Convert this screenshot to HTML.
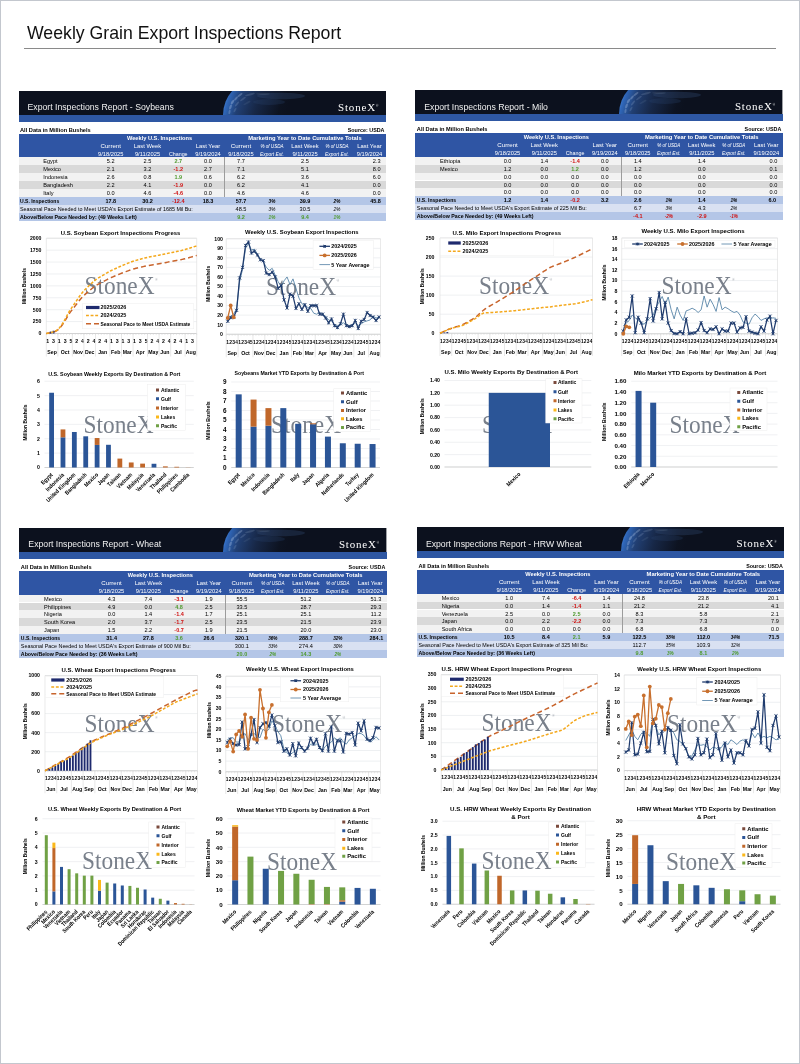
<!DOCTYPE html>
<html lang="en"><head><meta charset="utf-8"><title>Weekly Grain Export Inspections Report</title>
<style>
html,body{margin:0;padding:0;background:#fff}
body{width:800px;height:1064px;position:relative;overflow:hidden;font-family:"Liberation Sans",sans-serif;color:#000}
#page{position:absolute;left:0;top:0;width:800px;height:1064px;will-change:transform}
#frame{position:absolute;left:0;top:0;width:798px;height:1062px;border:1px solid #c3c7ce}
#title{position:absolute;left:27px;top:21.8px;font-size:17.7px;line-height:22px;color:#111;white-space:nowrap}
#rule{position:absolute;left:24px;top:47.6px;width:752px;height:1px;background:#8a8a8a}
#t div{position:absolute;white-space:nowrap;overflow:visible}
.c{font-size:5.6px;line-height:6px;height:6px}
.ac{text-align:center}.ar{text-align:right}.al{text-align:left}
.b{font-weight:700;font-size:5.5px}
.w{color:#fff}
.i{font-style:italic;font-size:4.7px}
.g{color:#4e9a2e}
.rd{color:#d01010}
.hdr{overflow:hidden}
.ht{color:#f0f0f0;font-size:8.7px;line-height:12px}
.logo{color:#fff;font-family:"Liberation Serif",serif;font-size:11px;line-height:12px;letter-spacing:0.8px}
.logo span{font-size:3px;vertical-align:top;position:relative;top:-1px}
svg text{font-family:"Liberation Sans",sans-serif}
svg text.wm{font-family:"Liberation Serif",serif;fill:#79808b}
#charts{position:absolute;left:0;top:0}
</style></head>
<body>
<div id="page">
<div id="frame"></div>
<div id="title">Weekly Grain Export Inspections Report</div>
<div id="rule"></div>
<div id="t">
<div class="hdr" style="left:18.5px;top:90.9px;width:367.4px;height:24px"><svg width="367.4" height="24" viewBox="0 0 367.4 24"><defs><linearGradient id="g1" gradientUnits="userSpaceOnUse" x1="205" y1="6" x2="282" y2="30"><stop offset="0" stop-color="#4a8ae0"/><stop offset="0.06" stop-color="#2f66b8"/><stop offset="0.2" stop-color="#213f73"/><stop offset="0.42" stop-color="#172746"/><stop offset="0.7" stop-color="#0d1321"/><stop offset="0.8" stop-color="#0c111e"/></linearGradient></defs><rect width="367.4" height="24" fill="#0c111e"/><circle cx="240" cy="24" r="36" fill="url(#g1)"/><g fill="#cfe0f7"><ellipse cx="262" cy="5" rx="24" ry="3.2" fill="#3a5686" opacity="0.28"/><ellipse cx="250" cy="11" rx="16" ry="3" fill="#2d4672" opacity="0.25"/><ellipse cx="213.5" cy="11" rx="2.6" ry="1.1" opacity="0.3" transform="rotate(-55 213.5 11)"/><ellipse cx="217" cy="7.5" rx="2.4" ry="1" opacity="0.28" transform="rotate(-45 217 7.5)"/><ellipse cx="221" cy="4" rx="3" ry="1" opacity="0.26" transform="rotate(-35 221 4)"/><ellipse cx="211.5" cy="16" rx="2.6" ry="1.1" opacity="0.28" transform="rotate(-68 211.5 16)"/><ellipse cx="210.5" cy="21" rx="2.2" ry="1" opacity="0.24" transform="rotate(-78 210.5 21)"/><ellipse cx="218" cy="13" rx="3" ry="0.9" opacity="0.16" transform="rotate(-50 218 13)"/><ellipse cx="224" cy="8" rx="3.4" ry="0.9" opacity="0.15" transform="rotate(-35 224 8)"/><ellipse cx="216" cy="19" rx="2.6" ry="0.9" opacity="0.14" transform="rotate(-60 216 19)"/><ellipse cx="231" cy="3.5" rx="5" ry="1" opacity="0.14" transform="rotate(-15 231 3.5)"/><ellipse cx="244" cy="3" rx="7" ry="0.9" opacity="0.1"/><ellipse cx="228" cy="12" rx="4" ry="1" opacity="0.08" transform="rotate(-30 228 12)"/></g></svg></div>
<div class="ht" style="left:27.5px;top:101.2px">Export Inspections Report - Soybeans</div>
<div class="logo" style="left:338.1px;top:100.5px">StoneX<span>®</span></div>
<div style="left:18.5px;top:114.8px;width:367.4px;height:7px;background:#2e57a3"></div>
<div class="c al b" style="left:20px;top:126.8px;width:120px;font-size:5.66px;">All Data in Million Bushels</div>
<div class="c ar b" style="left:304.5px;top:126.8px;width:80px;font-size:5.38px;">Source: USDA</div>
<div style="left:18.5px;top:133.7px;width:367.4px;height:23.7px;background:#2f55a4"></div>
<div class="c ac b w" style="left:109.5px;top:134.7px;width:100px;font-size:5.68px;">Weekly U.S. Inspections</div>
<div class="c ac b w" style="left:224.9px;top:134.7px;width:160px;font-size:5.81px;">Marketing Year to Date Cumulative Totals</div>
<div class="c ac w" style="left:90.75px;top:142.6px;width:40px;font-size:6.15px;">Current</div>
<div class="c ac w" style="left:90.75px;top:150.5px;width:40px;font-size:5.73px;">9/18/2025</div>
<div class="c ac w" style="left:127.5px;top:142.6px;width:40px;font-size:5.84px;">Last Week</div>
<div class="c ac w" style="left:127.5px;top:150.5px;width:40px;font-size:5.78px;">9/11/2025</div>
<div class="c ac w" style="left:158.25px;top:150.5px;width:40px;font-size:5.35px;">Change</div>
<div class="c ac w" style="left:188px;top:142.6px;width:40px;font-size:5.88px;">Last Year</div>
<div class="c ac w" style="left:188px;top:150.5px;width:40px;font-size:5.76px;">9/19/2024</div>
<div class="c ac w" style="left:221px;top:142.6px;width:40px;font-size:6.15px;">Current</div>
<div class="c ac w" style="left:221px;top:150.5px;width:40px;font-size:5.73px;">9/18/2025</div>
<div class="c ac w i" style="left:252px;top:143.6px;width:40px;font-size:4.6px;">% of USDA</div>
<div class="c ac w i" style="left:252px;top:151.5px;width:40px;font-size:4.86px;">Export Est.</div>
<div class="c ac w" style="left:285px;top:142.6px;width:40px;font-size:5.84px;">Last Week</div>
<div class="c ac w" style="left:285px;top:150.5px;width:40px;font-size:5.78px;">9/11/2025</div>
<div class="c ac w i" style="left:317px;top:143.6px;width:40px;font-size:4.6px;">% of USDA</div>
<div class="c ac w i" style="left:317px;top:151.5px;width:40px;font-size:4.86px;">Export Est.</div>
<div class="c ac w" style="left:349.5px;top:142.6px;width:40px;font-size:5.88px;">Last Year</div>
<div class="c ac w" style="left:349.5px;top:150.5px;width:40px;font-size:5.76px;">9/19/2024</div>
<div style="left:18.5px;top:157.4px;width:367.4px;height:7.9px;background:#f2f2f2"></div>
<div class="c al " style="left:43.25px;top:158.4px;width:80px;">Egypt</div>
<div class="c ac " style="left:90.75px;top:158.4px;width:40px;">5.2</div>
<div class="c ac " style="left:127.5px;top:158.4px;width:40px;">2.5</div>
<div class="c ac b g" style="left:158.25px;top:158.4px;width:40px;">2.7</div>
<div class="c ac " style="left:188px;top:158.4px;width:40px;">0.0</div>
<div class="c ac " style="left:221px;top:158.4px;width:40px;">7.7</div>
<div class="c ac " style="left:285px;top:158.4px;width:40px;">2.5</div>
<div class="c ar " style="left:340.5px;top:158.4px;width:40px;">2.3</div>
<div style="left:18.5px;top:165.3px;width:367.4px;height:7.9px;background:#d9d9d9"></div>
<div class="c al " style="left:43.25px;top:166.3px;width:80px;">Mexico</div>
<div class="c ac " style="left:90.75px;top:166.3px;width:40px;">2.1</div>
<div class="c ac " style="left:127.5px;top:166.3px;width:40px;">3.2</div>
<div class="c ac b rd" style="left:158.25px;top:166.3px;width:40px;">-1.2</div>
<div class="c ac " style="left:188px;top:166.3px;width:40px;">2.7</div>
<div class="c ac " style="left:221px;top:166.3px;width:40px;">7.1</div>
<div class="c ac " style="left:285px;top:166.3px;width:40px;">5.1</div>
<div class="c ar " style="left:340.5px;top:166.3px;width:40px;">8.0</div>
<div style="left:18.5px;top:173.2px;width:367.4px;height:7.9px;background:#f2f2f2"></div>
<div class="c al " style="left:43.25px;top:174.2px;width:80px;">Indonesia</div>
<div class="c ac " style="left:90.75px;top:174.2px;width:40px;">2.6</div>
<div class="c ac " style="left:127.5px;top:174.2px;width:40px;">0.8</div>
<div class="c ac b g" style="left:158.25px;top:174.2px;width:40px;">1.9</div>
<div class="c ac " style="left:188px;top:174.2px;width:40px;">0.6</div>
<div class="c ac " style="left:221px;top:174.2px;width:40px;">6.2</div>
<div class="c ac " style="left:285px;top:174.2px;width:40px;">3.6</div>
<div class="c ar " style="left:340.5px;top:174.2px;width:40px;">6.0</div>
<div style="left:18.5px;top:181.1px;width:367.4px;height:7.9px;background:#d9d9d9"></div>
<div class="c al " style="left:43.25px;top:182.1px;width:80px;">Bangladesh</div>
<div class="c ac " style="left:90.75px;top:182.1px;width:40px;">2.2</div>
<div class="c ac " style="left:127.5px;top:182.1px;width:40px;">4.1</div>
<div class="c ac b rd" style="left:158.25px;top:182.1px;width:40px;">-1.9</div>
<div class="c ac " style="left:188px;top:182.1px;width:40px;">0.0</div>
<div class="c ac " style="left:221px;top:182.1px;width:40px;">6.2</div>
<div class="c ac " style="left:285px;top:182.1px;width:40px;">4.1</div>
<div class="c ar " style="left:340.5px;top:182.1px;width:40px;">0.0</div>
<div style="left:18.5px;top:189px;width:367.4px;height:7.9px;background:#f2f2f2"></div>
<div class="c al " style="left:43.25px;top:190px;width:80px;">Italy</div>
<div class="c ac " style="left:90.75px;top:190px;width:40px;">0.0</div>
<div class="c ac " style="left:127.5px;top:190px;width:40px;">4.6</div>
<div class="c ac b rd" style="left:158.25px;top:190px;width:40px;">-4.6</div>
<div class="c ac " style="left:188px;top:190px;width:40px;">0.0</div>
<div class="c ac " style="left:221px;top:190px;width:40px;">4.6</div>
<div class="c ac " style="left:285px;top:190px;width:40px;">4.6</div>
<div class="c ar " style="left:340.5px;top:190px;width:40px;">0.0</div>
<div style="left:223.75px;top:157.4px;width:0.5px;height:39.5px;background:#9c9c9c"></div>
<div style="left:18.5px;top:196.9px;width:367.4px;height:7.9px;background:#b4c6e7"></div>
<div class="c al b" style="left:20px;top:197.9px;width:80px;font-size:5.05px;">U.S. Inspections</div>
<div class="c ac b" style="left:90.75px;top:197.9px;width:40px;">17.8</div>
<div class="c ac b" style="left:127.5px;top:197.9px;width:40px;">30.2</div>
<div class="c ac b rd" style="left:158.25px;top:197.9px;width:40px;">-12.4</div>
<div class="c ac b" style="left:188px;top:197.9px;width:40px;">18.3</div>
<div class="c ac b" style="left:221px;top:197.9px;width:40px;">57.7</div>
<div class="c ac b i" style="left:252px;top:198.9px;width:40px;">3%</div>
<div class="c ac b" style="left:285px;top:197.9px;width:40px;">39.9</div>
<div class="c ac b i" style="left:317px;top:198.9px;width:40px;">2%</div>
<div class="c ac b" style="left:355.5px;top:197.9px;width:40px;">45.8</div>
<div style="left:18.5px;top:204.8px;width:367.4px;height:7.9px;background:#d9e1f2"></div>
<div class="c al " style="left:20px;top:205.8px;width:200px;font-size:5.38px;">Seasonal Pace Needed to Meet USDA's Export Estimate of 1685 Mil Bu:</div>
<div class="c ac " style="left:221px;top:205.8px;width:40px;">48.5</div>
<div class="c ac i" style="left:252px;top:206.8px;width:40px;">3%</div>
<div class="c ac " style="left:285px;top:205.8px;width:40px;">30.5</div>
<div class="c ac i" style="left:317px;top:206.8px;width:40px;">2%</div>
<div style="left:18.5px;top:212.7px;width:367.4px;height:7.9px;background:#b4c6e7"></div>
<div class="c al b" style="left:20px;top:213.7px;width:200px;font-size:5.27px;">Above/Below Pace Needed by: (49 Weeks Left)</div>
<div class="c ac b g" style="left:221px;top:213.7px;width:40px;">9.2</div>
<div class="c ac b g i" style="left:252px;top:214.7px;width:40px;">1%</div>
<div class="c ac b g" style="left:285px;top:213.7px;width:40px;">9.4</div>
<div class="c ac b g i" style="left:317px;top:214.7px;width:40px;">1%</div>
<div class="hdr" style="left:415.3px;top:90.3px;width:367.4px;height:24px"><svg width="367.4" height="24" viewBox="0 0 367.4 24"><defs><linearGradient id="g2" gradientUnits="userSpaceOnUse" x1="205" y1="6" x2="282" y2="30"><stop offset="0" stop-color="#4a8ae0"/><stop offset="0.06" stop-color="#2f66b8"/><stop offset="0.2" stop-color="#213f73"/><stop offset="0.42" stop-color="#172746"/><stop offset="0.7" stop-color="#0d1321"/><stop offset="0.8" stop-color="#0c111e"/></linearGradient></defs><rect width="367.4" height="24" fill="#0c111e"/><circle cx="240" cy="24" r="36" fill="url(#g2)"/><g fill="#cfe0f7"><ellipse cx="262" cy="5" rx="24" ry="3.2" fill="#3a5686" opacity="0.28"/><ellipse cx="250" cy="11" rx="16" ry="3" fill="#2d4672" opacity="0.25"/><ellipse cx="213.5" cy="11" rx="2.6" ry="1.1" opacity="0.3" transform="rotate(-55 213.5 11)"/><ellipse cx="217" cy="7.5" rx="2.4" ry="1" opacity="0.28" transform="rotate(-45 217 7.5)"/><ellipse cx="221" cy="4" rx="3" ry="1" opacity="0.26" transform="rotate(-35 221 4)"/><ellipse cx="211.5" cy="16" rx="2.6" ry="1.1" opacity="0.28" transform="rotate(-68 211.5 16)"/><ellipse cx="210.5" cy="21" rx="2.2" ry="1" opacity="0.24" transform="rotate(-78 210.5 21)"/><ellipse cx="218" cy="13" rx="3" ry="0.9" opacity="0.16" transform="rotate(-50 218 13)"/><ellipse cx="224" cy="8" rx="3.4" ry="0.9" opacity="0.15" transform="rotate(-35 224 8)"/><ellipse cx="216" cy="19" rx="2.6" ry="0.9" opacity="0.14" transform="rotate(-60 216 19)"/><ellipse cx="231" cy="3.5" rx="5" ry="1" opacity="0.14" transform="rotate(-15 231 3.5)"/><ellipse cx="244" cy="3" rx="7" ry="0.9" opacity="0.1"/><ellipse cx="228" cy="12" rx="4" ry="1" opacity="0.08" transform="rotate(-30 228 12)"/></g></svg></div>
<div class="ht" style="left:424.3px;top:100.6px">Export Inspections Report - Milo</div>
<div class="logo" style="left:734.9px;top:99.9px">StoneX<span>®</span></div>
<div style="left:415.3px;top:114.2px;width:367.4px;height:7px;background:#2e57a3"></div>
<div class="c al b" style="left:416.8px;top:126.2px;width:120px;font-size:5.66px;">All Data in Million Bushels</div>
<div class="c ar b" style="left:701.3px;top:126.2px;width:80px;font-size:5.38px;">Source: USDA</div>
<div style="left:415.3px;top:133.1px;width:367.4px;height:23.7px;background:#2f55a4"></div>
<div class="c ac b w" style="left:506.3px;top:134.1px;width:100px;font-size:5.68px;">Weekly U.S. Inspections</div>
<div class="c ac b w" style="left:621.7px;top:134.1px;width:160px;font-size:5.81px;">Marketing Year to Date Cumulative Totals</div>
<div class="c ac w" style="left:487.55px;top:142px;width:40px;font-size:6.15px;">Current</div>
<div class="c ac w" style="left:487.55px;top:149.9px;width:40px;font-size:5.73px;">9/18/2025</div>
<div class="c ac w" style="left:524.3px;top:142px;width:40px;font-size:5.84px;">Last Week</div>
<div class="c ac w" style="left:524.3px;top:149.9px;width:40px;font-size:5.78px;">9/11/2025</div>
<div class="c ac w" style="left:555.05px;top:149.9px;width:40px;font-size:5.35px;">Change</div>
<div class="c ac w" style="left:584.8px;top:142px;width:40px;font-size:5.88px;">Last Year</div>
<div class="c ac w" style="left:584.8px;top:149.9px;width:40px;font-size:5.76px;">9/19/2024</div>
<div class="c ac w" style="left:617.8px;top:142px;width:40px;font-size:6.15px;">Current</div>
<div class="c ac w" style="left:617.8px;top:149.9px;width:40px;font-size:5.73px;">9/18/2025</div>
<div class="c ac w i" style="left:648.8px;top:143px;width:40px;font-size:4.6px;">% of USDA</div>
<div class="c ac w i" style="left:648.8px;top:150.9px;width:40px;font-size:4.86px;">Export Est.</div>
<div class="c ac w" style="left:681.8px;top:142px;width:40px;font-size:5.84px;">Last Week</div>
<div class="c ac w" style="left:681.8px;top:149.9px;width:40px;font-size:5.78px;">9/11/2025</div>
<div class="c ac w i" style="left:713.8px;top:143px;width:40px;font-size:4.6px;">% of USDA</div>
<div class="c ac w i" style="left:713.8px;top:150.9px;width:40px;font-size:4.86px;">Export Est.</div>
<div class="c ac w" style="left:746.3px;top:142px;width:40px;font-size:5.88px;">Last Year</div>
<div class="c ac w" style="left:746.3px;top:149.9px;width:40px;font-size:5.76px;">9/19/2024</div>
<div style="left:415.3px;top:156.8px;width:367.4px;height:7.9px;background:#f2f2f2"></div>
<div class="c al " style="left:440.05px;top:157.8px;width:80px;">Ethiopia</div>
<div class="c ac " style="left:487.55px;top:157.8px;width:40px;">0.0</div>
<div class="c ac " style="left:524.3px;top:157.8px;width:40px;">1.4</div>
<div class="c ac b rd" style="left:555.05px;top:157.8px;width:40px;">-1.4</div>
<div class="c ac " style="left:584.8px;top:157.8px;width:40px;">0.0</div>
<div class="c ac " style="left:617.8px;top:157.8px;width:40px;">1.4</div>
<div class="c ac " style="left:681.8px;top:157.8px;width:40px;">1.4</div>
<div class="c ar " style="left:737.3px;top:157.8px;width:40px;">0.0</div>
<div style="left:415.3px;top:164.7px;width:367.4px;height:7.9px;background:#d9d9d9"></div>
<div class="c al " style="left:440.05px;top:165.7px;width:80px;">Mexico</div>
<div class="c ac " style="left:487.55px;top:165.7px;width:40px;">1.2</div>
<div class="c ac " style="left:524.3px;top:165.7px;width:40px;">0.0</div>
<div class="c ac b g" style="left:555.05px;top:165.7px;width:40px;">1.2</div>
<div class="c ac " style="left:584.8px;top:165.7px;width:40px;">0.0</div>
<div class="c ac " style="left:617.8px;top:165.7px;width:40px;">1.2</div>
<div class="c ac " style="left:681.8px;top:165.7px;width:40px;">0.0</div>
<div class="c ar " style="left:737.3px;top:165.7px;width:40px;">0.1</div>
<div style="left:415.3px;top:172.6px;width:367.4px;height:7.9px;background:#f2f2f2"></div>
<div class="c al " style="left:440.05px;top:173.6px;width:80px;"></div>
<div class="c ac " style="left:487.55px;top:173.6px;width:40px;">0.0</div>
<div class="c ac " style="left:524.3px;top:173.6px;width:40px;">0.0</div>
<div class="c ac " style="left:555.05px;top:173.6px;width:40px;">0.0</div>
<div class="c ac " style="left:584.8px;top:173.6px;width:40px;">0.0</div>
<div class="c ac " style="left:617.8px;top:173.6px;width:40px;">0.0</div>
<div class="c ac " style="left:681.8px;top:173.6px;width:40px;">0.0</div>
<div class="c ar " style="left:737.3px;top:173.6px;width:40px;">0.0</div>
<div style="left:415.3px;top:180.5px;width:367.4px;height:7.9px;background:#d9d9d9"></div>
<div class="c al " style="left:440.05px;top:181.5px;width:80px;"></div>
<div class="c ac " style="left:487.55px;top:181.5px;width:40px;">0.0</div>
<div class="c ac " style="left:524.3px;top:181.5px;width:40px;">0.0</div>
<div class="c ac " style="left:555.05px;top:181.5px;width:40px;">0.0</div>
<div class="c ac " style="left:584.8px;top:181.5px;width:40px;">0.0</div>
<div class="c ac " style="left:617.8px;top:181.5px;width:40px;">0.0</div>
<div class="c ac " style="left:681.8px;top:181.5px;width:40px;">0.0</div>
<div class="c ar " style="left:737.3px;top:181.5px;width:40px;">0.0</div>
<div style="left:415.3px;top:188.4px;width:367.4px;height:7.9px;background:#f2f2f2"></div>
<div class="c al " style="left:440.05px;top:189.4px;width:80px;"></div>
<div class="c ac " style="left:487.55px;top:189.4px;width:40px;">0.0</div>
<div class="c ac " style="left:524.3px;top:189.4px;width:40px;">0.0</div>
<div class="c ac " style="left:555.05px;top:189.4px;width:40px;">0.0</div>
<div class="c ac " style="left:584.8px;top:189.4px;width:40px;">0.0</div>
<div class="c ac " style="left:617.8px;top:189.4px;width:40px;">0.0</div>
<div class="c ac " style="left:681.8px;top:189.4px;width:40px;">0.0</div>
<div class="c ar " style="left:737.3px;top:189.4px;width:40px;">0.0</div>
<div style="left:620.55px;top:156.8px;width:0.5px;height:39.5px;background:#9c9c9c"></div>
<div style="left:415.3px;top:196.3px;width:367.4px;height:7.9px;background:#b4c6e7"></div>
<div class="c al b" style="left:416.8px;top:197.3px;width:80px;font-size:5.05px;">U.S. Inspections</div>
<div class="c ac b" style="left:487.55px;top:197.3px;width:40px;">1.2</div>
<div class="c ac b" style="left:524.3px;top:197.3px;width:40px;">1.4</div>
<div class="c ac b rd" style="left:555.05px;top:197.3px;width:40px;">-0.2</div>
<div class="c ac b" style="left:584.8px;top:197.3px;width:40px;">3.2</div>
<div class="c ac b" style="left:617.8px;top:197.3px;width:40px;">2.6</div>
<div class="c ac b i" style="left:648.8px;top:198.3px;width:40px;">1%</div>
<div class="c ac b" style="left:681.8px;top:197.3px;width:40px;">1.4</div>
<div class="c ac b i" style="left:713.8px;top:198.3px;width:40px;">1%</div>
<div class="c ac b" style="left:752.3px;top:197.3px;width:40px;">6.0</div>
<div style="left:415.3px;top:204.2px;width:367.4px;height:7.9px;background:#d9e1f2"></div>
<div class="c al " style="left:416.8px;top:205.2px;width:200px;font-size:5.38px;">Seasonal Pace Needed to Meet USDA's Export Estimate of 225 Mil Bu:</div>
<div class="c ac " style="left:617.8px;top:205.2px;width:40px;">6.7</div>
<div class="c ac i" style="left:648.8px;top:206.2px;width:40px;">3%</div>
<div class="c ac " style="left:681.8px;top:205.2px;width:40px;">4.3</div>
<div class="c ac i" style="left:713.8px;top:206.2px;width:40px;">2%</div>
<div style="left:415.3px;top:212.1px;width:367.4px;height:7.9px;background:#b4c6e7"></div>
<div class="c al b" style="left:416.8px;top:213.1px;width:200px;font-size:5.27px;">Above/Below Pace Needed by: (49 Weeks Left)</div>
<div class="c ac b rd" style="left:617.8px;top:213.1px;width:40px;">-4.1</div>
<div class="c ac b rd i" style="left:648.8px;top:214.1px;width:40px;">-2%</div>
<div class="c ac b rd" style="left:681.8px;top:213.1px;width:40px;">-2.9</div>
<div class="c ac b rd i" style="left:713.8px;top:214.1px;width:40px;">-1%</div>
<div class="hdr" style="left:19.35px;top:528.1px;width:367.4px;height:24px"><svg width="367.4" height="24" viewBox="0 0 367.4 24"><defs><linearGradient id="g3" gradientUnits="userSpaceOnUse" x1="205" y1="6" x2="282" y2="30"><stop offset="0" stop-color="#4a8ae0"/><stop offset="0.06" stop-color="#2f66b8"/><stop offset="0.2" stop-color="#213f73"/><stop offset="0.42" stop-color="#172746"/><stop offset="0.7" stop-color="#0d1321"/><stop offset="0.8" stop-color="#0c111e"/></linearGradient></defs><rect width="367.4" height="24" fill="#0c111e"/><circle cx="240" cy="24" r="36" fill="url(#g3)"/><g fill="#cfe0f7"><ellipse cx="262" cy="5" rx="24" ry="3.2" fill="#3a5686" opacity="0.28"/><ellipse cx="250" cy="11" rx="16" ry="3" fill="#2d4672" opacity="0.25"/><ellipse cx="213.5" cy="11" rx="2.6" ry="1.1" opacity="0.3" transform="rotate(-55 213.5 11)"/><ellipse cx="217" cy="7.5" rx="2.4" ry="1" opacity="0.28" transform="rotate(-45 217 7.5)"/><ellipse cx="221" cy="4" rx="3" ry="1" opacity="0.26" transform="rotate(-35 221 4)"/><ellipse cx="211.5" cy="16" rx="2.6" ry="1.1" opacity="0.28" transform="rotate(-68 211.5 16)"/><ellipse cx="210.5" cy="21" rx="2.2" ry="1" opacity="0.24" transform="rotate(-78 210.5 21)"/><ellipse cx="218" cy="13" rx="3" ry="0.9" opacity="0.16" transform="rotate(-50 218 13)"/><ellipse cx="224" cy="8" rx="3.4" ry="0.9" opacity="0.15" transform="rotate(-35 224 8)"/><ellipse cx="216" cy="19" rx="2.6" ry="0.9" opacity="0.14" transform="rotate(-60 216 19)"/><ellipse cx="231" cy="3.5" rx="5" ry="1" opacity="0.14" transform="rotate(-15 231 3.5)"/><ellipse cx="244" cy="3" rx="7" ry="0.9" opacity="0.1"/><ellipse cx="228" cy="12" rx="4" ry="1" opacity="0.08" transform="rotate(-30 228 12)"/></g></svg></div>
<div class="ht" style="left:28.35px;top:538.4px">Export Inspections Report - Wheat</div>
<div class="logo" style="left:338.95px;top:537.7px">StoneX<span>®</span></div>
<div style="left:19.35px;top:552px;width:367.4px;height:7px;background:#2e57a3"></div>
<div class="c al b" style="left:20.85px;top:564px;width:120px;font-size:5.66px;">All Data in Million Bushels</div>
<div class="c ar b" style="left:305.35px;top:564px;width:80px;font-size:5.38px;">Source: USDA</div>
<div style="left:19.35px;top:570.9px;width:367.4px;height:23.7px;background:#2f55a4"></div>
<div class="c ac b w" style="left:110.35px;top:571.9px;width:100px;font-size:5.68px;">Weekly U.S. Inspections</div>
<div class="c ac b w" style="left:225.75px;top:571.9px;width:160px;font-size:5.81px;">Marketing Year to Date Cumulative Totals</div>
<div class="c ac w" style="left:91.6px;top:579.8px;width:40px;font-size:6.15px;">Current</div>
<div class="c ac w" style="left:91.6px;top:587.7px;width:40px;font-size:5.73px;">9/18/2025</div>
<div class="c ac w" style="left:128.35px;top:579.8px;width:40px;font-size:5.84px;">Last Week</div>
<div class="c ac w" style="left:128.35px;top:587.7px;width:40px;font-size:5.78px;">9/11/2025</div>
<div class="c ac w" style="left:159.1px;top:587.7px;width:40px;font-size:5.35px;">Change</div>
<div class="c ac w" style="left:188.85px;top:579.8px;width:40px;font-size:5.88px;">Last Year</div>
<div class="c ac w" style="left:188.85px;top:587.7px;width:40px;font-size:5.76px;">9/19/2024</div>
<div class="c ac w" style="left:221.85px;top:579.8px;width:40px;font-size:6.15px;">Current</div>
<div class="c ac w" style="left:221.85px;top:587.7px;width:40px;font-size:5.73px;">9/18/2025</div>
<div class="c ac w i" style="left:252.85px;top:580.8px;width:40px;font-size:4.6px;">% of USDA</div>
<div class="c ac w i" style="left:252.85px;top:588.7px;width:40px;font-size:4.86px;">Export Est.</div>
<div class="c ac w" style="left:285.85px;top:579.8px;width:40px;font-size:5.84px;">Last Week</div>
<div class="c ac w" style="left:285.85px;top:587.7px;width:40px;font-size:5.78px;">9/11/2025</div>
<div class="c ac w i" style="left:317.85px;top:580.8px;width:40px;font-size:4.6px;">% of USDA</div>
<div class="c ac w i" style="left:317.85px;top:588.7px;width:40px;font-size:4.86px;">Export Est.</div>
<div class="c ac w" style="left:350.35px;top:579.8px;width:40px;font-size:5.88px;">Last Year</div>
<div class="c ac w" style="left:350.35px;top:587.7px;width:40px;font-size:5.76px;">9/19/2024</div>
<div style="left:19.35px;top:594.6px;width:367.4px;height:7.9px;background:#f2f2f2"></div>
<div class="c al " style="left:44.1px;top:595.6px;width:80px;">Mexico</div>
<div class="c ac " style="left:91.6px;top:595.6px;width:40px;">4.3</div>
<div class="c ac " style="left:128.35px;top:595.6px;width:40px;">7.4</div>
<div class="c ac b rd" style="left:159.1px;top:595.6px;width:40px;">-3.1</div>
<div class="c ac " style="left:188.85px;top:595.6px;width:40px;">1.9</div>
<div class="c ac " style="left:221.85px;top:595.6px;width:40px;">55.5</div>
<div class="c ac " style="left:285.85px;top:595.6px;width:40px;">51.2</div>
<div class="c ar " style="left:341.35px;top:595.6px;width:40px;">51.3</div>
<div style="left:19.35px;top:602.5px;width:367.4px;height:7.9px;background:#d9d9d9"></div>
<div class="c al " style="left:44.1px;top:603.5px;width:80px;">Philippines</div>
<div class="c ac " style="left:91.6px;top:603.5px;width:40px;">4.9</div>
<div class="c ac " style="left:128.35px;top:603.5px;width:40px;">0.0</div>
<div class="c ac b g" style="left:159.1px;top:603.5px;width:40px;">4.8</div>
<div class="c ac " style="left:188.85px;top:603.5px;width:40px;">2.5</div>
<div class="c ac " style="left:221.85px;top:603.5px;width:40px;">33.5</div>
<div class="c ac " style="left:285.85px;top:603.5px;width:40px;">28.7</div>
<div class="c ar " style="left:341.35px;top:603.5px;width:40px;">29.3</div>
<div style="left:19.35px;top:610.4px;width:367.4px;height:7.9px;background:#f2f2f2"></div>
<div class="c al " style="left:44.1px;top:611.4px;width:80px;">Nigeria</div>
<div class="c ac " style="left:91.6px;top:611.4px;width:40px;">0.0</div>
<div class="c ac " style="left:128.35px;top:611.4px;width:40px;">1.4</div>
<div class="c ac b rd" style="left:159.1px;top:611.4px;width:40px;">-1.4</div>
<div class="c ac " style="left:188.85px;top:611.4px;width:40px;">1.7</div>
<div class="c ac " style="left:221.85px;top:611.4px;width:40px;">25.1</div>
<div class="c ac " style="left:285.85px;top:611.4px;width:40px;">25.1</div>
<div class="c ar " style="left:341.35px;top:611.4px;width:40px;">11.2</div>
<div style="left:19.35px;top:618.3px;width:367.4px;height:7.9px;background:#d9d9d9"></div>
<div class="c al " style="left:44.1px;top:619.3px;width:80px;">South Korea</div>
<div class="c ac " style="left:91.6px;top:619.3px;width:40px;">2.0</div>
<div class="c ac " style="left:128.35px;top:619.3px;width:40px;">3.7</div>
<div class="c ac b rd" style="left:159.1px;top:619.3px;width:40px;">-1.7</div>
<div class="c ac " style="left:188.85px;top:619.3px;width:40px;">2.5</div>
<div class="c ac " style="left:221.85px;top:619.3px;width:40px;">23.5</div>
<div class="c ac " style="left:285.85px;top:619.3px;width:40px;">21.5</div>
<div class="c ar " style="left:341.35px;top:619.3px;width:40px;">23.9</div>
<div style="left:19.35px;top:626.2px;width:367.4px;height:7.9px;background:#f2f2f2"></div>
<div class="c al " style="left:44.1px;top:627.2px;width:80px;">Japan</div>
<div class="c ac " style="left:91.6px;top:627.2px;width:40px;">1.5</div>
<div class="c ac " style="left:128.35px;top:627.2px;width:40px;">2.2</div>
<div class="c ac b rd" style="left:159.1px;top:627.2px;width:40px;">-0.7</div>
<div class="c ac " style="left:188.85px;top:627.2px;width:40px;">1.9</div>
<div class="c ac " style="left:221.85px;top:627.2px;width:40px;">21.5</div>
<div class="c ac " style="left:285.85px;top:627.2px;width:40px;">20.0</div>
<div class="c ar " style="left:341.35px;top:627.2px;width:40px;">23.0</div>
<div style="left:224.6px;top:594.6px;width:0.5px;height:39.5px;background:#9c9c9c"></div>
<div style="left:19.35px;top:634.1px;width:367.4px;height:7.9px;background:#b4c6e7"></div>
<div class="c al b" style="left:20.85px;top:635.1px;width:80px;font-size:5.05px;">U.S. Inspections</div>
<div class="c ac b" style="left:91.6px;top:635.1px;width:40px;">31.4</div>
<div class="c ac b" style="left:128.35px;top:635.1px;width:40px;">27.8</div>
<div class="c ac b g" style="left:159.1px;top:635.1px;width:40px;">3.6</div>
<div class="c ac b" style="left:188.85px;top:635.1px;width:40px;">26.6</div>
<div class="c ac b" style="left:221.85px;top:635.1px;width:40px;">320.1</div>
<div class="c ac b i" style="left:252.85px;top:636.1px;width:40px;">36%</div>
<div class="c ac b" style="left:285.85px;top:635.1px;width:40px;">288.7</div>
<div class="c ac b i" style="left:317.85px;top:636.1px;width:40px;">32%</div>
<div class="c ac b" style="left:356.35px;top:635.1px;width:40px;">284.1</div>
<div style="left:19.35px;top:642px;width:367.4px;height:7.9px;background:#d9e1f2"></div>
<div class="c al " style="left:20.85px;top:643px;width:200px;font-size:5.38px;">Seasonal Pace Needed to Meet USDA's Export Estimate of 900 Mil Bu:</div>
<div class="c ac " style="left:221.85px;top:643px;width:40px;">300.1</div>
<div class="c ac i" style="left:252.85px;top:644px;width:40px;">33%</div>
<div class="c ac " style="left:285.85px;top:643px;width:40px;">274.4</div>
<div class="c ac i" style="left:317.85px;top:644px;width:40px;">30%</div>
<div style="left:19.35px;top:649.9px;width:367.4px;height:7.9px;background:#b4c6e7"></div>
<div class="c al b" style="left:20.85px;top:650.9px;width:200px;font-size:5.27px;">Above/Below Pace Needed by: (36 Weeks Left)</div>
<div class="c ac b g" style="left:221.85px;top:650.9px;width:40px;">20.0</div>
<div class="c ac b g i" style="left:252.85px;top:651.9px;width:40px;">2%</div>
<div class="c ac b g" style="left:285.85px;top:650.9px;width:40px;">14.3</div>
<div class="c ac b g i" style="left:317.85px;top:651.9px;width:40px;">2%</div>
<div class="hdr" style="left:416.9px;top:527.2px;width:367.4px;height:24px"><svg width="367.4" height="24" viewBox="0 0 367.4 24"><defs><linearGradient id="g4" gradientUnits="userSpaceOnUse" x1="205" y1="6" x2="282" y2="30"><stop offset="0" stop-color="#4a8ae0"/><stop offset="0.06" stop-color="#2f66b8"/><stop offset="0.2" stop-color="#213f73"/><stop offset="0.42" stop-color="#172746"/><stop offset="0.7" stop-color="#0d1321"/><stop offset="0.8" stop-color="#0c111e"/></linearGradient></defs><rect width="367.4" height="24" fill="#0c111e"/><circle cx="240" cy="24" r="36" fill="url(#g4)"/><g fill="#cfe0f7"><ellipse cx="262" cy="5" rx="24" ry="3.2" fill="#3a5686" opacity="0.28"/><ellipse cx="250" cy="11" rx="16" ry="3" fill="#2d4672" opacity="0.25"/><ellipse cx="213.5" cy="11" rx="2.6" ry="1.1" opacity="0.3" transform="rotate(-55 213.5 11)"/><ellipse cx="217" cy="7.5" rx="2.4" ry="1" opacity="0.28" transform="rotate(-45 217 7.5)"/><ellipse cx="221" cy="4" rx="3" ry="1" opacity="0.26" transform="rotate(-35 221 4)"/><ellipse cx="211.5" cy="16" rx="2.6" ry="1.1" opacity="0.28" transform="rotate(-68 211.5 16)"/><ellipse cx="210.5" cy="21" rx="2.2" ry="1" opacity="0.24" transform="rotate(-78 210.5 21)"/><ellipse cx="218" cy="13" rx="3" ry="0.9" opacity="0.16" transform="rotate(-50 218 13)"/><ellipse cx="224" cy="8" rx="3.4" ry="0.9" opacity="0.15" transform="rotate(-35 224 8)"/><ellipse cx="216" cy="19" rx="2.6" ry="0.9" opacity="0.14" transform="rotate(-60 216 19)"/><ellipse cx="231" cy="3.5" rx="5" ry="1" opacity="0.14" transform="rotate(-15 231 3.5)"/><ellipse cx="244" cy="3" rx="7" ry="0.9" opacity="0.1"/><ellipse cx="228" cy="12" rx="4" ry="1" opacity="0.08" transform="rotate(-30 228 12)"/></g></svg></div>
<div class="ht" style="left:425.9px;top:537.5px">Export Inspections Report - HRW Wheat</div>
<div class="logo" style="left:736.5px;top:536.8px">StoneX<span>®</span></div>
<div style="left:416.9px;top:551.1px;width:367.4px;height:7px;background:#2e57a3"></div>
<div class="c al b" style="left:418.4px;top:563.1px;width:120px;font-size:5.66px;">All Data in Million Bushels</div>
<div class="c ar b" style="left:702.9px;top:563.1px;width:80px;font-size:5.38px;">Source: USDA</div>
<div style="left:416.9px;top:570px;width:367.4px;height:23.7px;background:#2f55a4"></div>
<div class="c ac b w" style="left:507.9px;top:571px;width:100px;font-size:5.68px;">Weekly U.S. Inspections</div>
<div class="c ac b w" style="left:623.3px;top:571px;width:160px;font-size:5.81px;">Marketing Year to Date Cumulative Totals</div>
<div class="c ac w" style="left:489.15px;top:578.9px;width:40px;font-size:6.15px;">Current</div>
<div class="c ac w" style="left:489.15px;top:586.8px;width:40px;font-size:5.73px;">9/18/2025</div>
<div class="c ac w" style="left:525.9px;top:578.9px;width:40px;font-size:5.84px;">Last Week</div>
<div class="c ac w" style="left:525.9px;top:586.8px;width:40px;font-size:5.78px;">9/11/2025</div>
<div class="c ac w" style="left:556.65px;top:586.8px;width:40px;font-size:5.35px;">Change</div>
<div class="c ac w" style="left:586.4px;top:578.9px;width:40px;font-size:5.88px;">Last Year</div>
<div class="c ac w" style="left:586.4px;top:586.8px;width:40px;font-size:5.76px;">9/19/2024</div>
<div class="c ac w" style="left:619.4px;top:578.9px;width:40px;font-size:6.15px;">Current</div>
<div class="c ac w" style="left:619.4px;top:586.8px;width:40px;font-size:5.73px;">9/18/2025</div>
<div class="c ac w i" style="left:650.4px;top:579.9px;width:40px;font-size:4.6px;">% of USDA</div>
<div class="c ac w i" style="left:650.4px;top:587.8px;width:40px;font-size:4.86px;">Export Est.</div>
<div class="c ac w" style="left:683.4px;top:578.9px;width:40px;font-size:5.84px;">Last Week</div>
<div class="c ac w" style="left:683.4px;top:586.8px;width:40px;font-size:5.78px;">9/11/2025</div>
<div class="c ac w i" style="left:715.4px;top:579.9px;width:40px;font-size:4.6px;">% of USDA</div>
<div class="c ac w i" style="left:715.4px;top:587.8px;width:40px;font-size:4.86px;">Export Est.</div>
<div class="c ac w" style="left:747.9px;top:578.9px;width:40px;font-size:5.88px;">Last Year</div>
<div class="c ac w" style="left:747.9px;top:586.8px;width:40px;font-size:5.76px;">9/19/2024</div>
<div style="left:416.9px;top:593.7px;width:367.4px;height:7.9px;background:#f2f2f2"></div>
<div class="c al " style="left:441.65px;top:594.7px;width:80px;">Mexico</div>
<div class="c ac " style="left:489.15px;top:594.7px;width:40px;">1.0</div>
<div class="c ac " style="left:525.9px;top:594.7px;width:40px;">7.4</div>
<div class="c ac b rd" style="left:556.65px;top:594.7px;width:40px;">-6.4</div>
<div class="c ac " style="left:586.4px;top:594.7px;width:40px;">1.4</div>
<div class="c ac " style="left:619.4px;top:594.7px;width:40px;">24.8</div>
<div class="c ac " style="left:683.4px;top:594.7px;width:40px;">23.8</div>
<div class="c ar " style="left:738.9px;top:594.7px;width:40px;">20.1</div>
<div style="left:416.9px;top:601.6px;width:367.4px;height:7.9px;background:#d9d9d9"></div>
<div class="c al " style="left:441.65px;top:602.6px;width:80px;">Nigeria</div>
<div class="c ac " style="left:489.15px;top:602.6px;width:40px;">0.0</div>
<div class="c ac " style="left:525.9px;top:602.6px;width:40px;">1.4</div>
<div class="c ac b rd" style="left:556.65px;top:602.6px;width:40px;">-1.4</div>
<div class="c ac " style="left:586.4px;top:602.6px;width:40px;">1.1</div>
<div class="c ac " style="left:619.4px;top:602.6px;width:40px;">21.2</div>
<div class="c ac " style="left:683.4px;top:602.6px;width:40px;">21.2</div>
<div class="c ar " style="left:738.9px;top:602.6px;width:40px;">4.1</div>
<div style="left:416.9px;top:609.5px;width:367.4px;height:7.9px;background:#f2f2f2"></div>
<div class="c al " style="left:441.65px;top:610.5px;width:80px;">Venezuela</div>
<div class="c ac " style="left:489.15px;top:610.5px;width:40px;">2.5</div>
<div class="c ac " style="left:525.9px;top:610.5px;width:40px;">0.0</div>
<div class="c ac b g" style="left:556.65px;top:610.5px;width:40px;">2.5</div>
<div class="c ac " style="left:586.4px;top:610.5px;width:40px;">0.0</div>
<div class="c ac " style="left:619.4px;top:610.5px;width:40px;">8.3</div>
<div class="c ac " style="left:683.4px;top:610.5px;width:40px;">5.8</div>
<div class="c ar " style="left:738.9px;top:610.5px;width:40px;">2.1</div>
<div style="left:416.9px;top:617.4px;width:367.4px;height:7.9px;background:#d9d9d9"></div>
<div class="c al " style="left:441.65px;top:618.4px;width:80px;">Japan</div>
<div class="c ac " style="left:489.15px;top:618.4px;width:40px;">0.0</div>
<div class="c ac " style="left:525.9px;top:618.4px;width:40px;">2.2</div>
<div class="c ac b rd" style="left:556.65px;top:618.4px;width:40px;">-2.2</div>
<div class="c ac " style="left:586.4px;top:618.4px;width:40px;">0.0</div>
<div class="c ac " style="left:619.4px;top:618.4px;width:40px;">7.3</div>
<div class="c ac " style="left:683.4px;top:618.4px;width:40px;">7.3</div>
<div class="c ar " style="left:738.9px;top:618.4px;width:40px;">7.9</div>
<div style="left:416.9px;top:625.3px;width:367.4px;height:7.9px;background:#f2f2f2"></div>
<div class="c al " style="left:441.65px;top:626.3px;width:80px;">South Africa</div>
<div class="c ac " style="left:489.15px;top:626.3px;width:40px;">0.0</div>
<div class="c ac " style="left:525.9px;top:626.3px;width:40px;">0.0</div>
<div class="c ac " style="left:556.65px;top:626.3px;width:40px;">0.0</div>
<div class="c ac " style="left:586.4px;top:626.3px;width:40px;">0.0</div>
<div class="c ac " style="left:619.4px;top:626.3px;width:40px;">6.8</div>
<div class="c ac " style="left:683.4px;top:626.3px;width:40px;">6.8</div>
<div class="c ar " style="left:738.9px;top:626.3px;width:40px;">0.0</div>
<div style="left:622.15px;top:593.7px;width:0.5px;height:39.5px;background:#9c9c9c"></div>
<div style="left:416.9px;top:633.2px;width:367.4px;height:7.9px;background:#b4c6e7"></div>
<div class="c al b" style="left:418.4px;top:634.2px;width:80px;font-size:5.05px;">U.S. Inspections</div>
<div class="c ac b" style="left:489.15px;top:634.2px;width:40px;">10.5</div>
<div class="c ac b" style="left:525.9px;top:634.2px;width:40px;">8.4</div>
<div class="c ac b g" style="left:556.65px;top:634.2px;width:40px;">2.1</div>
<div class="c ac b" style="left:586.4px;top:634.2px;width:40px;">5.9</div>
<div class="c ac b" style="left:619.4px;top:634.2px;width:40px;">122.5</div>
<div class="c ac b i" style="left:650.4px;top:635.2px;width:40px;">38%</div>
<div class="c ac b" style="left:683.4px;top:634.2px;width:40px;">112.0</div>
<div class="c ac b i" style="left:715.4px;top:635.2px;width:40px;">34%</div>
<div class="c ac b" style="left:753.9px;top:634.2px;width:40px;">71.5</div>
<div style="left:416.9px;top:641.1px;width:367.4px;height:7.9px;background:#d9e1f2"></div>
<div class="c al " style="left:418.4px;top:642.1px;width:200px;font-size:5.38px;">Seasonal Pace Needed to Meet USDA's Export Estimate of 325 Mil Bu:</div>
<div class="c ac " style="left:619.4px;top:642.1px;width:40px;">112.7</div>
<div class="c ac i" style="left:650.4px;top:643.1px;width:40px;">35%</div>
<div class="c ac " style="left:683.4px;top:642.1px;width:40px;">103.9</div>
<div class="c ac i" style="left:715.4px;top:643.1px;width:40px;">32%</div>
<div style="left:416.9px;top:649px;width:367.4px;height:7.9px;background:#b4c6e7"></div>
<div class="c al b" style="left:418.4px;top:650px;width:200px;font-size:5.27px;">Above/Below Pace Needed by: (36 Weeks Left)</div>
<div class="c ac b g" style="left:619.4px;top:650px;width:40px;">9.8</div>
<div class="c ac b g i" style="left:650.4px;top:651px;width:40px;">3%</div>
<div class="c ac b g" style="left:683.4px;top:650px;width:40px;">8.1</div>
<div class="c ac b g i" style="left:715.4px;top:651px;width:40px;">2%</div>
</div>
<svg id="charts" width="800" height="1064" viewBox="0 0 800 1064">
<text x="120.5" y="234.6" font-size="5.9" text-anchor="middle" font-weight="700" fill="#000">U.S. Soybean Export Inspections Progress</text>
<line x1="46.3" y1="333.5" x2="196.7" y2="333.5" stroke="#e3e6ea" stroke-width="0.6"/>
<text x="41.5" y="335.37" font-size="5.2" text-anchor="end" font-weight="700" fill="#000">0</text>
<line x1="46.3" y1="321.59" x2="196.7" y2="321.59" stroke="#e3e6ea" stroke-width="0.6"/>
<text x="41.5" y="323.47" font-size="5.2" text-anchor="end" font-weight="700" fill="#000">250</text>
<line x1="46.3" y1="309.69" x2="196.7" y2="309.69" stroke="#e3e6ea" stroke-width="0.6"/>
<text x="41.5" y="311.56" font-size="5.2" text-anchor="end" font-weight="700" fill="#000">500</text>
<line x1="46.3" y1="297.78" x2="196.7" y2="297.78" stroke="#e3e6ea" stroke-width="0.6"/>
<text x="41.5" y="299.65" font-size="5.2" text-anchor="end" font-weight="700" fill="#000">750</text>
<line x1="46.3" y1="285.88" x2="196.7" y2="285.88" stroke="#e3e6ea" stroke-width="0.6"/>
<text x="41.5" y="287.75" font-size="5.2" text-anchor="end" font-weight="700" fill="#000">1000</text>
<line x1="46.3" y1="273.97" x2="196.7" y2="273.97" stroke="#e3e6ea" stroke-width="0.6"/>
<text x="41.5" y="275.84" font-size="5.2" text-anchor="end" font-weight="700" fill="#000">1250</text>
<line x1="46.3" y1="262.06" x2="196.7" y2="262.06" stroke="#e3e6ea" stroke-width="0.6"/>
<text x="41.5" y="263.93" font-size="5.2" text-anchor="end" font-weight="700" fill="#000">1500</text>
<line x1="46.3" y1="250.16" x2="196.7" y2="250.16" stroke="#e3e6ea" stroke-width="0.6"/>
<text x="41.5" y="252.03" font-size="5.2" text-anchor="end" font-weight="700" fill="#000">1750</text>
<line x1="46.3" y1="238.25" x2="196.7" y2="238.25" stroke="#e3e6ea" stroke-width="0.6"/>
<text x="41.5" y="240.12" font-size="5.2" text-anchor="end" font-weight="700" fill="#000">2000</text>
<text x="25.95" y="286" font-size="4.9" text-anchor="middle" font-weight="700" fill="#000" transform="rotate(-90 25.95 286)">Million Bushels</text>
<line x1="46.3" y1="238.25" x2="46.3" y2="333.5" stroke="#dcdcdc" stroke-width="0.6"/>
<line x1="46.3" y1="333.5" x2="196.7" y2="333.5" stroke="#c6c6c6" stroke-width="0.7"/>
<path d="M46.3 333.5v1.6 M49.19 333.5v1.6 M52.08 333.5v1.6 M54.98 333.5v1.6 M57.87 333.5v1.6 M60.76 333.5v1.6 M63.65 333.5v1.6 M66.55 333.5v1.6 M69.44 333.5v1.6 M72.33 333.5v1.6 M75.22 333.5v1.6 M78.12 333.5v1.6 M81.01 333.5v1.6 M83.9 333.5v1.6 M86.79 333.5v1.6 M89.68 333.5v1.6 M92.58 333.5v1.6 M95.47 333.5v1.6 M98.36 333.5v1.6 M101.25 333.5v1.6 M104.15 333.5v1.6 M107.04 333.5v1.6 M109.93 333.5v1.6 M112.82 333.5v1.6 M115.72 333.5v1.6 M118.61 333.5v1.6 M121.5 333.5v1.6 M124.39 333.5v1.6 M127.28 333.5v1.6 M130.18 333.5v1.6 M133.07 333.5v1.6 M135.96 333.5v1.6 M138.85 333.5v1.6 M141.75 333.5v1.6 M144.64 333.5v1.6 M147.53 333.5v1.6 M150.42 333.5v1.6 M153.32 333.5v1.6 M156.21 333.5v1.6 M159.1 333.5v1.6 M161.99 333.5v1.6 M164.88 333.5v1.6 M167.78 333.5v1.6 M170.67 333.5v1.6 M173.56 333.5v1.6 M176.45 333.5v1.6 M179.35 333.5v1.6 M182.24 333.5v1.6 M185.13 333.5v1.6 M188.02 333.5v1.6 M190.92 333.5v1.6 M193.81 333.5v1.6 M196.7 333.5v1.6" stroke="#d4d4d4" stroke-width="0.5" fill="none"/>
<line x1="46.3" y1="333.5" x2="46.3" y2="356.5" stroke="#d9d9d9" stroke-width="0.6"/>
<text x="47.75" y="343.12" font-size="5.2" text-anchor="middle" font-weight="700" fill="#000">1</text>
<text x="53.53" y="343.12" font-size="5.2" text-anchor="middle" font-weight="700" fill="#000">3</text>
<text x="52.08" y="354.37" font-size="5.2" text-anchor="middle" font-weight="700" fill="#000">Sep</text>
<line x1="57.87" y1="333.5" x2="57.87" y2="356.5" stroke="#d9d9d9" stroke-width="0.6"/>
<text x="59.32" y="343.12" font-size="5.2" text-anchor="middle" font-weight="700" fill="#000">1</text>
<text x="65.1" y="343.12" font-size="5.2" text-anchor="middle" font-weight="700" fill="#000">3</text>
<text x="70.88" y="343.12" font-size="5.2" text-anchor="middle" font-weight="700" fill="#000">5</text>
<text x="65.1" y="354.37" font-size="5.2" text-anchor="middle" font-weight="700" fill="#000">Oct</text>
<line x1="72.33" y1="333.5" x2="72.33" y2="356.5" stroke="#d9d9d9" stroke-width="0.6"/>
<text x="76.67" y="343.12" font-size="5.2" text-anchor="middle" font-weight="700" fill="#000">2</text>
<text x="82.45" y="343.12" font-size="5.2" text-anchor="middle" font-weight="700" fill="#000">4</text>
<text x="78.12" y="354.37" font-size="5.2" text-anchor="middle" font-weight="700" fill="#000">Nov</text>
<line x1="83.9" y1="333.5" x2="83.9" y2="356.5" stroke="#d9d9d9" stroke-width="0.6"/>
<text x="88.24" y="343.12" font-size="5.2" text-anchor="middle" font-weight="700" fill="#000">2</text>
<text x="94.02" y="343.12" font-size="5.2" text-anchor="middle" font-weight="700" fill="#000">4</text>
<text x="89.68" y="354.37" font-size="5.2" text-anchor="middle" font-weight="700" fill="#000">Dec</text>
<line x1="95.47" y1="333.5" x2="95.47" y2="356.5" stroke="#d9d9d9" stroke-width="0.6"/>
<text x="99.81" y="343.12" font-size="5.2" text-anchor="middle" font-weight="700" fill="#000">2</text>
<text x="105.59" y="343.12" font-size="5.2" text-anchor="middle" font-weight="700" fill="#000">4</text>
<text x="102.7" y="354.37" font-size="5.2" text-anchor="middle" font-weight="700" fill="#000">Jan</text>
<line x1="109.93" y1="333.5" x2="109.93" y2="356.5" stroke="#d9d9d9" stroke-width="0.6"/>
<text x="111.38" y="343.12" font-size="5.2" text-anchor="middle" font-weight="700" fill="#000">1</text>
<text x="117.16" y="343.12" font-size="5.2" text-anchor="middle" font-weight="700" fill="#000">3</text>
<text x="115.72" y="354.37" font-size="5.2" text-anchor="middle" font-weight="700" fill="#000">Feb</text>
<line x1="121.5" y1="333.5" x2="121.5" y2="356.5" stroke="#d9d9d9" stroke-width="0.6"/>
<text x="122.95" y="343.12" font-size="5.2" text-anchor="middle" font-weight="700" fill="#000">1</text>
<text x="128.73" y="343.12" font-size="5.2" text-anchor="middle" font-weight="700" fill="#000">3</text>
<text x="127.28" y="354.37" font-size="5.2" text-anchor="middle" font-weight="700" fill="#000">Mar</text>
<line x1="133.07" y1="333.5" x2="133.07" y2="356.5" stroke="#d9d9d9" stroke-width="0.6"/>
<text x="134.52" y="343.12" font-size="5.2" text-anchor="middle" font-weight="700" fill="#000">1</text>
<text x="140.3" y="343.12" font-size="5.2" text-anchor="middle" font-weight="700" fill="#000">3</text>
<text x="146.08" y="343.12" font-size="5.2" text-anchor="middle" font-weight="700" fill="#000">5</text>
<text x="140.3" y="354.37" font-size="5.2" text-anchor="middle" font-weight="700" fill="#000">Apr</text>
<line x1="147.53" y1="333.5" x2="147.53" y2="356.5" stroke="#d9d9d9" stroke-width="0.6"/>
<text x="151.87" y="343.12" font-size="5.2" text-anchor="middle" font-weight="700" fill="#000">2</text>
<text x="157.65" y="343.12" font-size="5.2" text-anchor="middle" font-weight="700" fill="#000">4</text>
<text x="153.32" y="354.37" font-size="5.2" text-anchor="middle" font-weight="700" fill="#000">May</text>
<line x1="159.1" y1="333.5" x2="159.1" y2="356.5" stroke="#d9d9d9" stroke-width="0.6"/>
<text x="163.44" y="343.12" font-size="5.2" text-anchor="middle" font-weight="700" fill="#000">2</text>
<text x="169.22" y="343.12" font-size="5.2" text-anchor="middle" font-weight="700" fill="#000">4</text>
<text x="164.88" y="354.37" font-size="5.2" text-anchor="middle" font-weight="700" fill="#000">Jun</text>
<line x1="170.67" y1="333.5" x2="170.67" y2="356.5" stroke="#d9d9d9" stroke-width="0.6"/>
<text x="175.01" y="343.12" font-size="5.2" text-anchor="middle" font-weight="700" fill="#000">2</text>
<text x="180.79" y="343.12" font-size="5.2" text-anchor="middle" font-weight="700" fill="#000">4</text>
<text x="177.9" y="354.37" font-size="5.2" text-anchor="middle" font-weight="700" fill="#000">Jul</text>
<line x1="185.13" y1="333.5" x2="185.13" y2="356.5" stroke="#d9d9d9" stroke-width="0.6"/>
<text x="186.58" y="343.12" font-size="5.2" text-anchor="middle" font-weight="700" fill="#000">1</text>
<text x="192.36" y="343.12" font-size="5.2" text-anchor="middle" font-weight="700" fill="#000">3</text>
<text x="190.92" y="354.37" font-size="5.2" text-anchor="middle" font-weight="700" fill="#000">Aug</text>
<line x1="196.7" y1="238.25" x2="196.7" y2="333.5" stroke="#dcdcdc" stroke-width="0.6"/>
<line x1="196.7" y1="333.5" x2="196.7" y2="356.5" stroke="#d9d9d9" stroke-width="0.6"/>
<line x1="46.3" y1="238.25" x2="196.7" y2="238.25" stroke="#dcdcdc" stroke-width="0.6"/>
<text class="wm" x="84.5" y="294.25" font-size="26" textLength="70" lengthAdjust="spacingAndGlyphs">StoneX</text><text class="wm" x="155.1" y="281.05" font-size="3.6" opacity="0.8">®</text>
<rect x="82.5" y="303.75" width="111.25" height="25" fill="#fff" stroke="#eeeeee" stroke-width="0.5"/>
<polyline points="46.3,333.5 47.75,333.24 49.19,332.97 50.64,332.69 52.08,332.35 53.53,331.95 54.98,331.48 56.42,330.86 57.87,329.92 59.32,328.56 60.76,326.87 62.21,324.99 63.65,322.91 65.1,320.61 66.55,318.14 67.99,315.68 69.44,313.4 70.88,311.37 72.33,309.52 73.78,307.71 75.22,305.86 76.67,303.97 78.12,302.08 79.56,300.23 81.01,298.51 82.45,296.96 83.9,295.53 85.35,294.17 86.79,292.86 88.24,291.61 89.68,290.4 91.13,289.21 92.58,288.02 94.02,286.88 95.47,285.84 96.92,284.93 98.36,284.12 99.81,283.35 101.25,282.59 102.7,281.83 104.15,281.06 105.59,280.3 107.04,279.54 108.48,278.8 109.93,278.1 111.38,277.44 112.82,276.83 114.27,276.23 115.72,275.64 117.16,275.04 118.61,274.45 120.05,273.86 121.5,273.28 122.95,272.73 124.39,272.18 125.84,271.65 127.28,271.11 128.73,270.58 130.18,270.04 131.62,269.53 133.07,269.06 134.52,268.66 135.96,268.3 137.41,267.97 138.85,267.63 140.3,267.3 141.75,266.97 143.19,266.63 144.64,266.3 146.08,265.98 147.53,265.68 148.98,265.41 150.42,265.16 151.87,264.92 153.32,264.68 154.76,264.44 156.21,264.21 157.65,263.96 159.1,263.72 160.55,263.46 161.99,263.19 163.44,262.93 164.88,262.66 166.33,262.39 167.78,262.12 169.22,261.85 170.67,261.59 172.12,261.32 173.56,261.05 175.01,260.78 176.45,260.51 177.9,260.25 179.35,259.98 180.79,259.7 182.24,259.39 183.68,259.05 185.13,258.68 186.58,258.3 188.02,257.92 189.47,257.53 190.92,257.13 192.36,256.71 193.81,256.28 195.25,255.84 196.7,255.39" fill="none" stroke="#c8642c" stroke-width="1.5" stroke-linejoin="round" stroke-dasharray="5 3"/>
<rect x="46.82" y="333.02" width="1.85" height="0.48" fill="#1e2a6e"/>
<rect x="49.71" y="331.6" width="1.85" height="1.9" fill="#1e2a6e"/>
<rect x="52.61" y="330.74" width="1.85" height="2.76" fill="#1e2a6e"/>
<polyline points="46.3,333.5 47.75,333.2 49.19,332.9 50.64,332.58 52.08,332.2 53.53,331.74 54.98,331.21 56.42,330.52 57.87,329.47 59.32,327.96 60.76,326.08 62.21,323.99 63.65,321.68 65.1,319.11 66.55,316.36 67.99,313.62 69.44,311.09 70.88,308.85 72.33,306.81 73.78,304.79 75.22,302.7 76.67,300.54 78.12,298.36 79.56,296.24 81.01,294.27 82.45,292.5 83.9,290.89 85.35,289.35 86.79,287.87 88.24,286.46 89.68,285.08 91.13,283.73 92.58,282.39 94.02,281.09 95.47,279.91 96.92,278.89 98.36,277.98 99.81,277.11 101.25,276.25 102.7,275.4 104.15,274.54 105.59,273.68 107.04,272.83 108.48,271.99 109.93,271.21 111.38,270.48 112.82,269.8 114.27,269.15 115.72,268.49 117.16,267.84 118.61,267.18 120.05,266.53 121.5,265.9 122.95,265.28 124.39,264.68 125.84,264.09 127.28,263.49 128.73,262.9 130.18,262.3 131.62,261.73 133.07,261.21 134.52,260.76 135.96,260.35 137.41,259.97 138.85,259.59 140.3,259.2 141.75,258.82 143.19,258.44 144.64,258.06 146.08,257.7 147.53,257.35 148.98,257.05 150.42,256.77 151.87,256.5 153.32,256.23 154.76,255.96 156.21,255.69 157.65,255.42 159.1,255.14 160.55,254.86 161.99,254.56 163.44,254.26 164.88,253.97 166.33,253.67 167.78,253.37 169.22,253.07 170.67,252.78 172.12,252.48 173.56,252.18 175.01,251.88 176.45,251.58 177.9,251.29 179.35,250.99 180.79,250.67 182.24,250.33 183.68,249.94 185.13,249.52 186.58,249.08 188.02,248.65 189.47,248.21 190.92,247.76 192.36,247.29 193.81,246.82 195.25,246.35 196.7,245.87" fill="none" stroke="#f4a81c" stroke-width="1.5" stroke-linejoin="round" stroke-dasharray="2.9 1.7"/>
<rect x="86" y="305.9" width="13.5" height="3.2" fill="#1e2a6e"/>
<text x="100.5" y="309.4" font-size="5.45" text-anchor="start" font-weight="700" fill="#000">2025/2026</text>
<line x1="86" y1="315.5" x2="99.5" y2="315.5" stroke="#f4a81c" stroke-width="1.5" stroke-dasharray="2.9 1.7"/>
<text x="100.5" y="317.4" font-size="5.45" text-anchor="start" font-weight="700" fill="#000">2024/2025</text>
<line x1="86" y1="323.75" x2="99.5" y2="323.75" stroke="#c8642c" stroke-width="1.5" stroke-dasharray="5 3"/>
<text x="100.5" y="325.65" font-size="4.93" text-anchor="start" font-weight="700" fill="#000">Seasonal Pace to Meet USDA Estimate</text>
<text x="301.75" y="234.1" font-size="5.87" text-anchor="middle" font-weight="700" fill="#000">Weekly U.S. Soybean Export Inspections</text>
<line x1="226.25" y1="334.25" x2="380.5" y2="334.25" stroke="#e3e6ea" stroke-width="0.6"/>
<text x="223" y="336.12" font-size="5.2" text-anchor="end" font-weight="700" fill="#000">0</text>
<line x1="226.25" y1="324.7" x2="380.5" y2="324.7" stroke="#e3e6ea" stroke-width="0.6"/>
<text x="223" y="326.57" font-size="5.2" text-anchor="end" font-weight="700" fill="#000">10</text>
<line x1="226.25" y1="315.15" x2="380.5" y2="315.15" stroke="#e3e6ea" stroke-width="0.6"/>
<text x="223" y="317.02" font-size="5.2" text-anchor="end" font-weight="700" fill="#000">20</text>
<line x1="226.25" y1="305.6" x2="380.5" y2="305.6" stroke="#e3e6ea" stroke-width="0.6"/>
<text x="223" y="307.47" font-size="5.2" text-anchor="end" font-weight="700" fill="#000">30</text>
<line x1="226.25" y1="296.05" x2="380.5" y2="296.05" stroke="#e3e6ea" stroke-width="0.6"/>
<text x="223" y="297.92" font-size="5.2" text-anchor="end" font-weight="700" fill="#000">40</text>
<line x1="226.25" y1="286.5" x2="380.5" y2="286.5" stroke="#e3e6ea" stroke-width="0.6"/>
<text x="223" y="288.37" font-size="5.2" text-anchor="end" font-weight="700" fill="#000">50</text>
<line x1="226.25" y1="276.95" x2="380.5" y2="276.95" stroke="#e3e6ea" stroke-width="0.6"/>
<text x="223" y="278.82" font-size="5.2" text-anchor="end" font-weight="700" fill="#000">60</text>
<line x1="226.25" y1="267.4" x2="380.5" y2="267.4" stroke="#e3e6ea" stroke-width="0.6"/>
<text x="223" y="269.27" font-size="5.2" text-anchor="end" font-weight="700" fill="#000">70</text>
<line x1="226.25" y1="257.85" x2="380.5" y2="257.85" stroke="#e3e6ea" stroke-width="0.6"/>
<text x="223" y="259.72" font-size="5.2" text-anchor="end" font-weight="700" fill="#000">80</text>
<line x1="226.25" y1="248.3" x2="380.5" y2="248.3" stroke="#e3e6ea" stroke-width="0.6"/>
<text x="223" y="250.17" font-size="5.2" text-anchor="end" font-weight="700" fill="#000">90</text>
<line x1="226.25" y1="238.75" x2="380.5" y2="238.75" stroke="#e3e6ea" stroke-width="0.6"/>
<text x="223" y="240.62" font-size="5.2" text-anchor="end" font-weight="700" fill="#000">100</text>
<text x="210.45" y="283.75" font-size="4.9" text-anchor="middle" font-weight="700" fill="#000" transform="rotate(-90 210.45 283.75)">Million Bushels</text>
<line x1="226.25" y1="238.75" x2="226.25" y2="334.25" stroke="#dcdcdc" stroke-width="0.6"/>
<line x1="226.25" y1="334.25" x2="380.5" y2="334.25" stroke="#c6c6c6" stroke-width="0.7"/>
<path d="M226.25 334.25v1.6 M229.22 334.25v1.6 M232.18 334.25v1.6 M235.15 334.25v1.6 M238.12 334.25v1.6 M241.08 334.25v1.6 M244.05 334.25v1.6 M247.01 334.25v1.6 M249.98 334.25v1.6 M252.95 334.25v1.6 M255.91 334.25v1.6 M258.88 334.25v1.6 M261.85 334.25v1.6 M264.81 334.25v1.6 M267.78 334.25v1.6 M270.75 334.25v1.6 M273.71 334.25v1.6 M276.68 334.25v1.6 M279.64 334.25v1.6 M282.61 334.25v1.6 M285.58 334.25v1.6 M288.54 334.25v1.6 M291.51 334.25v1.6 M294.48 334.25v1.6 M297.44 334.25v1.6 M300.41 334.25v1.6 M303.38 334.25v1.6 M306.34 334.25v1.6 M309.31 334.25v1.6 M312.27 334.25v1.6 M315.24 334.25v1.6 M318.21 334.25v1.6 M321.17 334.25v1.6 M324.14 334.25v1.6 M327.11 334.25v1.6 M330.07 334.25v1.6 M333.04 334.25v1.6 M336 334.25v1.6 M338.97 334.25v1.6 M341.94 334.25v1.6 M344.9 334.25v1.6 M347.87 334.25v1.6 M350.84 334.25v1.6 M353.8 334.25v1.6 M356.77 334.25v1.6 M359.74 334.25v1.6 M362.7 334.25v1.6 M365.67 334.25v1.6 M368.63 334.25v1.6 M371.6 334.25v1.6 M374.57 334.25v1.6 M377.53 334.25v1.6 M380.5 334.25v1.6" stroke="#d4d4d4" stroke-width="0.5" fill="none"/>
<line x1="226.25" y1="334.25" x2="226.25" y2="357.25" stroke="#d9d9d9" stroke-width="0.6"/>
<text x="227.73" y="343.87" font-size="4.94" text-anchor="middle" font-weight="700" fill="#000" textLength="2.73" lengthAdjust="spacingAndGlyphs">1</text>
<text x="230.7" y="343.87" font-size="4.94" text-anchor="middle" font-weight="700" fill="#000" textLength="2.73" lengthAdjust="spacingAndGlyphs">2</text>
<text x="233.67" y="343.87" font-size="4.94" text-anchor="middle" font-weight="700" fill="#000" textLength="2.73" lengthAdjust="spacingAndGlyphs">3</text>
<text x="236.63" y="343.87" font-size="4.94" text-anchor="middle" font-weight="700" fill="#000" textLength="2.73" lengthAdjust="spacingAndGlyphs">4</text>
<text x="232.18" y="355.12" font-size="5.2" text-anchor="middle" font-weight="700" fill="#000">Sep</text>
<line x1="238.12" y1="334.25" x2="238.12" y2="357.25" stroke="#d9d9d9" stroke-width="0.6"/>
<text x="239.6" y="343.87" font-size="4.94" text-anchor="middle" font-weight="700" fill="#000" textLength="2.73" lengthAdjust="spacingAndGlyphs">1</text>
<text x="242.56" y="343.87" font-size="4.94" text-anchor="middle" font-weight="700" fill="#000" textLength="2.73" lengthAdjust="spacingAndGlyphs">2</text>
<text x="245.53" y="343.87" font-size="4.94" text-anchor="middle" font-weight="700" fill="#000" textLength="2.73" lengthAdjust="spacingAndGlyphs">3</text>
<text x="248.5" y="343.87" font-size="4.94" text-anchor="middle" font-weight="700" fill="#000" textLength="2.73" lengthAdjust="spacingAndGlyphs">4</text>
<text x="251.46" y="343.87" font-size="4.94" text-anchor="middle" font-weight="700" fill="#000" textLength="2.73" lengthAdjust="spacingAndGlyphs">5</text>
<text x="245.53" y="355.12" font-size="5.2" text-anchor="middle" font-weight="700" fill="#000">Oct</text>
<line x1="252.95" y1="334.25" x2="252.95" y2="357.25" stroke="#d9d9d9" stroke-width="0.6"/>
<text x="254.43" y="343.87" font-size="4.94" text-anchor="middle" font-weight="700" fill="#000" textLength="2.73" lengthAdjust="spacingAndGlyphs">1</text>
<text x="257.4" y="343.87" font-size="4.94" text-anchor="middle" font-weight="700" fill="#000" textLength="2.73" lengthAdjust="spacingAndGlyphs">2</text>
<text x="260.36" y="343.87" font-size="4.94" text-anchor="middle" font-weight="700" fill="#000" textLength="2.73" lengthAdjust="spacingAndGlyphs">3</text>
<text x="263.33" y="343.87" font-size="4.94" text-anchor="middle" font-weight="700" fill="#000" textLength="2.73" lengthAdjust="spacingAndGlyphs">4</text>
<text x="258.88" y="355.12" font-size="5.2" text-anchor="middle" font-weight="700" fill="#000">Nov</text>
<line x1="264.81" y1="334.25" x2="264.81" y2="357.25" stroke="#d9d9d9" stroke-width="0.6"/>
<text x="266.3" y="343.87" font-size="4.94" text-anchor="middle" font-weight="700" fill="#000" textLength="2.73" lengthAdjust="spacingAndGlyphs">1</text>
<text x="269.26" y="343.87" font-size="4.94" text-anchor="middle" font-weight="700" fill="#000" textLength="2.73" lengthAdjust="spacingAndGlyphs">2</text>
<text x="272.23" y="343.87" font-size="4.94" text-anchor="middle" font-weight="700" fill="#000" textLength="2.73" lengthAdjust="spacingAndGlyphs">3</text>
<text x="275.19" y="343.87" font-size="4.94" text-anchor="middle" font-weight="700" fill="#000" textLength="2.73" lengthAdjust="spacingAndGlyphs">4</text>
<text x="270.75" y="355.12" font-size="5.2" text-anchor="middle" font-weight="700" fill="#000">Dec</text>
<line x1="276.68" y1="334.25" x2="276.68" y2="357.25" stroke="#d9d9d9" stroke-width="0.6"/>
<text x="278.16" y="343.87" font-size="4.94" text-anchor="middle" font-weight="700" fill="#000" textLength="2.73" lengthAdjust="spacingAndGlyphs">1</text>
<text x="281.13" y="343.87" font-size="4.94" text-anchor="middle" font-weight="700" fill="#000" textLength="2.73" lengthAdjust="spacingAndGlyphs">2</text>
<text x="284.09" y="343.87" font-size="4.94" text-anchor="middle" font-weight="700" fill="#000" textLength="2.73" lengthAdjust="spacingAndGlyphs">3</text>
<text x="287.06" y="343.87" font-size="4.94" text-anchor="middle" font-weight="700" fill="#000" textLength="2.73" lengthAdjust="spacingAndGlyphs">4</text>
<text x="290.03" y="343.87" font-size="4.94" text-anchor="middle" font-weight="700" fill="#000" textLength="2.73" lengthAdjust="spacingAndGlyphs">5</text>
<text x="284.09" y="355.12" font-size="5.2" text-anchor="middle" font-weight="700" fill="#000">Jan</text>
<line x1="291.51" y1="334.25" x2="291.51" y2="357.25" stroke="#d9d9d9" stroke-width="0.6"/>
<text x="292.99" y="343.87" font-size="4.94" text-anchor="middle" font-weight="700" fill="#000" textLength="2.73" lengthAdjust="spacingAndGlyphs">1</text>
<text x="295.96" y="343.87" font-size="4.94" text-anchor="middle" font-weight="700" fill="#000" textLength="2.73" lengthAdjust="spacingAndGlyphs">2</text>
<text x="298.93" y="343.87" font-size="4.94" text-anchor="middle" font-weight="700" fill="#000" textLength="2.73" lengthAdjust="spacingAndGlyphs">3</text>
<text x="301.89" y="343.87" font-size="4.94" text-anchor="middle" font-weight="700" fill="#000" textLength="2.73" lengthAdjust="spacingAndGlyphs">4</text>
<text x="297.44" y="355.12" font-size="5.2" text-anchor="middle" font-weight="700" fill="#000">Feb</text>
<line x1="303.38" y1="334.25" x2="303.38" y2="357.25" stroke="#d9d9d9" stroke-width="0.6"/>
<text x="304.86" y="343.87" font-size="4.94" text-anchor="middle" font-weight="700" fill="#000" textLength="2.73" lengthAdjust="spacingAndGlyphs">1</text>
<text x="307.82" y="343.87" font-size="4.94" text-anchor="middle" font-weight="700" fill="#000" textLength="2.73" lengthAdjust="spacingAndGlyphs">2</text>
<text x="310.79" y="343.87" font-size="4.94" text-anchor="middle" font-weight="700" fill="#000" textLength="2.73" lengthAdjust="spacingAndGlyphs">3</text>
<text x="313.76" y="343.87" font-size="4.94" text-anchor="middle" font-weight="700" fill="#000" textLength="2.73" lengthAdjust="spacingAndGlyphs">4</text>
<text x="309.31" y="355.12" font-size="5.2" text-anchor="middle" font-weight="700" fill="#000">Mar</text>
<line x1="315.24" y1="334.25" x2="315.24" y2="357.25" stroke="#d9d9d9" stroke-width="0.6"/>
<text x="316.72" y="343.87" font-size="4.94" text-anchor="middle" font-weight="700" fill="#000" textLength="2.73" lengthAdjust="spacingAndGlyphs">1</text>
<text x="319.69" y="343.87" font-size="4.94" text-anchor="middle" font-weight="700" fill="#000" textLength="2.73" lengthAdjust="spacingAndGlyphs">2</text>
<text x="322.66" y="343.87" font-size="4.94" text-anchor="middle" font-weight="700" fill="#000" textLength="2.73" lengthAdjust="spacingAndGlyphs">3</text>
<text x="325.62" y="343.87" font-size="4.94" text-anchor="middle" font-weight="700" fill="#000" textLength="2.73" lengthAdjust="spacingAndGlyphs">4</text>
<text x="328.59" y="343.87" font-size="4.94" text-anchor="middle" font-weight="700" fill="#000" textLength="2.73" lengthAdjust="spacingAndGlyphs">5</text>
<text x="322.66" y="355.12" font-size="5.2" text-anchor="middle" font-weight="700" fill="#000">Apr</text>
<line x1="330.07" y1="334.25" x2="330.07" y2="357.25" stroke="#d9d9d9" stroke-width="0.6"/>
<text x="331.56" y="343.87" font-size="4.94" text-anchor="middle" font-weight="700" fill="#000" textLength="2.73" lengthAdjust="spacingAndGlyphs">1</text>
<text x="334.52" y="343.87" font-size="4.94" text-anchor="middle" font-weight="700" fill="#000" textLength="2.73" lengthAdjust="spacingAndGlyphs">2</text>
<text x="337.49" y="343.87" font-size="4.94" text-anchor="middle" font-weight="700" fill="#000" textLength="2.73" lengthAdjust="spacingAndGlyphs">3</text>
<text x="340.45" y="343.87" font-size="4.94" text-anchor="middle" font-weight="700" fill="#000" textLength="2.73" lengthAdjust="spacingAndGlyphs">4</text>
<text x="336" y="355.12" font-size="5.2" text-anchor="middle" font-weight="700" fill="#000">May</text>
<line x1="341.94" y1="334.25" x2="341.94" y2="357.25" stroke="#d9d9d9" stroke-width="0.6"/>
<text x="343.42" y="343.87" font-size="4.94" text-anchor="middle" font-weight="700" fill="#000" textLength="2.73" lengthAdjust="spacingAndGlyphs">1</text>
<text x="346.39" y="343.87" font-size="4.94" text-anchor="middle" font-weight="700" fill="#000" textLength="2.73" lengthAdjust="spacingAndGlyphs">2</text>
<text x="349.35" y="343.87" font-size="4.94" text-anchor="middle" font-weight="700" fill="#000" textLength="2.73" lengthAdjust="spacingAndGlyphs">3</text>
<text x="352.32" y="343.87" font-size="4.94" text-anchor="middle" font-weight="700" fill="#000" textLength="2.73" lengthAdjust="spacingAndGlyphs">4</text>
<text x="347.87" y="355.12" font-size="5.2" text-anchor="middle" font-weight="700" fill="#000">Jun</text>
<line x1="353.8" y1="334.25" x2="353.8" y2="357.25" stroke="#d9d9d9" stroke-width="0.6"/>
<text x="355.29" y="343.87" font-size="4.94" text-anchor="middle" font-weight="700" fill="#000" textLength="2.73" lengthAdjust="spacingAndGlyphs">1</text>
<text x="358.25" y="343.87" font-size="4.94" text-anchor="middle" font-weight="700" fill="#000" textLength="2.73" lengthAdjust="spacingAndGlyphs">2</text>
<text x="361.22" y="343.87" font-size="4.94" text-anchor="middle" font-weight="700" fill="#000" textLength="2.73" lengthAdjust="spacingAndGlyphs">3</text>
<text x="364.19" y="343.87" font-size="4.94" text-anchor="middle" font-weight="700" fill="#000" textLength="2.73" lengthAdjust="spacingAndGlyphs">4</text>
<text x="367.15" y="343.87" font-size="4.94" text-anchor="middle" font-weight="700" fill="#000" textLength="2.73" lengthAdjust="spacingAndGlyphs">5</text>
<text x="361.22" y="355.12" font-size="5.2" text-anchor="middle" font-weight="700" fill="#000">Jul</text>
<line x1="368.63" y1="334.25" x2="368.63" y2="357.25" stroke="#d9d9d9" stroke-width="0.6"/>
<text x="370.12" y="343.87" font-size="4.94" text-anchor="middle" font-weight="700" fill="#000" textLength="2.73" lengthAdjust="spacingAndGlyphs">1</text>
<text x="373.08" y="343.87" font-size="4.94" text-anchor="middle" font-weight="700" fill="#000" textLength="2.73" lengthAdjust="spacingAndGlyphs">2</text>
<text x="376.05" y="343.87" font-size="4.94" text-anchor="middle" font-weight="700" fill="#000" textLength="2.73" lengthAdjust="spacingAndGlyphs">3</text>
<text x="379.02" y="343.87" font-size="4.94" text-anchor="middle" font-weight="700" fill="#000" textLength="2.73" lengthAdjust="spacingAndGlyphs">4</text>
<text x="374.57" y="355.12" font-size="5.2" text-anchor="middle" font-weight="700" fill="#000">Aug</text>
<line x1="380.5" y1="238.75" x2="380.5" y2="334.25" stroke="#dcdcdc" stroke-width="0.6"/>
<line x1="380.5" y1="334.25" x2="380.5" y2="357.25" stroke="#d9d9d9" stroke-width="0.6"/>
<line x1="226.25" y1="238.75" x2="380.5" y2="238.75" stroke="#dcdcdc" stroke-width="0.6"/>
<text class="wm" x="266" y="295.25" font-size="26" textLength="70" lengthAdjust="spacingAndGlyphs">StoneX</text><text class="wm" x="336.6" y="282.05" font-size="3.6" opacity="0.8">®</text>
<polyline points="227.73,319.93 230.7,316.11 233.67,314.19 236.63,308.46 239.6,281.73 242.56,269.31 245.53,248.3 248.5,243.53 251.46,250.21 254.43,249.25 257.4,254.03 260.36,258.81 263.33,261.67 266.3,267.4 269.26,270.26 272.23,268.36 275.19,275.04 278.16,281.73 281.13,286.5 284.09,280.77 287.06,276.95 290.03,284.59 292.99,278.86 295.96,288.41 298.93,297.96 301.89,303.69 304.86,305.6 307.82,307.51 310.79,308.46 313.76,313.24 316.72,314.19 319.69,312.29 322.66,315.15 325.62,316.11 328.59,319.93 331.56,320.88 334.52,324.7 337.49,325.65 340.45,324.7 343.42,322.79 346.39,324.7 349.35,325.65 352.32,324.7 355.29,322.79 358.25,325.65 361.22,323.75 364.19,321.83 367.15,320.88 370.12,319.93 373.08,316.11 376.05,318.01 379.02,317.06" fill="none" stroke="#4f7ea3" stroke-width="0.85" stroke-linejoin="round"/>
<polyline points="227.73,321.26 230.7,317.54 233.67,317.06 236.63,310.38 239.6,277.9 242.56,267.4 245.53,245.44 248.5,242 251.46,253.07 254.43,251.17 257.4,254.99 260.36,259.76 263.33,260.72 266.3,273.13 269.26,274.56 272.23,272.18 275.19,276.95 278.16,288.41 281.13,285.55 284.09,299.87 287.06,307.99 290.03,294.14 292.99,296.05 295.96,308.46 298.93,303.69 301.89,309.42 304.86,304.64 307.82,311.33 310.79,305.6 313.76,305.6 316.72,305.6 319.69,314.19 322.66,314.19 325.62,318.01 328.59,322.79 331.56,318.97 334.52,325.65 337.49,327.56 340.45,323.75 343.42,314.19 346.39,325.65 349.35,326.61 352.32,325.65 355.29,320.4 358.25,328.52 361.22,321.26 364.19,319.45 367.15,312.48 370.12,315.53 373.08,317.06 376.05,320.5 379.02,317.06" fill="none" stroke="#203c6e" stroke-width="1.25" stroke-linejoin="round"/>
<path d="M226.13 319.66l3.2 3.2m0 -3.2l-3.2 3.2m1.6 0v-3.2M229.1 315.94l3.2 3.2m0 -3.2l-3.2 3.2m1.6 0v-3.2M232.07 315.46l3.2 3.2m0 -3.2l-3.2 3.2m1.6 0v-3.2M235.03 308.77l3.2 3.2m0 -3.2l-3.2 3.2m1.6 0v-3.2M238 276.3l3.2 3.2m0 -3.2l-3.2 3.2m1.6 0v-3.2M240.96 265.8l3.2 3.2m0 -3.2l-3.2 3.2m1.6 0v-3.2M243.93 243.84l3.2 3.2m0 -3.2l-3.2 3.2m1.6 0v-3.2M246.9 240.4l3.2 3.2m0 -3.2l-3.2 3.2m1.6 0v-3.2M249.86 251.47l3.2 3.2m0 -3.2l-3.2 3.2m1.6 0v-3.2M252.83 249.57l3.2 3.2m0 -3.2l-3.2 3.2m1.6 0v-3.2M255.8 253.39l3.2 3.2m0 -3.2l-3.2 3.2m1.6 0v-3.2M258.76 258.16l3.2 3.2m0 -3.2l-3.2 3.2m1.6 0v-3.2M261.73 259.12l3.2 3.2m0 -3.2l-3.2 3.2m1.6 0v-3.2M264.7 271.53l3.2 3.2m0 -3.2l-3.2 3.2m1.6 0v-3.2M267.66 272.96l3.2 3.2m0 -3.2l-3.2 3.2m1.6 0v-3.2M270.63 270.57l3.2 3.2m0 -3.2l-3.2 3.2m1.6 0v-3.2M273.59 275.35l3.2 3.2m0 -3.2l-3.2 3.2m1.6 0v-3.2M276.56 286.81l3.2 3.2m0 -3.2l-3.2 3.2m1.6 0v-3.2M279.53 283.94l3.2 3.2m0 -3.2l-3.2 3.2m1.6 0v-3.2M282.49 298.27l3.2 3.2m0 -3.2l-3.2 3.2m1.6 0v-3.2M285.46 306.39l3.2 3.2m0 -3.2l-3.2 3.2m1.6 0v-3.2M288.43 292.54l3.2 3.2m0 -3.2l-3.2 3.2m1.6 0v-3.2M291.39 294.45l3.2 3.2m0 -3.2l-3.2 3.2m1.6 0v-3.2M294.36 306.86l3.2 3.2m0 -3.2l-3.2 3.2m1.6 0v-3.2M297.33 302.09l3.2 3.2m0 -3.2l-3.2 3.2m1.6 0v-3.2M300.29 307.82l3.2 3.2m0 -3.2l-3.2 3.2m1.6 0v-3.2M303.26 303.04l3.2 3.2m0 -3.2l-3.2 3.2m1.6 0v-3.2M306.22 309.73l3.2 3.2m0 -3.2l-3.2 3.2m1.6 0v-3.2M309.19 304l3.2 3.2m0 -3.2l-3.2 3.2m1.6 0v-3.2M312.16 304l3.2 3.2m0 -3.2l-3.2 3.2m1.6 0v-3.2M315.12 304l3.2 3.2m0 -3.2l-3.2 3.2m1.6 0v-3.2M318.09 312.59l3.2 3.2m0 -3.2l-3.2 3.2m1.6 0v-3.2M321.06 312.59l3.2 3.2m0 -3.2l-3.2 3.2m1.6 0v-3.2M324.02 316.41l3.2 3.2m0 -3.2l-3.2 3.2m1.6 0v-3.2M326.99 321.19l3.2 3.2m0 -3.2l-3.2 3.2m1.6 0v-3.2M329.96 317.37l3.2 3.2m0 -3.2l-3.2 3.2m1.6 0v-3.2M332.92 324.05l3.2 3.2m0 -3.2l-3.2 3.2m1.6 0v-3.2M335.89 325.96l3.2 3.2m0 -3.2l-3.2 3.2m1.6 0v-3.2M338.85 322.14l3.2 3.2m0 -3.2l-3.2 3.2m1.6 0v-3.2M341.82 312.59l3.2 3.2m0 -3.2l-3.2 3.2m1.6 0v-3.2M344.79 324.05l3.2 3.2m0 -3.2l-3.2 3.2m1.6 0v-3.2M347.75 325.01l3.2 3.2m0 -3.2l-3.2 3.2m1.6 0v-3.2M350.72 324.05l3.2 3.2m0 -3.2l-3.2 3.2m1.6 0v-3.2M353.69 318.8l3.2 3.2m0 -3.2l-3.2 3.2m1.6 0v-3.2M356.65 326.92l3.2 3.2m0 -3.2l-3.2 3.2m1.6 0v-3.2M359.62 319.66l3.2 3.2m0 -3.2l-3.2 3.2m1.6 0v-3.2M362.59 317.85l3.2 3.2m0 -3.2l-3.2 3.2m1.6 0v-3.2M365.55 310.88l3.2 3.2m0 -3.2l-3.2 3.2m1.6 0v-3.2M368.52 313.93l3.2 3.2m0 -3.2l-3.2 3.2m1.6 0v-3.2M371.48 315.46l3.2 3.2m0 -3.2l-3.2 3.2m1.6 0v-3.2M374.45 318.9l3.2 3.2m0 -3.2l-3.2 3.2m1.6 0v-3.2M377.42 315.46l3.2 3.2m0 -3.2l-3.2 3.2m1.6 0v-3.2" stroke="#203c6e" stroke-width="0.85" fill="none"/>
<polyline points="227.73,318.01 230.7,305.41 233.67,317.25" fill="none" stroke="#c8702e" stroke-width="1.3" stroke-linejoin="round"/>
<circle cx="227.73" cy="318.01" r="1.9" fill="#c8702e"/>
<circle cx="230.7" cy="305.41" r="1.9" fill="#c8702e"/>
<circle cx="233.67" cy="317.25" r="1.9" fill="#c8702e"/>
<rect x="313.1" y="240.6" width="60.2" height="28.8" fill="#fff" stroke="#eeeeee" stroke-width="0.5"/>
<line x1="319.4" y1="246.3" x2="330" y2="246.3" stroke="#203c6e" stroke-width="1.3"/>
<path d="M323.4 245L326 247.6M323.4 247.6L326 245M324.7 245V247.6" stroke="#203c6e" stroke-width="0.85"/>
<rect x="323.5" y="245.1" width="2.4" height="2.4" fill="#203c6e"/>
<text x="331.3" y="248.2" font-size="5.4" text-anchor="start" font-weight="700" fill="#000">2024/2025</text>
<line x1="319.4" y1="255.4" x2="330" y2="255.4" stroke="#c8702e" stroke-width="1.3"/>
<circle cx="324.7" cy="255.4" r="1.9" fill="#c8702e"/>
<text x="331.3" y="257.3" font-size="5.4" text-anchor="start" font-weight="700" fill="#000">2025/2026</text>
<line x1="319.4" y1="264.6" x2="330" y2="264.6" stroke="#4f7ea3" stroke-width="0.8"/>
<text x="331.3" y="266.5" font-size="5.4" text-anchor="start" font-weight="700" fill="#000">5 Year Average</text>
<text x="114.25" y="376.35" font-size="5.36" text-anchor="middle" font-weight="700" fill="#000">U.S. Soybean Weekly Exports By Destination &amp; Port</text>
<line x1="44.5" y1="467.5" x2="193.75" y2="467.5" stroke="#e6e8eb" stroke-width="0.6"/>
<text x="40" y="469.37" font-size="5.2" text-anchor="end" font-weight="700" fill="#000">0</text>
<line x1="44.5" y1="453.12" x2="193.75" y2="453.12" stroke="#e6e8eb" stroke-width="0.6"/>
<text x="40" y="455" font-size="5.2" text-anchor="end" font-weight="700" fill="#000">1</text>
<line x1="44.5" y1="438.75" x2="193.75" y2="438.75" stroke="#e6e8eb" stroke-width="0.6"/>
<text x="40" y="440.62" font-size="5.2" text-anchor="end" font-weight="700" fill="#000">2</text>
<line x1="44.5" y1="424.38" x2="193.75" y2="424.38" stroke="#e6e8eb" stroke-width="0.6"/>
<text x="40" y="426.25" font-size="5.2" text-anchor="end" font-weight="700" fill="#000">3</text>
<line x1="44.5" y1="410" x2="193.75" y2="410" stroke="#e6e8eb" stroke-width="0.6"/>
<text x="40" y="411.87" font-size="5.2" text-anchor="end" font-weight="700" fill="#000">4</text>
<line x1="44.5" y1="395.62" x2="193.75" y2="395.62" stroke="#e6e8eb" stroke-width="0.6"/>
<text x="40" y="397.5" font-size="5.2" text-anchor="end" font-weight="700" fill="#000">5</text>
<line x1="44.5" y1="381.25" x2="193.75" y2="381.25" stroke="#e6e8eb" stroke-width="0.6"/>
<text x="40" y="383.12" font-size="5.2" text-anchor="end" font-weight="700" fill="#000">6</text>
<text x="27.45" y="422.5" font-size="4.9" text-anchor="middle" font-weight="700" fill="#000" transform="rotate(-90 27.45 422.5)">Million Bushels</text>
<line x1="44.5" y1="467.5" x2="193.75" y2="467.5" stroke="#c6c6c6" stroke-width="0.7"/>
<text class="wm" x="83.5" y="432.5" font-size="26" textLength="70" lengthAdjust="spacingAndGlyphs">StoneX</text><text class="wm" x="154.1" y="419.3" font-size="3.6" opacity="0.8">®</text>
<rect x="49.19" y="392.75" width="4.8" height="74.75" fill="#2b5597"/>
<text transform="translate(53.09 475.2) rotate(-45) scale(0.85 1)" font-size="5.9" text-anchor="end" font-weight="700">Egypt</text>
<rect x="60.57" y="437.31" width="4.8" height="30.19" fill="#2b5597"/>
<rect x="60.57" y="429.41" width="4.8" height="7.91" fill="#c0672a"/>
<text transform="translate(64.47 475.2) rotate(-45) scale(0.85 1)" font-size="5.9" text-anchor="end" font-weight="700">Indonesia</text>
<rect x="71.94" y="431.99" width="4.8" height="35.51" fill="#2b5597"/>
<text transform="translate(75.84 475.2) rotate(-45) scale(0.85 1)" font-size="5.9" text-anchor="end" font-weight="700">United Kingdom</text>
<rect x="83.32" y="436.31" width="4.8" height="31.19" fill="#2b5597"/>
<text transform="translate(87.22 475.2) rotate(-45) scale(0.85 1)" font-size="5.9" text-anchor="end" font-weight="700">Bangladesh</text>
<rect x="94.7" y="444.93" width="4.8" height="22.57" fill="#2b5597"/>
<rect x="94.7" y="438.03" width="4.8" height="6.9" fill="#c0672a"/>
<text transform="translate(98.6 475.2) rotate(-45) scale(0.85 1)" font-size="5.9" text-anchor="end" font-weight="700">Mexico</text>
<rect x="106.07" y="444.79" width="4.8" height="22.71" fill="#2b5597"/>
<text transform="translate(109.97 475.2) rotate(-45) scale(0.85 1)" font-size="5.9" text-anchor="end" font-weight="700">Japan</text>
<rect x="117.45" y="458.59" width="4.8" height="8.91" fill="#c0672a"/>
<text transform="translate(121.35 475.2) rotate(-45) scale(0.85 1)" font-size="5.9" text-anchor="end" font-weight="700">Taiwan</text>
<rect x="128.83" y="462.47" width="4.8" height="5.03" fill="#c0672a"/>
<text transform="translate(132.73 475.2) rotate(-45) scale(0.85 1)" font-size="5.9" text-anchor="end" font-weight="700">Vietnam</text>
<rect x="140.2" y="463.62" width="4.8" height="3.88" fill="#c0672a"/>
<text transform="translate(144.1 475.2) rotate(-45) scale(0.85 1)" font-size="5.9" text-anchor="end" font-weight="700">Malaysia</text>
<rect x="151.58" y="463.76" width="4.8" height="3.74" fill="#2b5597"/>
<text transform="translate(155.48 475.2) rotate(-45) scale(0.85 1)" font-size="5.9" text-anchor="end" font-weight="700">Venezuela</text>
<rect x="162.96" y="466.35" width="4.8" height="1.15" fill="#c0672a"/>
<text transform="translate(166.86 475.2) rotate(-45) scale(0.85 1)" font-size="5.9" text-anchor="end" font-weight="700">Thailand</text>
<rect x="174.33" y="466.78" width="4.8" height="0.72" fill="#c0672a"/>
<text transform="translate(178.23 475.2) rotate(-45) scale(0.85 1)" font-size="5.9" text-anchor="end" font-weight="700">Philippines</text>
<rect x="185.71" y="467.36" width="4.8" height="0.14" fill="#c0672a"/>
<text transform="translate(189.61 475.2) rotate(-45) scale(0.85 1)" font-size="5.9" text-anchor="end" font-weight="700">Cambodia</text>
<rect x="147.5" y="384.5" width="38" height="46" fill="#fff" stroke="#eeeeee" stroke-width="0.5"/>
<rect x="156" y="388.5" width="3" height="3" fill="#7a4a3c"/>
<text x="161" y="391.8" font-size="5" text-anchor="start" font-weight="700" fill="#000">Atlantic</text>
<rect x="156" y="397.25" width="3" height="3" fill="#2b5597"/>
<text x="161" y="400.55" font-size="5" text-anchor="start" font-weight="700" fill="#000">Gulf</text>
<rect x="156" y="406.5" width="3" height="3" fill="#c0672a"/>
<text x="161" y="409.8" font-size="5" text-anchor="start" font-weight="700" fill="#000">Interior</text>
<rect x="156" y="415.5" width="3" height="3" fill="#fbb81a"/>
<text x="161" y="418.8" font-size="5" text-anchor="start" font-weight="700" fill="#000">Lakes</text>
<rect x="156" y="424.25" width="3" height="3" fill="#70a145"/>
<text x="161" y="427.55" font-size="5" text-anchor="start" font-weight="700" fill="#000">Pacific</text>
<text x="299.25" y="375.1" font-size="5.2" text-anchor="middle" font-weight="700" fill="#000">Soybeans Market YTD Exports by Destination &amp; Port</text>
<line x1="231.25" y1="467.5" x2="380" y2="467.5" stroke="#e6e8eb" stroke-width="0.6"/>
<text x="226.5" y="469.8" font-size="6.4" text-anchor="end" font-weight="700" fill="#000">0</text>
<line x1="231.25" y1="458" x2="380" y2="458" stroke="#e6e8eb" stroke-width="0.6"/>
<text x="226.5" y="460.3" font-size="6.4" text-anchor="end" font-weight="700" fill="#000">1</text>
<line x1="231.25" y1="448.5" x2="380" y2="448.5" stroke="#e6e8eb" stroke-width="0.6"/>
<text x="226.5" y="450.8" font-size="6.4" text-anchor="end" font-weight="700" fill="#000">2</text>
<line x1="231.25" y1="439" x2="380" y2="439" stroke="#e6e8eb" stroke-width="0.6"/>
<text x="226.5" y="441.3" font-size="6.4" text-anchor="end" font-weight="700" fill="#000">3</text>
<line x1="231.25" y1="429.5" x2="380" y2="429.5" stroke="#e6e8eb" stroke-width="0.6"/>
<text x="226.5" y="431.8" font-size="6.4" text-anchor="end" font-weight="700" fill="#000">4</text>
<line x1="231.25" y1="420" x2="380" y2="420" stroke="#e6e8eb" stroke-width="0.6"/>
<text x="226.5" y="422.3" font-size="6.4" text-anchor="end" font-weight="700" fill="#000">5</text>
<line x1="231.25" y1="410.5" x2="380" y2="410.5" stroke="#e6e8eb" stroke-width="0.6"/>
<text x="226.5" y="412.8" font-size="6.4" text-anchor="end" font-weight="700" fill="#000">6</text>
<line x1="231.25" y1="401" x2="380" y2="401" stroke="#e6e8eb" stroke-width="0.6"/>
<text x="226.5" y="403.3" font-size="6.4" text-anchor="end" font-weight="700" fill="#000">7</text>
<line x1="231.25" y1="391.5" x2="380" y2="391.5" stroke="#e6e8eb" stroke-width="0.6"/>
<text x="226.5" y="393.8" font-size="6.4" text-anchor="end" font-weight="700" fill="#000">8</text>
<line x1="231.25" y1="382" x2="380" y2="382" stroke="#e6e8eb" stroke-width="0.6"/>
<text x="226.5" y="384.3" font-size="6.4" text-anchor="end" font-weight="700" fill="#000">9</text>
<text x="209.95" y="420.45" font-size="5.25" text-anchor="middle" font-weight="700" fill="#000" transform="rotate(-90 209.95 420.45)">Million Bushels</text>
<line x1="231.25" y1="467.5" x2="380" y2="467.5" stroke="#c6c6c6" stroke-width="0.7"/>
<text class="wm" x="271" y="432.5" font-size="26" textLength="70" lengthAdjust="spacingAndGlyphs">StoneX</text><text class="wm" x="341.6" y="419.3" font-size="3.6" opacity="0.8">®</text>
<rect x="235.69" y="394.35" width="6" height="73.15" fill="#2b5597"/>
<text transform="translate(240.19 475.2) rotate(-45) scale(0.85 1)" font-size="5.9" text-anchor="end" font-weight="700">Egypt</text>
<rect x="250.56" y="426.65" width="6" height="40.85" fill="#2b5597"/>
<rect x="250.56" y="399.57" width="6" height="27.07" fill="#c0672a"/>
<text transform="translate(255.06 475.2) rotate(-45) scale(0.85 1)" font-size="5.9" text-anchor="end" font-weight="700">Mexico</text>
<rect x="265.44" y="425.7" width="6" height="41.8" fill="#2b5597"/>
<rect x="265.44" y="408.12" width="6" height="17.57" fill="#c0672a"/>
<text transform="translate(269.94 475.2) rotate(-45) scale(0.85 1)" font-size="5.9" text-anchor="end" font-weight="700">Indonesia</text>
<rect x="280.31" y="408.12" width="6" height="59.38" fill="#2b5597"/>
<text transform="translate(284.81 475.2) rotate(-45) scale(0.85 1)" font-size="5.9" text-anchor="end" font-weight="700">Bangladesh</text>
<rect x="295.19" y="423.8" width="6" height="43.7" fill="#2b5597"/>
<text transform="translate(299.69 475.2) rotate(-45) scale(0.85 1)" font-size="5.9" text-anchor="end" font-weight="700">Italy</text>
<rect x="310.06" y="424.27" width="6" height="43.23" fill="#2b5597"/>
<rect x="310.06" y="423.32" width="6" height="0.95" fill="#c0672a"/>
<text transform="translate(314.56 475.2) rotate(-45) scale(0.85 1)" font-size="5.9" text-anchor="end" font-weight="700">Japan</text>
<rect x="324.94" y="436.62" width="6" height="30.88" fill="#2b5597"/>
<text transform="translate(329.44 475.2) rotate(-45) scale(0.85 1)" font-size="5.9" text-anchor="end" font-weight="700">Algeria</text>
<rect x="339.81" y="443.27" width="6" height="24.23" fill="#2b5597"/>
<text transform="translate(344.31 475.2) rotate(-45) scale(0.85 1)" font-size="5.9" text-anchor="end" font-weight="700">Netherlands</text>
<rect x="354.69" y="443.75" width="6" height="23.75" fill="#2b5597"/>
<text transform="translate(359.19 475.2) rotate(-45) scale(0.85 1)" font-size="5.9" text-anchor="end" font-weight="700">Turkey</text>
<rect x="369.56" y="444.03" width="6" height="23.47" fill="#2b5597"/>
<text transform="translate(374.06 475.2) rotate(-45) scale(0.85 1)" font-size="5.9" text-anchor="end" font-weight="700">United Kingdom</text>
<rect x="333.75" y="388.75" width="37" height="42.5" fill="#fff" stroke="#eeeeee" stroke-width="0.5"/>
<rect x="341" y="391.5" width="3" height="3" fill="#7a4a3c"/>
<text x="346" y="394.8" font-size="5.8" text-anchor="start" font-weight="700" fill="#000">Atlantic</text>
<rect x="341" y="400.25" width="3" height="3" fill="#2b5597"/>
<text x="346" y="403.55" font-size="5.8" text-anchor="start" font-weight="700" fill="#000">Gulf</text>
<rect x="341" y="409" width="3" height="3" fill="#c0672a"/>
<text x="346" y="412.3" font-size="5.8" text-anchor="start" font-weight="700" fill="#000">Interior</text>
<rect x="341" y="417.25" width="3" height="3" fill="#fbb81a"/>
<text x="346" y="420.55" font-size="5.8" text-anchor="start" font-weight="700" fill="#000">Lakes</text>
<rect x="341" y="426" width="3" height="3" fill="#70a145"/>
<text x="346" y="429.3" font-size="5.8" text-anchor="start" font-weight="700" fill="#000">Pacific</text>
<text x="506.75" y="234.6" font-size="6" text-anchor="middle" font-weight="700" fill="#000">U.S. Milo Export Inspections Progress</text>
<line x1="440" y1="333.25" x2="592.5" y2="333.25" stroke="#e3e6ea" stroke-width="0.6"/>
<text x="434.5" y="335.12" font-size="5.2" text-anchor="end" font-weight="700" fill="#000">0</text>
<line x1="440" y1="314.2" x2="592.5" y2="314.2" stroke="#e3e6ea" stroke-width="0.6"/>
<text x="434.5" y="316.07" font-size="5.2" text-anchor="end" font-weight="700" fill="#000">50</text>
<line x1="440" y1="295.15" x2="592.5" y2="295.15" stroke="#e3e6ea" stroke-width="0.6"/>
<text x="434.5" y="297.02" font-size="5.2" text-anchor="end" font-weight="700" fill="#000">100</text>
<line x1="440" y1="276.1" x2="592.5" y2="276.1" stroke="#e3e6ea" stroke-width="0.6"/>
<text x="434.5" y="277.97" font-size="5.2" text-anchor="end" font-weight="700" fill="#000">150</text>
<line x1="440" y1="257.05" x2="592.5" y2="257.05" stroke="#e3e6ea" stroke-width="0.6"/>
<text x="434.5" y="258.92" font-size="5.2" text-anchor="end" font-weight="700" fill="#000">200</text>
<line x1="440" y1="238" x2="592.5" y2="238" stroke="#e3e6ea" stroke-width="0.6"/>
<text x="434.5" y="239.87" font-size="5.2" text-anchor="end" font-weight="700" fill="#000">250</text>
<text x="423.7" y="286.25" font-size="4.9" text-anchor="middle" font-weight="700" fill="#000" transform="rotate(-90 423.7 286.25)">Million Bushels</text>
<line x1="440" y1="238" x2="440" y2="333.25" stroke="#dcdcdc" stroke-width="0.6"/>
<line x1="440" y1="333.25" x2="592.5" y2="333.25" stroke="#c6c6c6" stroke-width="0.7"/>
<path d="M440 333.25v1.6 M442.93 333.25v1.6 M445.87 333.25v1.6 M448.8 333.25v1.6 M451.73 333.25v1.6 M454.66 333.25v1.6 M457.6 333.25v1.6 M460.53 333.25v1.6 M463.46 333.25v1.6 M466.39 333.25v1.6 M469.33 333.25v1.6 M472.26 333.25v1.6 M475.19 333.25v1.6 M478.12 333.25v1.6 M481.06 333.25v1.6 M483.99 333.25v1.6 M486.92 333.25v1.6 M489.86 333.25v1.6 M492.79 333.25v1.6 M495.72 333.25v1.6 M498.65 333.25v1.6 M501.59 333.25v1.6 M504.52 333.25v1.6 M507.45 333.25v1.6 M510.38 333.25v1.6 M513.32 333.25v1.6 M516.25 333.25v1.6 M519.18 333.25v1.6 M522.12 333.25v1.6 M525.05 333.25v1.6 M527.98 333.25v1.6 M530.91 333.25v1.6 M533.85 333.25v1.6 M536.78 333.25v1.6 M539.71 333.25v1.6 M542.64 333.25v1.6 M545.58 333.25v1.6 M548.51 333.25v1.6 M551.44 333.25v1.6 M554.38 333.25v1.6 M557.31 333.25v1.6 M560.24 333.25v1.6 M563.17 333.25v1.6 M566.11 333.25v1.6 M569.04 333.25v1.6 M571.97 333.25v1.6 M574.9 333.25v1.6 M577.84 333.25v1.6 M580.77 333.25v1.6 M583.7 333.25v1.6 M586.63 333.25v1.6 M589.57 333.25v1.6 M592.5 333.25v1.6" stroke="#d4d4d4" stroke-width="0.5" fill="none"/>
<line x1="440" y1="333.25" x2="440" y2="356" stroke="#d9d9d9" stroke-width="0.6"/>
<text x="441.47" y="343.12" font-size="4.94" text-anchor="middle" font-weight="700" fill="#000" textLength="2.7" lengthAdjust="spacingAndGlyphs">1</text>
<text x="444.4" y="343.12" font-size="4.94" text-anchor="middle" font-weight="700" fill="#000" textLength="2.7" lengthAdjust="spacingAndGlyphs">2</text>
<text x="447.33" y="343.12" font-size="4.94" text-anchor="middle" font-weight="700" fill="#000" textLength="2.7" lengthAdjust="spacingAndGlyphs">3</text>
<text x="450.26" y="343.12" font-size="4.94" text-anchor="middle" font-weight="700" fill="#000" textLength="2.7" lengthAdjust="spacingAndGlyphs">4</text>
<text x="445.87" y="353.87" font-size="5.2" text-anchor="middle" font-weight="700" fill="#000">Sep</text>
<line x1="451.73" y1="333.25" x2="451.73" y2="356" stroke="#d9d9d9" stroke-width="0.6"/>
<text x="453.2" y="343.12" font-size="4.94" text-anchor="middle" font-weight="700" fill="#000" textLength="2.7" lengthAdjust="spacingAndGlyphs">1</text>
<text x="456.13" y="343.12" font-size="4.94" text-anchor="middle" font-weight="700" fill="#000" textLength="2.7" lengthAdjust="spacingAndGlyphs">2</text>
<text x="459.06" y="343.12" font-size="4.94" text-anchor="middle" font-weight="700" fill="#000" textLength="2.7" lengthAdjust="spacingAndGlyphs">3</text>
<text x="462" y="343.12" font-size="4.94" text-anchor="middle" font-weight="700" fill="#000" textLength="2.7" lengthAdjust="spacingAndGlyphs">4</text>
<text x="464.93" y="343.12" font-size="4.94" text-anchor="middle" font-weight="700" fill="#000" textLength="2.7" lengthAdjust="spacingAndGlyphs">5</text>
<text x="459.06" y="353.87" font-size="5.2" text-anchor="middle" font-weight="700" fill="#000">Oct</text>
<line x1="466.39" y1="333.25" x2="466.39" y2="356" stroke="#d9d9d9" stroke-width="0.6"/>
<text x="467.86" y="343.12" font-size="4.94" text-anchor="middle" font-weight="700" fill="#000" textLength="2.7" lengthAdjust="spacingAndGlyphs">1</text>
<text x="470.79" y="343.12" font-size="4.94" text-anchor="middle" font-weight="700" fill="#000" textLength="2.7" lengthAdjust="spacingAndGlyphs">2</text>
<text x="473.73" y="343.12" font-size="4.94" text-anchor="middle" font-weight="700" fill="#000" textLength="2.7" lengthAdjust="spacingAndGlyphs">3</text>
<text x="476.66" y="343.12" font-size="4.94" text-anchor="middle" font-weight="700" fill="#000" textLength="2.7" lengthAdjust="spacingAndGlyphs">4</text>
<text x="472.26" y="353.87" font-size="5.2" text-anchor="middle" font-weight="700" fill="#000">Nov</text>
<line x1="478.12" y1="333.25" x2="478.12" y2="356" stroke="#d9d9d9" stroke-width="0.6"/>
<text x="479.59" y="343.12" font-size="4.94" text-anchor="middle" font-weight="700" fill="#000" textLength="2.7" lengthAdjust="spacingAndGlyphs">1</text>
<text x="482.52" y="343.12" font-size="4.94" text-anchor="middle" font-weight="700" fill="#000" textLength="2.7" lengthAdjust="spacingAndGlyphs">2</text>
<text x="485.46" y="343.12" font-size="4.94" text-anchor="middle" font-weight="700" fill="#000" textLength="2.7" lengthAdjust="spacingAndGlyphs">3</text>
<text x="488.39" y="343.12" font-size="4.94" text-anchor="middle" font-weight="700" fill="#000" textLength="2.7" lengthAdjust="spacingAndGlyphs">4</text>
<text x="483.99" y="353.87" font-size="5.2" text-anchor="middle" font-weight="700" fill="#000">Dec</text>
<line x1="489.86" y1="333.25" x2="489.86" y2="356" stroke="#d9d9d9" stroke-width="0.6"/>
<text x="491.32" y="343.12" font-size="4.94" text-anchor="middle" font-weight="700" fill="#000" textLength="2.7" lengthAdjust="spacingAndGlyphs">1</text>
<text x="494.25" y="343.12" font-size="4.94" text-anchor="middle" font-weight="700" fill="#000" textLength="2.7" lengthAdjust="spacingAndGlyphs">2</text>
<text x="497.19" y="343.12" font-size="4.94" text-anchor="middle" font-weight="700" fill="#000" textLength="2.7" lengthAdjust="spacingAndGlyphs">3</text>
<text x="500.12" y="343.12" font-size="4.94" text-anchor="middle" font-weight="700" fill="#000" textLength="2.7" lengthAdjust="spacingAndGlyphs">4</text>
<text x="503.05" y="343.12" font-size="4.94" text-anchor="middle" font-weight="700" fill="#000" textLength="2.7" lengthAdjust="spacingAndGlyphs">5</text>
<text x="497.19" y="353.87" font-size="5.2" text-anchor="middle" font-weight="700" fill="#000">Jan</text>
<line x1="504.52" y1="333.25" x2="504.52" y2="356" stroke="#d9d9d9" stroke-width="0.6"/>
<text x="505.99" y="343.12" font-size="4.94" text-anchor="middle" font-weight="700" fill="#000" textLength="2.7" lengthAdjust="spacingAndGlyphs">1</text>
<text x="508.92" y="343.12" font-size="4.94" text-anchor="middle" font-weight="700" fill="#000" textLength="2.7" lengthAdjust="spacingAndGlyphs">2</text>
<text x="511.85" y="343.12" font-size="4.94" text-anchor="middle" font-weight="700" fill="#000" textLength="2.7" lengthAdjust="spacingAndGlyphs">3</text>
<text x="514.78" y="343.12" font-size="4.94" text-anchor="middle" font-weight="700" fill="#000" textLength="2.7" lengthAdjust="spacingAndGlyphs">4</text>
<text x="510.38" y="353.87" font-size="5.2" text-anchor="middle" font-weight="700" fill="#000">Feb</text>
<line x1="516.25" y1="333.25" x2="516.25" y2="356" stroke="#d9d9d9" stroke-width="0.6"/>
<text x="517.72" y="343.12" font-size="4.94" text-anchor="middle" font-weight="700" fill="#000" textLength="2.7" lengthAdjust="spacingAndGlyphs">1</text>
<text x="520.65" y="343.12" font-size="4.94" text-anchor="middle" font-weight="700" fill="#000" textLength="2.7" lengthAdjust="spacingAndGlyphs">2</text>
<text x="523.58" y="343.12" font-size="4.94" text-anchor="middle" font-weight="700" fill="#000" textLength="2.7" lengthAdjust="spacingAndGlyphs">3</text>
<text x="526.51" y="343.12" font-size="4.94" text-anchor="middle" font-weight="700" fill="#000" textLength="2.7" lengthAdjust="spacingAndGlyphs">4</text>
<text x="522.12" y="353.87" font-size="5.2" text-anchor="middle" font-weight="700" fill="#000">Mar</text>
<line x1="527.98" y1="333.25" x2="527.98" y2="356" stroke="#d9d9d9" stroke-width="0.6"/>
<text x="529.45" y="343.12" font-size="4.94" text-anchor="middle" font-weight="700" fill="#000" textLength="2.7" lengthAdjust="spacingAndGlyphs">1</text>
<text x="532.38" y="343.12" font-size="4.94" text-anchor="middle" font-weight="700" fill="#000" textLength="2.7" lengthAdjust="spacingAndGlyphs">2</text>
<text x="535.31" y="343.12" font-size="4.94" text-anchor="middle" font-weight="700" fill="#000" textLength="2.7" lengthAdjust="spacingAndGlyphs">3</text>
<text x="538.25" y="343.12" font-size="4.94" text-anchor="middle" font-weight="700" fill="#000" textLength="2.7" lengthAdjust="spacingAndGlyphs">4</text>
<text x="541.18" y="343.12" font-size="4.94" text-anchor="middle" font-weight="700" fill="#000" textLength="2.7" lengthAdjust="spacingAndGlyphs">5</text>
<text x="535.31" y="353.87" font-size="5.2" text-anchor="middle" font-weight="700" fill="#000">Apr</text>
<line x1="542.64" y1="333.25" x2="542.64" y2="356" stroke="#d9d9d9" stroke-width="0.6"/>
<text x="544.11" y="343.12" font-size="4.94" text-anchor="middle" font-weight="700" fill="#000" textLength="2.7" lengthAdjust="spacingAndGlyphs">1</text>
<text x="547.04" y="343.12" font-size="4.94" text-anchor="middle" font-weight="700" fill="#000" textLength="2.7" lengthAdjust="spacingAndGlyphs">2</text>
<text x="549.98" y="343.12" font-size="4.94" text-anchor="middle" font-weight="700" fill="#000" textLength="2.7" lengthAdjust="spacingAndGlyphs">3</text>
<text x="552.91" y="343.12" font-size="4.94" text-anchor="middle" font-weight="700" fill="#000" textLength="2.7" lengthAdjust="spacingAndGlyphs">4</text>
<text x="548.51" y="353.87" font-size="5.2" text-anchor="middle" font-weight="700" fill="#000">May</text>
<line x1="554.38" y1="333.25" x2="554.38" y2="356" stroke="#d9d9d9" stroke-width="0.6"/>
<text x="555.84" y="343.12" font-size="4.94" text-anchor="middle" font-weight="700" fill="#000" textLength="2.7" lengthAdjust="spacingAndGlyphs">1</text>
<text x="558.77" y="343.12" font-size="4.94" text-anchor="middle" font-weight="700" fill="#000" textLength="2.7" lengthAdjust="spacingAndGlyphs">2</text>
<text x="561.71" y="343.12" font-size="4.94" text-anchor="middle" font-weight="700" fill="#000" textLength="2.7" lengthAdjust="spacingAndGlyphs">3</text>
<text x="564.64" y="343.12" font-size="4.94" text-anchor="middle" font-weight="700" fill="#000" textLength="2.7" lengthAdjust="spacingAndGlyphs">4</text>
<text x="560.24" y="353.87" font-size="5.2" text-anchor="middle" font-weight="700" fill="#000">Jun</text>
<line x1="566.11" y1="333.25" x2="566.11" y2="356" stroke="#d9d9d9" stroke-width="0.6"/>
<text x="567.57" y="343.12" font-size="4.94" text-anchor="middle" font-weight="700" fill="#000" textLength="2.7" lengthAdjust="spacingAndGlyphs">1</text>
<text x="570.5" y="343.12" font-size="4.94" text-anchor="middle" font-weight="700" fill="#000" textLength="2.7" lengthAdjust="spacingAndGlyphs">2</text>
<text x="573.44" y="343.12" font-size="4.94" text-anchor="middle" font-weight="700" fill="#000" textLength="2.7" lengthAdjust="spacingAndGlyphs">3</text>
<text x="576.37" y="343.12" font-size="4.94" text-anchor="middle" font-weight="700" fill="#000" textLength="2.7" lengthAdjust="spacingAndGlyphs">4</text>
<text x="579.3" y="343.12" font-size="4.94" text-anchor="middle" font-weight="700" fill="#000" textLength="2.7" lengthAdjust="spacingAndGlyphs">5</text>
<text x="573.44" y="353.87" font-size="5.2" text-anchor="middle" font-weight="700" fill="#000">Jul</text>
<line x1="580.77" y1="333.25" x2="580.77" y2="356" stroke="#d9d9d9" stroke-width="0.6"/>
<text x="582.24" y="343.12" font-size="4.94" text-anchor="middle" font-weight="700" fill="#000" textLength="2.7" lengthAdjust="spacingAndGlyphs">1</text>
<text x="585.17" y="343.12" font-size="4.94" text-anchor="middle" font-weight="700" fill="#000" textLength="2.7" lengthAdjust="spacingAndGlyphs">2</text>
<text x="588.1" y="343.12" font-size="4.94" text-anchor="middle" font-weight="700" fill="#000" textLength="2.7" lengthAdjust="spacingAndGlyphs">3</text>
<text x="591.03" y="343.12" font-size="4.94" text-anchor="middle" font-weight="700" fill="#000" textLength="2.7" lengthAdjust="spacingAndGlyphs">4</text>
<text x="586.63" y="353.87" font-size="5.2" text-anchor="middle" font-weight="700" fill="#000">Aug</text>
<line x1="592.5" y1="238" x2="592.5" y2="333.25" stroke="#dcdcdc" stroke-width="0.6"/>
<line x1="592.5" y1="333.25" x2="592.5" y2="356" stroke="#d9d9d9" stroke-width="0.6"/>
<line x1="440" y1="238" x2="592.5" y2="238" stroke="#dcdcdc" stroke-width="0.6"/>
<text class="wm" x="479" y="294.25" font-size="26" textLength="70" lengthAdjust="spacingAndGlyphs">StoneX</text><text class="wm" x="549.6" y="281.05" font-size="3.6" opacity="0.8">®</text>
<rect x="440.3" y="238.3" width="113.45" height="17.45" fill="#fff" stroke="#eeeeee" stroke-width="0.5"/>
<polyline points="440,333.25 441.47,332.58 442.93,331.91 444.4,331.23 445.87,330.56 447.33,329.9 448.8,329.26 450.26,328.68 451.73,328.17 453.2,327.71 454.66,327.26 456.13,326.82 457.6,326.37 459.06,325.93 460.53,325.46 462,324.91 463.46,324.26 464.93,323.5 466.39,322.68 467.86,321.84 469.33,321 470.79,320.15 472.26,319.3 473.73,318.41 475.19,317.4 476.66,316.24 478.12,314.97 479.59,313.65 481.06,312.32 482.52,311.02 483.99,309.79 485.46,308.69 486.92,307.73 488.39,306.85 489.86,306 491.32,305.16 492.79,304.32 494.25,303.47 495.72,302.63 497.19,301.79 498.65,300.94 500.12,300.07 501.59,299.19 503.05,298.29 504.52,297.38 505.99,296.47 507.45,295.57 508.92,294.66 510.38,293.74 511.85,292.81 513.32,291.84 514.78,290.85 516.25,289.83 517.72,288.81 519.18,287.8 520.65,286.78 522.12,285.76 523.58,284.75 525.05,283.75 526.51,282.78 527.98,281.82 529.45,280.86 530.91,279.91 532.38,278.96 533.85,278 535.31,277.05 536.78,276.09 538.25,275.12 539.71,274.15 541.18,273.18 542.64,272.21 544.11,271.23 545.58,270.26 547.04,269.29 548.51,268.36 549.98,267.54 551.44,266.84 552.91,266.24 554.38,265.69 555.84,265.14 557.31,264.59 558.77,264.03 560.24,263.48 561.71,262.93 563.17,262.35 564.64,261.76 566.11,261.14 567.57,260.53 569.04,259.91 570.5,259.29 571.97,258.67 573.44,258.04 574.9,257.38 576.37,256.69 577.84,255.97 579.3,255.24 580.77,254.51 582.24,253.78 583.7,253.05 585.17,252.32 586.63,251.59 588.1,250.86 589.57,250.13 591.03,249.4 592.5,248.67" fill="none" stroke="#c8642c" stroke-width="1.5" stroke-linejoin="round" stroke-dasharray="5 3"/>
<rect x="440.53" y="332.87" width="1.88" height="0.38" fill="#1e2a6e"/>
<rect x="443.46" y="332.49" width="1.88" height="0.76" fill="#1e2a6e"/>
<rect x="446.39" y="332.11" width="1.88" height="1.14" fill="#1e2a6e"/>
<polyline points="440,333.25 441.47,332.58 442.93,331.91 444.4,331.23 445.87,330.56 447.33,329.9 448.8,329.28 450.26,328.73 451.73,328.29 453.2,327.9 454.66,327.54 456.13,327.19 457.6,326.84 459.06,326.48 460.53,326.09 462,325.63 463.46,325.04 464.93,324.33 466.39,323.55 467.86,322.76 469.33,321.96 470.79,321.16 472.26,320.36 473.73,319.53 475.19,318.61 476.66,317.59 478.12,316.48 479.59,315.36 481.06,314.33 482.52,313.55 483.99,313.09 485.46,312.88 486.92,312.77 488.39,312.68 489.86,312.58 491.32,312.49 492.79,312.39 494.25,312.3 495.72,312.2 497.19,312.1 498.65,312.01 500.12,311.9 501.59,311.78 503.05,311.66 504.52,311.53 505.99,311.41 507.45,311.28 508.92,311.15 510.38,311.02 511.85,310.9 513.32,310.76 514.78,310.63 516.25,310.49 517.72,310.34 519.18,310.2 520.65,310.06 522.12,309.91 523.58,309.76 525.05,309.61 526.51,309.43 527.98,309.25 529.45,309.06 530.91,308.87 532.38,308.68 533.85,308.49 535.31,308.3 536.78,308.13 538.25,307.98 539.71,307.85 541.18,307.72 542.64,307.6 544.11,307.47 545.58,307.34 547.04,307.21 548.51,307.08 549.98,306.92 551.44,306.74 552.91,306.54 554.38,306.33 555.84,306.11 557.31,305.9 558.77,305.69 560.24,305.48 561.71,305.28 563.17,305.09 564.64,304.92 566.11,304.77 567.57,304.63 569.04,304.48 570.5,304.34 571.97,304.2 573.44,304.03 574.9,303.82 576.37,303.56 577.84,303.24 579.3,302.91 580.77,302.58 582.24,302.25 583.7,301.91 585.17,301.57 586.63,301.22 588.1,300.86 589.57,300.48 591.03,300.1 592.5,299.72" fill="none" stroke="#f4a81c" stroke-width="1.5" stroke-linejoin="round" stroke-dasharray="2.9 1.7"/>
<rect x="448.25" y="241.4" width="12.5" height="3.2" fill="#1e2a6e"/>
<text x="462.5" y="244.9" font-size="5.45" text-anchor="start" font-weight="700" fill="#000">2025/2026</text>
<line x1="448.25" y1="251.25" x2="460.75" y2="251.25" stroke="#f4a81c" stroke-width="1.5" stroke-dasharray="2.9 1.7"/>
<text x="462.5" y="253.15" font-size="5.45" text-anchor="start" font-weight="700" fill="#000">2024/2025</text>
<text x="693" y="233.35" font-size="6" text-anchor="middle" font-weight="700" fill="#000">Weekly U.S. Milo Export Inspections</text>
<line x1="621.75" y1="333.75" x2="777.5" y2="333.75" stroke="#e3e6ea" stroke-width="0.6"/>
<text x="617.5" y="335.62" font-size="5.2" text-anchor="end" font-weight="700" fill="#000">0</text>
<line x1="621.75" y1="323.11" x2="777.5" y2="323.11" stroke="#e3e6ea" stroke-width="0.6"/>
<text x="617.5" y="324.98" font-size="5.2" text-anchor="end" font-weight="700" fill="#000">2</text>
<line x1="621.75" y1="312.47" x2="777.5" y2="312.47" stroke="#e3e6ea" stroke-width="0.6"/>
<text x="617.5" y="314.34" font-size="5.2" text-anchor="end" font-weight="700" fill="#000">4</text>
<line x1="621.75" y1="301.83" x2="777.5" y2="301.83" stroke="#e3e6ea" stroke-width="0.6"/>
<text x="617.5" y="303.71" font-size="5.2" text-anchor="end" font-weight="700" fill="#000">6</text>
<line x1="621.75" y1="291.19" x2="777.5" y2="291.19" stroke="#e3e6ea" stroke-width="0.6"/>
<text x="617.5" y="293.07" font-size="5.2" text-anchor="end" font-weight="700" fill="#000">8</text>
<line x1="621.75" y1="280.56" x2="777.5" y2="280.56" stroke="#e3e6ea" stroke-width="0.6"/>
<text x="617.5" y="282.43" font-size="5.2" text-anchor="end" font-weight="700" fill="#000">10</text>
<line x1="621.75" y1="269.92" x2="777.5" y2="269.92" stroke="#e3e6ea" stroke-width="0.6"/>
<text x="617.5" y="271.79" font-size="5.2" text-anchor="end" font-weight="700" fill="#000">12</text>
<line x1="621.75" y1="259.28" x2="777.5" y2="259.28" stroke="#e3e6ea" stroke-width="0.6"/>
<text x="617.5" y="261.15" font-size="5.2" text-anchor="end" font-weight="700" fill="#000">14</text>
<line x1="621.75" y1="248.64" x2="777.5" y2="248.64" stroke="#e3e6ea" stroke-width="0.6"/>
<text x="617.5" y="250.51" font-size="5.2" text-anchor="end" font-weight="700" fill="#000">16</text>
<line x1="621.75" y1="238" x2="777.5" y2="238" stroke="#e3e6ea" stroke-width="0.6"/>
<text x="617.5" y="239.87" font-size="5.2" text-anchor="end" font-weight="700" fill="#000">18</text>
<text x="605.95" y="282.5" font-size="4.9" text-anchor="middle" font-weight="700" fill="#000" transform="rotate(-90 605.95 282.5)">Million Bushels</text>
<line x1="621.75" y1="238" x2="621.75" y2="333.75" stroke="#dcdcdc" stroke-width="0.6"/>
<line x1="621.75" y1="333.75" x2="777.5" y2="333.75" stroke="#c6c6c6" stroke-width="0.7"/>
<path d="M621.75 333.75v1.6 M624.75 333.75v1.6 M627.74 333.75v1.6 M630.74 333.75v1.6 M633.73 333.75v1.6 M636.73 333.75v1.6 M639.72 333.75v1.6 M642.72 333.75v1.6 M645.71 333.75v1.6 M648.71 333.75v1.6 M651.7 333.75v1.6 M654.7 333.75v1.6 M657.69 333.75v1.6 M660.69 333.75v1.6 M663.68 333.75v1.6 M666.68 333.75v1.6 M669.67 333.75v1.6 M672.67 333.75v1.6 M675.66 333.75v1.6 M678.66 333.75v1.6 M681.65 333.75v1.6 M684.65 333.75v1.6 M687.64 333.75v1.6 M690.64 333.75v1.6 M693.63 333.75v1.6 M696.63 333.75v1.6 M699.62 333.75v1.6 M702.62 333.75v1.6 M705.62 333.75v1.6 M708.61 333.75v1.6 M711.61 333.75v1.6 M714.6 333.75v1.6 M717.6 333.75v1.6 M720.59 333.75v1.6 M723.59 333.75v1.6 M726.58 333.75v1.6 M729.58 333.75v1.6 M732.57 333.75v1.6 M735.57 333.75v1.6 M738.56 333.75v1.6 M741.56 333.75v1.6 M744.55 333.75v1.6 M747.55 333.75v1.6 M750.54 333.75v1.6 M753.54 333.75v1.6 M756.53 333.75v1.6 M759.53 333.75v1.6 M762.52 333.75v1.6 M765.52 333.75v1.6 M768.51 333.75v1.6 M771.51 333.75v1.6 M774.5 333.75v1.6 M777.5 333.75v1.6" stroke="#d4d4d4" stroke-width="0.5" fill="none"/>
<line x1="621.75" y1="333.75" x2="621.75" y2="356" stroke="#d9d9d9" stroke-width="0.6"/>
<text x="623.25" y="343.12" font-size="4.94" text-anchor="middle" font-weight="700" fill="#000" textLength="2.76" lengthAdjust="spacingAndGlyphs">1</text>
<text x="626.24" y="343.12" font-size="4.94" text-anchor="middle" font-weight="700" fill="#000" textLength="2.76" lengthAdjust="spacingAndGlyphs">2</text>
<text x="629.24" y="343.12" font-size="4.94" text-anchor="middle" font-weight="700" fill="#000" textLength="2.76" lengthAdjust="spacingAndGlyphs">3</text>
<text x="632.23" y="343.12" font-size="4.94" text-anchor="middle" font-weight="700" fill="#000" textLength="2.76" lengthAdjust="spacingAndGlyphs">4</text>
<text x="627.74" y="353.87" font-size="5.2" text-anchor="middle" font-weight="700" fill="#000">Sep</text>
<line x1="633.73" y1="333.75" x2="633.73" y2="356" stroke="#d9d9d9" stroke-width="0.6"/>
<text x="635.23" y="343.12" font-size="4.94" text-anchor="middle" font-weight="700" fill="#000" textLength="2.76" lengthAdjust="spacingAndGlyphs">1</text>
<text x="638.22" y="343.12" font-size="4.94" text-anchor="middle" font-weight="700" fill="#000" textLength="2.76" lengthAdjust="spacingAndGlyphs">2</text>
<text x="641.22" y="343.12" font-size="4.94" text-anchor="middle" font-weight="700" fill="#000" textLength="2.76" lengthAdjust="spacingAndGlyphs">3</text>
<text x="644.21" y="343.12" font-size="4.94" text-anchor="middle" font-weight="700" fill="#000" textLength="2.76" lengthAdjust="spacingAndGlyphs">4</text>
<text x="647.21" y="343.12" font-size="4.94" text-anchor="middle" font-weight="700" fill="#000" textLength="2.76" lengthAdjust="spacingAndGlyphs">5</text>
<text x="641.22" y="353.87" font-size="5.2" text-anchor="middle" font-weight="700" fill="#000">Oct</text>
<line x1="648.71" y1="333.75" x2="648.71" y2="356" stroke="#d9d9d9" stroke-width="0.6"/>
<text x="650.2" y="343.12" font-size="4.94" text-anchor="middle" font-weight="700" fill="#000" textLength="2.76" lengthAdjust="spacingAndGlyphs">1</text>
<text x="653.2" y="343.12" font-size="4.94" text-anchor="middle" font-weight="700" fill="#000" textLength="2.76" lengthAdjust="spacingAndGlyphs">2</text>
<text x="656.19" y="343.12" font-size="4.94" text-anchor="middle" font-weight="700" fill="#000" textLength="2.76" lengthAdjust="spacingAndGlyphs">3</text>
<text x="659.19" y="343.12" font-size="4.94" text-anchor="middle" font-weight="700" fill="#000" textLength="2.76" lengthAdjust="spacingAndGlyphs">4</text>
<text x="654.7" y="353.87" font-size="5.2" text-anchor="middle" font-weight="700" fill="#000">Nov</text>
<line x1="660.69" y1="333.75" x2="660.69" y2="356" stroke="#d9d9d9" stroke-width="0.6"/>
<text x="662.19" y="343.12" font-size="4.94" text-anchor="middle" font-weight="700" fill="#000" textLength="2.76" lengthAdjust="spacingAndGlyphs">1</text>
<text x="665.18" y="343.12" font-size="4.94" text-anchor="middle" font-weight="700" fill="#000" textLength="2.76" lengthAdjust="spacingAndGlyphs">2</text>
<text x="668.18" y="343.12" font-size="4.94" text-anchor="middle" font-weight="700" fill="#000" textLength="2.76" lengthAdjust="spacingAndGlyphs">3</text>
<text x="671.17" y="343.12" font-size="4.94" text-anchor="middle" font-weight="700" fill="#000" textLength="2.76" lengthAdjust="spacingAndGlyphs">4</text>
<text x="666.68" y="353.87" font-size="5.2" text-anchor="middle" font-weight="700" fill="#000">Dec</text>
<line x1="672.67" y1="333.75" x2="672.67" y2="356" stroke="#d9d9d9" stroke-width="0.6"/>
<text x="674.17" y="343.12" font-size="4.94" text-anchor="middle" font-weight="700" fill="#000" textLength="2.76" lengthAdjust="spacingAndGlyphs">1</text>
<text x="677.16" y="343.12" font-size="4.94" text-anchor="middle" font-weight="700" fill="#000" textLength="2.76" lengthAdjust="spacingAndGlyphs">2</text>
<text x="680.16" y="343.12" font-size="4.94" text-anchor="middle" font-weight="700" fill="#000" textLength="2.76" lengthAdjust="spacingAndGlyphs">3</text>
<text x="683.15" y="343.12" font-size="4.94" text-anchor="middle" font-weight="700" fill="#000" textLength="2.76" lengthAdjust="spacingAndGlyphs">4</text>
<text x="686.15" y="343.12" font-size="4.94" text-anchor="middle" font-weight="700" fill="#000" textLength="2.76" lengthAdjust="spacingAndGlyphs">5</text>
<text x="680.16" y="353.87" font-size="5.2" text-anchor="middle" font-weight="700" fill="#000">Jan</text>
<line x1="687.64" y1="333.75" x2="687.64" y2="356" stroke="#d9d9d9" stroke-width="0.6"/>
<text x="689.14" y="343.12" font-size="4.94" text-anchor="middle" font-weight="700" fill="#000" textLength="2.76" lengthAdjust="spacingAndGlyphs">1</text>
<text x="692.14" y="343.12" font-size="4.94" text-anchor="middle" font-weight="700" fill="#000" textLength="2.76" lengthAdjust="spacingAndGlyphs">2</text>
<text x="695.13" y="343.12" font-size="4.94" text-anchor="middle" font-weight="700" fill="#000" textLength="2.76" lengthAdjust="spacingAndGlyphs">3</text>
<text x="698.13" y="343.12" font-size="4.94" text-anchor="middle" font-weight="700" fill="#000" textLength="2.76" lengthAdjust="spacingAndGlyphs">4</text>
<text x="693.63" y="353.87" font-size="5.2" text-anchor="middle" font-weight="700" fill="#000">Feb</text>
<line x1="699.62" y1="333.75" x2="699.62" y2="356" stroke="#d9d9d9" stroke-width="0.6"/>
<text x="701.12" y="343.12" font-size="4.94" text-anchor="middle" font-weight="700" fill="#000" textLength="2.76" lengthAdjust="spacingAndGlyphs">1</text>
<text x="704.12" y="343.12" font-size="4.94" text-anchor="middle" font-weight="700" fill="#000" textLength="2.76" lengthAdjust="spacingAndGlyphs">2</text>
<text x="707.11" y="343.12" font-size="4.94" text-anchor="middle" font-weight="700" fill="#000" textLength="2.76" lengthAdjust="spacingAndGlyphs">3</text>
<text x="710.11" y="343.12" font-size="4.94" text-anchor="middle" font-weight="700" fill="#000" textLength="2.76" lengthAdjust="spacingAndGlyphs">4</text>
<text x="705.62" y="353.87" font-size="5.2" text-anchor="middle" font-weight="700" fill="#000">Mar</text>
<line x1="711.61" y1="333.75" x2="711.61" y2="356" stroke="#d9d9d9" stroke-width="0.6"/>
<text x="713.1" y="343.12" font-size="4.94" text-anchor="middle" font-weight="700" fill="#000" textLength="2.76" lengthAdjust="spacingAndGlyphs">1</text>
<text x="716.1" y="343.12" font-size="4.94" text-anchor="middle" font-weight="700" fill="#000" textLength="2.76" lengthAdjust="spacingAndGlyphs">2</text>
<text x="719.09" y="343.12" font-size="4.94" text-anchor="middle" font-weight="700" fill="#000" textLength="2.76" lengthAdjust="spacingAndGlyphs">3</text>
<text x="722.09" y="343.12" font-size="4.94" text-anchor="middle" font-weight="700" fill="#000" textLength="2.76" lengthAdjust="spacingAndGlyphs">4</text>
<text x="725.08" y="343.12" font-size="4.94" text-anchor="middle" font-weight="700" fill="#000" textLength="2.76" lengthAdjust="spacingAndGlyphs">5</text>
<text x="719.09" y="353.87" font-size="5.2" text-anchor="middle" font-weight="700" fill="#000">Apr</text>
<line x1="726.58" y1="333.75" x2="726.58" y2="356" stroke="#d9d9d9" stroke-width="0.6"/>
<text x="728.08" y="343.12" font-size="4.94" text-anchor="middle" font-weight="700" fill="#000" textLength="2.76" lengthAdjust="spacingAndGlyphs">1</text>
<text x="731.07" y="343.12" font-size="4.94" text-anchor="middle" font-weight="700" fill="#000" textLength="2.76" lengthAdjust="spacingAndGlyphs">2</text>
<text x="734.07" y="343.12" font-size="4.94" text-anchor="middle" font-weight="700" fill="#000" textLength="2.76" lengthAdjust="spacingAndGlyphs">3</text>
<text x="737.06" y="343.12" font-size="4.94" text-anchor="middle" font-weight="700" fill="#000" textLength="2.76" lengthAdjust="spacingAndGlyphs">4</text>
<text x="732.57" y="353.87" font-size="5.2" text-anchor="middle" font-weight="700" fill="#000">May</text>
<line x1="738.56" y1="333.75" x2="738.56" y2="356" stroke="#d9d9d9" stroke-width="0.6"/>
<text x="740.06" y="343.12" font-size="4.94" text-anchor="middle" font-weight="700" fill="#000" textLength="2.76" lengthAdjust="spacingAndGlyphs">1</text>
<text x="743.06" y="343.12" font-size="4.94" text-anchor="middle" font-weight="700" fill="#000" textLength="2.76" lengthAdjust="spacingAndGlyphs">2</text>
<text x="746.05" y="343.12" font-size="4.94" text-anchor="middle" font-weight="700" fill="#000" textLength="2.76" lengthAdjust="spacingAndGlyphs">3</text>
<text x="749.05" y="343.12" font-size="4.94" text-anchor="middle" font-weight="700" fill="#000" textLength="2.76" lengthAdjust="spacingAndGlyphs">4</text>
<text x="744.55" y="353.87" font-size="5.2" text-anchor="middle" font-weight="700" fill="#000">Jun</text>
<line x1="750.54" y1="333.75" x2="750.54" y2="356" stroke="#d9d9d9" stroke-width="0.6"/>
<text x="752.04" y="343.12" font-size="4.94" text-anchor="middle" font-weight="700" fill="#000" textLength="2.76" lengthAdjust="spacingAndGlyphs">1</text>
<text x="755.04" y="343.12" font-size="4.94" text-anchor="middle" font-weight="700" fill="#000" textLength="2.76" lengthAdjust="spacingAndGlyphs">2</text>
<text x="758.03" y="343.12" font-size="4.94" text-anchor="middle" font-weight="700" fill="#000" textLength="2.76" lengthAdjust="spacingAndGlyphs">3</text>
<text x="761.03" y="343.12" font-size="4.94" text-anchor="middle" font-weight="700" fill="#000" textLength="2.76" lengthAdjust="spacingAndGlyphs">4</text>
<text x="764.02" y="343.12" font-size="4.94" text-anchor="middle" font-weight="700" fill="#000" textLength="2.76" lengthAdjust="spacingAndGlyphs">5</text>
<text x="758.03" y="353.87" font-size="5.2" text-anchor="middle" font-weight="700" fill="#000">Jul</text>
<line x1="765.52" y1="333.75" x2="765.52" y2="356" stroke="#d9d9d9" stroke-width="0.6"/>
<text x="767.02" y="343.12" font-size="4.94" text-anchor="middle" font-weight="700" fill="#000" textLength="2.76" lengthAdjust="spacingAndGlyphs">1</text>
<text x="770.01" y="343.12" font-size="4.94" text-anchor="middle" font-weight="700" fill="#000" textLength="2.76" lengthAdjust="spacingAndGlyphs">2</text>
<text x="773.01" y="343.12" font-size="4.94" text-anchor="middle" font-weight="700" fill="#000" textLength="2.76" lengthAdjust="spacingAndGlyphs">3</text>
<text x="776" y="343.12" font-size="4.94" text-anchor="middle" font-weight="700" fill="#000" textLength="2.76" lengthAdjust="spacingAndGlyphs">4</text>
<text x="771.51" y="353.87" font-size="5.2" text-anchor="middle" font-weight="700" fill="#000">Aug</text>
<line x1="777.5" y1="238" x2="777.5" y2="333.75" stroke="#dcdcdc" stroke-width="0.6"/>
<line x1="777.5" y1="333.75" x2="777.5" y2="356" stroke="#d9d9d9" stroke-width="0.6"/>
<line x1="621.75" y1="238" x2="777.5" y2="238" stroke="#dcdcdc" stroke-width="0.6"/>
<text class="wm" x="661.5" y="294.25" font-size="26" textLength="70" lengthAdjust="spacingAndGlyphs">StoneX</text><text class="wm" x="732.1" y="281.05" font-size="3.6" opacity="0.8">®</text>
<polyline points="623.25,325.77 626.24,323.11 629.24,320.45 632.23,315.13 635.23,317.79 638.22,320.45 641.22,323.11 644.21,324.18 647.21,320.45 650.2,317.79 653.2,315.13 656.19,307.15 659.19,301.83 662.19,296.51 665.18,304.49 668.18,297.05 671.17,309.81 674.17,318.86 677.16,307.15 680.16,315.13 683.15,320.45 686.15,310.88 689.14,309.81 692.14,308.22 695.13,309.81 698.13,312.47 701.12,309.81 704.12,295.98 707.11,307.15 710.11,299.17 713.1,304.49 716.1,311.41 719.09,297.58 722.09,309.81 725.08,307.15 728.08,308.75 731.07,310.88 734.07,312.47 737.06,311.41 740.06,315.13 743.06,322.05 746.05,323.11 749.05,324.18 752.04,317.79 755.04,314.07 758.03,316.73 761.03,320.45 764.02,318.86 767.02,317.79 770.01,318.86 773.01,317.79 776,318.32" fill="none" stroke="#4f7ea3" stroke-width="0.85" stroke-linejoin="round"/>
<polyline points="623.25,331.09 626.24,319.92 629.24,317.26 632.23,295.98 635.23,332.69 638.22,317.26 641.22,323.11 644.21,332.69 647.21,318.86 650.2,298.64 653.2,320.98 656.19,308.75 659.19,292.52 662.19,318.86 665.18,302.37 668.18,323.11 671.17,330.56 674.17,333.48 677.16,333.75 680.16,331.62 683.15,333.75 686.15,318.86 689.14,333.75 692.14,333.22 695.13,332.69 698.13,330.03 701.12,322.58 704.12,330.56 707.11,332.69 710.11,328.96 713.1,329.49 716.1,326.83 719.09,333.75 722.09,328.96 725.08,331.09 728.08,331.09 731.07,323.11 734.07,323.11 737.06,332.15 740.06,327.9 743.06,327.37 746.05,316.73 749.05,331.09 752.04,332.15 755.04,333.22 758.03,333.75 761.03,326.83 764.02,331.09 767.02,319.92 770.01,316.2 773.01,333.75 776,320.45" fill="none" stroke="#203c6e" stroke-width="1.25" stroke-linejoin="round"/>
<path d="M621.65 329.49l3.2 3.2m0 -3.2l-3.2 3.2m1.6 0v-3.2M624.64 318.32l3.2 3.2m0 -3.2l-3.2 3.2m1.6 0v-3.2M627.64 315.66l3.2 3.2m0 -3.2l-3.2 3.2m1.6 0v-3.2M630.63 294.38l3.2 3.2m0 -3.2l-3.2 3.2m1.6 0v-3.2M633.63 331.09l3.2 3.2m0 -3.2l-3.2 3.2m1.6 0v-3.2M636.62 315.66l3.2 3.2m0 -3.2l-3.2 3.2m1.6 0v-3.2M639.62 321.51l3.2 3.2m0 -3.2l-3.2 3.2m1.6 0v-3.2M642.61 331.09l3.2 3.2m0 -3.2l-3.2 3.2m1.6 0v-3.2M645.61 317.26l3.2 3.2m0 -3.2l-3.2 3.2m1.6 0v-3.2M648.6 297.04l3.2 3.2m0 -3.2l-3.2 3.2m1.6 0v-3.2M651.6 319.38l3.2 3.2m0 -3.2l-3.2 3.2m1.6 0v-3.2M654.59 307.15l3.2 3.2m0 -3.2l-3.2 3.2m1.6 0v-3.2M657.59 290.92l3.2 3.2m0 -3.2l-3.2 3.2m1.6 0v-3.2M660.59 317.26l3.2 3.2m0 -3.2l-3.2 3.2m1.6 0v-3.2M663.58 300.77l3.2 3.2m0 -3.2l-3.2 3.2m1.6 0v-3.2M666.58 321.51l3.2 3.2m0 -3.2l-3.2 3.2m1.6 0v-3.2M669.57 328.96l3.2 3.2m0 -3.2l-3.2 3.2m1.6 0v-3.2M672.57 331.88l3.2 3.2m0 -3.2l-3.2 3.2m1.6 0v-3.2M675.56 332.15l3.2 3.2m0 -3.2l-3.2 3.2m1.6 0v-3.2M678.56 330.02l3.2 3.2m0 -3.2l-3.2 3.2m1.6 0v-3.2M681.55 332.15l3.2 3.2m0 -3.2l-3.2 3.2m1.6 0v-3.2M684.55 317.26l3.2 3.2m0 -3.2l-3.2 3.2m1.6 0v-3.2M687.54 332.15l3.2 3.2m0 -3.2l-3.2 3.2m1.6 0v-3.2M690.54 331.62l3.2 3.2m0 -3.2l-3.2 3.2m1.6 0v-3.2M693.53 331.09l3.2 3.2m0 -3.2l-3.2 3.2m1.6 0v-3.2M696.53 328.43l3.2 3.2m0 -3.2l-3.2 3.2m1.6 0v-3.2M699.52 320.98l3.2 3.2m0 -3.2l-3.2 3.2m1.6 0v-3.2M702.52 328.96l3.2 3.2m0 -3.2l-3.2 3.2m1.6 0v-3.2M705.51 331.09l3.2 3.2m0 -3.2l-3.2 3.2m1.6 0v-3.2M708.51 327.36l3.2 3.2m0 -3.2l-3.2 3.2m1.6 0v-3.2M711.5 327.89l3.2 3.2m0 -3.2l-3.2 3.2m1.6 0v-3.2M714.5 325.23l3.2 3.2m0 -3.2l-3.2 3.2m1.6 0v-3.2M717.49 332.15l3.2 3.2m0 -3.2l-3.2 3.2m1.6 0v-3.2M720.49 327.36l3.2 3.2m0 -3.2l-3.2 3.2m1.6 0v-3.2M723.48 329.49l3.2 3.2m0 -3.2l-3.2 3.2m1.6 0v-3.2M726.48 329.49l3.2 3.2m0 -3.2l-3.2 3.2m1.6 0v-3.2M729.47 321.51l3.2 3.2m0 -3.2l-3.2 3.2m1.6 0v-3.2M732.47 321.51l3.2 3.2m0 -3.2l-3.2 3.2m1.6 0v-3.2M735.46 330.55l3.2 3.2m0 -3.2l-3.2 3.2m1.6 0v-3.2M738.46 326.3l3.2 3.2m0 -3.2l-3.2 3.2m1.6 0v-3.2M741.46 325.77l3.2 3.2m0 -3.2l-3.2 3.2m1.6 0v-3.2M744.45 315.13l3.2 3.2m0 -3.2l-3.2 3.2m1.6 0v-3.2M747.45 329.49l3.2 3.2m0 -3.2l-3.2 3.2m1.6 0v-3.2M750.44 330.55l3.2 3.2m0 -3.2l-3.2 3.2m1.6 0v-3.2M753.44 331.62l3.2 3.2m0 -3.2l-3.2 3.2m1.6 0v-3.2M756.43 332.15l3.2 3.2m0 -3.2l-3.2 3.2m1.6 0v-3.2M759.43 325.23l3.2 3.2m0 -3.2l-3.2 3.2m1.6 0v-3.2M762.42 329.49l3.2 3.2m0 -3.2l-3.2 3.2m1.6 0v-3.2M765.42 318.32l3.2 3.2m0 -3.2l-3.2 3.2m1.6 0v-3.2M768.41 314.6l3.2 3.2m0 -3.2l-3.2 3.2m1.6 0v-3.2M771.41 332.15l3.2 3.2m0 -3.2l-3.2 3.2m1.6 0v-3.2M774.4 318.85l3.2 3.2m0 -3.2l-3.2 3.2m1.6 0v-3.2" stroke="#203c6e" stroke-width="0.85" fill="none"/>
<polyline points="623.25,333.75 626.24,326.3 629.24,327.37" fill="none" stroke="#c8702e" stroke-width="1.3" stroke-linejoin="round"/>
<circle cx="623.25" cy="333.75" r="1.9" fill="#c8702e"/>
<circle cx="626.24" cy="326.3" r="1.9" fill="#c8702e"/>
<circle cx="629.24" cy="327.37" r="1.9" fill="#c8702e"/>
<rect x="624.25" y="240.5" width="150.75" height="7" fill="#fff" stroke="#eeeeee" stroke-width="0.5"/>
<line x1="632.2" y1="244" x2="642.8" y2="244" stroke="#203c6e" stroke-width="1.3"/>
<path d="M636.2 242.7L638.8 245.3M636.2 245.3L638.8 242.7M637.5 242.7V245.3" stroke="#203c6e" stroke-width="0.85"/>
<rect x="636.3" y="242.8" width="2.4" height="2.4" fill="#203c6e"/>
<text x="644" y="245.9" font-size="5.4" text-anchor="start" font-weight="700" fill="#000">2024/2025</text>
<line x1="677.2" y1="244" x2="687.8" y2="244" stroke="#c8702e" stroke-width="1.3"/>
<circle cx="682.5" cy="244" r="1.9" fill="#c8702e"/>
<text x="689" y="245.9" font-size="5.4" text-anchor="start" font-weight="700" fill="#000">2025/2026</text>
<line x1="721.45" y1="244" x2="732.05" y2="244" stroke="#4f7ea3" stroke-width="0.8"/>
<text x="733.5" y="245.9" font-size="5.4" text-anchor="start" font-weight="700" fill="#000">5 Year Average</text>
<text x="511.25" y="373.85" font-size="5.94" text-anchor="middle" font-weight="700" fill="#000">U.S. Milo Weekly Exports By Destination &amp; Port</text>
<line x1="444.5" y1="467" x2="591.25" y2="467" stroke="#e6e8eb" stroke-width="0.6"/>
<text x="440" y="468.87" font-size="5.2" text-anchor="end" font-weight="700" fill="#000">0.00</text>
<line x1="444.5" y1="454.64" x2="591.25" y2="454.64" stroke="#e6e8eb" stroke-width="0.6"/>
<text x="440" y="456.51" font-size="5.2" text-anchor="end" font-weight="700" fill="#000">0.20</text>
<line x1="444.5" y1="442.29" x2="591.25" y2="442.29" stroke="#e6e8eb" stroke-width="0.6"/>
<text x="440" y="444.16" font-size="5.2" text-anchor="end" font-weight="700" fill="#000">0.40</text>
<line x1="444.5" y1="429.93" x2="591.25" y2="429.93" stroke="#e6e8eb" stroke-width="0.6"/>
<text x="440" y="431.8" font-size="5.2" text-anchor="end" font-weight="700" fill="#000">0.60</text>
<line x1="444.5" y1="417.57" x2="591.25" y2="417.57" stroke="#e6e8eb" stroke-width="0.6"/>
<text x="440" y="419.44" font-size="5.2" text-anchor="end" font-weight="700" fill="#000">0.80</text>
<line x1="444.5" y1="405.21" x2="591.25" y2="405.21" stroke="#e6e8eb" stroke-width="0.6"/>
<text x="440" y="407.09" font-size="5.2" text-anchor="end" font-weight="700" fill="#000">1.00</text>
<line x1="444.5" y1="392.86" x2="591.25" y2="392.86" stroke="#e6e8eb" stroke-width="0.6"/>
<text x="440" y="394.73" font-size="5.2" text-anchor="end" font-weight="700" fill="#000">1.20</text>
<line x1="444.5" y1="380.5" x2="591.25" y2="380.5" stroke="#e6e8eb" stroke-width="0.6"/>
<text x="440" y="382.37" font-size="5.2" text-anchor="end" font-weight="700" fill="#000">1.40</text>
<text x="424.2" y="416.25" font-size="4.9" text-anchor="middle" font-weight="700" fill="#000" transform="rotate(-90 424.2 416.25)">Million Bushels</text>
<line x1="444.5" y1="467" x2="591.25" y2="467" stroke="#c6c6c6" stroke-width="0.7"/>
<text class="wm" x="482" y="432.5" font-size="26" textLength="70" lengthAdjust="spacingAndGlyphs">StoneX</text><text class="wm" x="552.6" y="419.3" font-size="3.6" opacity="0.8">®</text>
<rect x="488.75" y="392.86" width="61.25" height="74.14" fill="#2b5597"/>
<text transform="translate(520.88 474.7) rotate(-45) scale(0.85 1)" font-size="5.9" text-anchor="end" font-weight="700">Mexico</text>
<rect x="545.75" y="378.75" width="36.25" height="44.25" fill="#fff" stroke="#eeeeee" stroke-width="0.5"/>
<rect x="553.5" y="381" width="3" height="3" fill="#7a4a3c"/>
<text x="558" y="384.3" font-size="5" text-anchor="start" font-weight="700" fill="#000">Atlantic</text>
<rect x="553.5" y="390.25" width="3" height="3" fill="#2b5597"/>
<text x="558" y="393.55" font-size="5" text-anchor="start" font-weight="700" fill="#000">Gulf</text>
<rect x="553.5" y="399.25" width="3" height="3" fill="#c0672a"/>
<text x="558" y="402.55" font-size="5" text-anchor="start" font-weight="700" fill="#000">Interior</text>
<rect x="553.5" y="408.5" width="3" height="3" fill="#fbb81a"/>
<text x="558" y="411.8" font-size="5" text-anchor="start" font-weight="700" fill="#000">Lakes</text>
<rect x="553.5" y="417.25" width="3" height="3" fill="#70a145"/>
<text x="558" y="420.55" font-size="5" text-anchor="start" font-weight="700" fill="#000">Pacific</text>
<text x="700" y="375.1" font-size="5.97" text-anchor="middle" font-weight="700" fill="#000">Milo Market YTD Exports by Destination &amp; Port</text>
<line x1="631.25" y1="467" x2="777.5" y2="467" stroke="#e6e8eb" stroke-width="0.6"/>
<text x="626.5" y="469.23" font-size="6.2" text-anchor="end" font-weight="700" fill="#000">0.00</text>
<line x1="631.25" y1="456.28" x2="777.5" y2="456.28" stroke="#e6e8eb" stroke-width="0.6"/>
<text x="626.5" y="458.51" font-size="6.2" text-anchor="end" font-weight="700" fill="#000">0.20</text>
<line x1="631.25" y1="445.56" x2="777.5" y2="445.56" stroke="#e6e8eb" stroke-width="0.6"/>
<text x="626.5" y="447.79" font-size="6.2" text-anchor="end" font-weight="700" fill="#000">0.40</text>
<line x1="631.25" y1="434.84" x2="777.5" y2="434.84" stroke="#e6e8eb" stroke-width="0.6"/>
<text x="626.5" y="437.08" font-size="6.2" text-anchor="end" font-weight="700" fill="#000">0.60</text>
<line x1="631.25" y1="424.12" x2="777.5" y2="424.12" stroke="#e6e8eb" stroke-width="0.6"/>
<text x="626.5" y="426.36" font-size="6.2" text-anchor="end" font-weight="700" fill="#000">0.80</text>
<line x1="631.25" y1="413.41" x2="777.5" y2="413.41" stroke="#e6e8eb" stroke-width="0.6"/>
<text x="626.5" y="415.64" font-size="6.2" text-anchor="end" font-weight="700" fill="#000">1.00</text>
<line x1="631.25" y1="402.69" x2="777.5" y2="402.69" stroke="#e6e8eb" stroke-width="0.6"/>
<text x="626.5" y="404.92" font-size="6.2" text-anchor="end" font-weight="700" fill="#000">1.20</text>
<line x1="631.25" y1="391.97" x2="777.5" y2="391.97" stroke="#e6e8eb" stroke-width="0.6"/>
<text x="626.5" y="394.2" font-size="6.2" text-anchor="end" font-weight="700" fill="#000">1.40</text>
<line x1="631.25" y1="381.25" x2="777.5" y2="381.25" stroke="#e6e8eb" stroke-width="0.6"/>
<text x="626.5" y="383.48" font-size="6.2" text-anchor="end" font-weight="700" fill="#000">1.60</text>
<text x="605.95" y="421.7" font-size="5.25" text-anchor="middle" font-weight="700" fill="#000" transform="rotate(-90 605.95 421.7)">Million Bushels</text>
<line x1="631.25" y1="467" x2="777.5" y2="467" stroke="#c6c6c6" stroke-width="0.7"/>
<text class="wm" x="669.5" y="432.5" font-size="26" textLength="70" lengthAdjust="spacingAndGlyphs">StoneX</text><text class="wm" x="740.1" y="419.3" font-size="3.6" opacity="0.8">®</text>
<rect x="635.56" y="390.9" width="6" height="76.1" fill="#2b5597"/>
<text transform="translate(640.06 474.7) rotate(-45) scale(0.85 1)" font-size="5.9" text-anchor="end" font-weight="700">Ethiopia</text>
<rect x="650.19" y="402.69" width="6" height="64.31" fill="#2b5597"/>
<text transform="translate(654.69 474.7) rotate(-45) scale(0.85 1)" font-size="5.9" text-anchor="end" font-weight="700">Mexico</text>
<rect x="730" y="388" width="37" height="42.5" fill="#fff" stroke="#eeeeee" stroke-width="0.5"/>
<rect x="737.25" y="391" width="3" height="3" fill="#7a4a3c"/>
<text x="742.25" y="394.3" font-size="5.8" text-anchor="start" font-weight="700" fill="#000">Atlantic</text>
<rect x="737.25" y="399.75" width="3" height="3" fill="#2b5597"/>
<text x="742.25" y="403.05" font-size="5.8" text-anchor="start" font-weight="700" fill="#000">Gulf</text>
<rect x="737.25" y="408.5" width="3" height="3" fill="#c0672a"/>
<text x="742.25" y="411.8" font-size="5.8" text-anchor="start" font-weight="700" fill="#000">Interior</text>
<rect x="737.25" y="416.75" width="3" height="3" fill="#fbb81a"/>
<text x="742.25" y="420.05" font-size="5.8" text-anchor="start" font-weight="700" fill="#000">Lakes</text>
<rect x="737.25" y="425.25" width="3" height="3" fill="#70a145"/>
<text x="742.25" y="428.55" font-size="5.8" text-anchor="start" font-weight="700" fill="#000">Pacific</text>
<text x="118.75" y="671.6" font-size="5.99" text-anchor="middle" font-weight="700" fill="#000">U.S. Wheat Export Inspections Progress</text>
<line x1="45" y1="770.75" x2="197.5" y2="770.75" stroke="#e3e6ea" stroke-width="0.6"/>
<text x="40" y="772.62" font-size="5.2" text-anchor="end" font-weight="700" fill="#000">0</text>
<line x1="45" y1="751.7" x2="197.5" y2="751.7" stroke="#e3e6ea" stroke-width="0.6"/>
<text x="40" y="753.57" font-size="5.2" text-anchor="end" font-weight="700" fill="#000">200</text>
<line x1="45" y1="732.65" x2="197.5" y2="732.65" stroke="#e3e6ea" stroke-width="0.6"/>
<text x="40" y="734.52" font-size="5.2" text-anchor="end" font-weight="700" fill="#000">400</text>
<line x1="45" y1="713.6" x2="197.5" y2="713.6" stroke="#e3e6ea" stroke-width="0.6"/>
<text x="40" y="715.47" font-size="5.2" text-anchor="end" font-weight="700" fill="#000">600</text>
<line x1="45" y1="694.55" x2="197.5" y2="694.55" stroke="#e3e6ea" stroke-width="0.6"/>
<text x="40" y="696.42" font-size="5.2" text-anchor="end" font-weight="700" fill="#000">800</text>
<line x1="45" y1="675.5" x2="197.5" y2="675.5" stroke="#e3e6ea" stroke-width="0.6"/>
<text x="40" y="677.37" font-size="5.2" text-anchor="end" font-weight="700" fill="#000">1000</text>
<text x="26.7" y="721.25" font-size="4.9" text-anchor="middle" font-weight="700" fill="#000" transform="rotate(-90 26.7 721.25)">Million Bushels</text>
<line x1="45" y1="675.5" x2="45" y2="770.75" stroke="#dcdcdc" stroke-width="0.6"/>
<line x1="45" y1="770.75" x2="197.5" y2="770.75" stroke="#c6c6c6" stroke-width="0.7"/>
<path d="M45 770.75v1.6 M47.93 770.75v1.6 M50.87 770.75v1.6 M53.8 770.75v1.6 M56.73 770.75v1.6 M59.66 770.75v1.6 M62.6 770.75v1.6 M65.53 770.75v1.6 M68.46 770.75v1.6 M71.39 770.75v1.6 M74.33 770.75v1.6 M77.26 770.75v1.6 M80.19 770.75v1.6 M83.12 770.75v1.6 M86.06 770.75v1.6 M88.99 770.75v1.6 M91.92 770.75v1.6 M94.86 770.75v1.6 M97.79 770.75v1.6 M100.72 770.75v1.6 M103.65 770.75v1.6 M106.59 770.75v1.6 M109.52 770.75v1.6 M112.45 770.75v1.6 M115.38 770.75v1.6 M118.32 770.75v1.6 M121.25 770.75v1.6 M124.18 770.75v1.6 M127.12 770.75v1.6 M130.05 770.75v1.6 M132.98 770.75v1.6 M135.91 770.75v1.6 M138.85 770.75v1.6 M141.78 770.75v1.6 M144.71 770.75v1.6 M147.64 770.75v1.6 M150.58 770.75v1.6 M153.51 770.75v1.6 M156.44 770.75v1.6 M159.38 770.75v1.6 M162.31 770.75v1.6 M165.24 770.75v1.6 M168.17 770.75v1.6 M171.11 770.75v1.6 M174.04 770.75v1.6 M176.97 770.75v1.6 M179.9 770.75v1.6 M182.84 770.75v1.6 M185.77 770.75v1.6 M188.7 770.75v1.6 M191.63 770.75v1.6 M194.57 770.75v1.6 M197.5 770.75v1.6" stroke="#d4d4d4" stroke-width="0.5" fill="none"/>
<line x1="45" y1="770.75" x2="45" y2="793.25" stroke="#d9d9d9" stroke-width="0.6"/>
<text x="46.47" y="780.12" font-size="4.94" text-anchor="middle" font-weight="700" fill="#000" textLength="2.7" lengthAdjust="spacingAndGlyphs">1</text>
<text x="49.4" y="780.12" font-size="4.94" text-anchor="middle" font-weight="700" fill="#000" textLength="2.7" lengthAdjust="spacingAndGlyphs">2</text>
<text x="52.33" y="780.12" font-size="4.94" text-anchor="middle" font-weight="700" fill="#000" textLength="2.7" lengthAdjust="spacingAndGlyphs">3</text>
<text x="55.26" y="780.12" font-size="4.94" text-anchor="middle" font-weight="700" fill="#000" textLength="2.7" lengthAdjust="spacingAndGlyphs">4</text>
<text x="50.87" y="791.12" font-size="5.2" text-anchor="middle" font-weight="700" fill="#000">Jun</text>
<line x1="56.73" y1="770.75" x2="56.73" y2="793.25" stroke="#d9d9d9" stroke-width="0.6"/>
<text x="58.2" y="780.12" font-size="4.94" text-anchor="middle" font-weight="700" fill="#000" textLength="2.7" lengthAdjust="spacingAndGlyphs">1</text>
<text x="61.13" y="780.12" font-size="4.94" text-anchor="middle" font-weight="700" fill="#000" textLength="2.7" lengthAdjust="spacingAndGlyphs">2</text>
<text x="64.06" y="780.12" font-size="4.94" text-anchor="middle" font-weight="700" fill="#000" textLength="2.7" lengthAdjust="spacingAndGlyphs">3</text>
<text x="67" y="780.12" font-size="4.94" text-anchor="middle" font-weight="700" fill="#000" textLength="2.7" lengthAdjust="spacingAndGlyphs">4</text>
<text x="69.93" y="780.12" font-size="4.94" text-anchor="middle" font-weight="700" fill="#000" textLength="2.7" lengthAdjust="spacingAndGlyphs">5</text>
<text x="64.06" y="791.12" font-size="5.2" text-anchor="middle" font-weight="700" fill="#000">Jul</text>
<line x1="71.39" y1="770.75" x2="71.39" y2="793.25" stroke="#d9d9d9" stroke-width="0.6"/>
<text x="72.86" y="780.12" font-size="4.94" text-anchor="middle" font-weight="700" fill="#000" textLength="2.7" lengthAdjust="spacingAndGlyphs">1</text>
<text x="75.79" y="780.12" font-size="4.94" text-anchor="middle" font-weight="700" fill="#000" textLength="2.7" lengthAdjust="spacingAndGlyphs">2</text>
<text x="78.73" y="780.12" font-size="4.94" text-anchor="middle" font-weight="700" fill="#000" textLength="2.7" lengthAdjust="spacingAndGlyphs">3</text>
<text x="81.66" y="780.12" font-size="4.94" text-anchor="middle" font-weight="700" fill="#000" textLength="2.7" lengthAdjust="spacingAndGlyphs">4</text>
<text x="77.26" y="791.12" font-size="5.2" text-anchor="middle" font-weight="700" fill="#000">Aug</text>
<line x1="83.12" y1="770.75" x2="83.12" y2="793.25" stroke="#d9d9d9" stroke-width="0.6"/>
<text x="84.59" y="780.12" font-size="4.94" text-anchor="middle" font-weight="700" fill="#000" textLength="2.7" lengthAdjust="spacingAndGlyphs">1</text>
<text x="87.52" y="780.12" font-size="4.94" text-anchor="middle" font-weight="700" fill="#000" textLength="2.7" lengthAdjust="spacingAndGlyphs">2</text>
<text x="90.46" y="780.12" font-size="4.94" text-anchor="middle" font-weight="700" fill="#000" textLength="2.7" lengthAdjust="spacingAndGlyphs">3</text>
<text x="93.39" y="780.12" font-size="4.94" text-anchor="middle" font-weight="700" fill="#000" textLength="2.7" lengthAdjust="spacingAndGlyphs">4</text>
<text x="88.99" y="791.12" font-size="5.2" text-anchor="middle" font-weight="700" fill="#000">Sep</text>
<line x1="94.86" y1="770.75" x2="94.86" y2="793.25" stroke="#d9d9d9" stroke-width="0.6"/>
<text x="96.32" y="780.12" font-size="4.94" text-anchor="middle" font-weight="700" fill="#000" textLength="2.7" lengthAdjust="spacingAndGlyphs">1</text>
<text x="99.25" y="780.12" font-size="4.94" text-anchor="middle" font-weight="700" fill="#000" textLength="2.7" lengthAdjust="spacingAndGlyphs">2</text>
<text x="102.19" y="780.12" font-size="4.94" text-anchor="middle" font-weight="700" fill="#000" textLength="2.7" lengthAdjust="spacingAndGlyphs">3</text>
<text x="105.12" y="780.12" font-size="4.94" text-anchor="middle" font-weight="700" fill="#000" textLength="2.7" lengthAdjust="spacingAndGlyphs">4</text>
<text x="108.05" y="780.12" font-size="4.94" text-anchor="middle" font-weight="700" fill="#000" textLength="2.7" lengthAdjust="spacingAndGlyphs">5</text>
<text x="102.19" y="791.12" font-size="5.2" text-anchor="middle" font-weight="700" fill="#000">Oct</text>
<line x1="109.52" y1="770.75" x2="109.52" y2="793.25" stroke="#d9d9d9" stroke-width="0.6"/>
<text x="110.99" y="780.12" font-size="4.94" text-anchor="middle" font-weight="700" fill="#000" textLength="2.7" lengthAdjust="spacingAndGlyphs">1</text>
<text x="113.92" y="780.12" font-size="4.94" text-anchor="middle" font-weight="700" fill="#000" textLength="2.7" lengthAdjust="spacingAndGlyphs">2</text>
<text x="116.85" y="780.12" font-size="4.94" text-anchor="middle" font-weight="700" fill="#000" textLength="2.7" lengthAdjust="spacingAndGlyphs">3</text>
<text x="119.78" y="780.12" font-size="4.94" text-anchor="middle" font-weight="700" fill="#000" textLength="2.7" lengthAdjust="spacingAndGlyphs">4</text>
<text x="115.38" y="791.12" font-size="5.2" text-anchor="middle" font-weight="700" fill="#000">Nov</text>
<line x1="121.25" y1="770.75" x2="121.25" y2="793.25" stroke="#d9d9d9" stroke-width="0.6"/>
<text x="122.72" y="780.12" font-size="4.94" text-anchor="middle" font-weight="700" fill="#000" textLength="2.7" lengthAdjust="spacingAndGlyphs">1</text>
<text x="125.65" y="780.12" font-size="4.94" text-anchor="middle" font-weight="700" fill="#000" textLength="2.7" lengthAdjust="spacingAndGlyphs">2</text>
<text x="128.58" y="780.12" font-size="4.94" text-anchor="middle" font-weight="700" fill="#000" textLength="2.7" lengthAdjust="spacingAndGlyphs">3</text>
<text x="131.51" y="780.12" font-size="4.94" text-anchor="middle" font-weight="700" fill="#000" textLength="2.7" lengthAdjust="spacingAndGlyphs">4</text>
<text x="127.12" y="791.12" font-size="5.2" text-anchor="middle" font-weight="700" fill="#000">Dec</text>
<line x1="132.98" y1="770.75" x2="132.98" y2="793.25" stroke="#d9d9d9" stroke-width="0.6"/>
<text x="134.45" y="780.12" font-size="4.94" text-anchor="middle" font-weight="700" fill="#000" textLength="2.7" lengthAdjust="spacingAndGlyphs">1</text>
<text x="137.38" y="780.12" font-size="4.94" text-anchor="middle" font-weight="700" fill="#000" textLength="2.7" lengthAdjust="spacingAndGlyphs">2</text>
<text x="140.31" y="780.12" font-size="4.94" text-anchor="middle" font-weight="700" fill="#000" textLength="2.7" lengthAdjust="spacingAndGlyphs">3</text>
<text x="143.25" y="780.12" font-size="4.94" text-anchor="middle" font-weight="700" fill="#000" textLength="2.7" lengthAdjust="spacingAndGlyphs">4</text>
<text x="146.18" y="780.12" font-size="4.94" text-anchor="middle" font-weight="700" fill="#000" textLength="2.7" lengthAdjust="spacingAndGlyphs">5</text>
<text x="140.31" y="791.12" font-size="5.2" text-anchor="middle" font-weight="700" fill="#000">Jan</text>
<line x1="147.64" y1="770.75" x2="147.64" y2="793.25" stroke="#d9d9d9" stroke-width="0.6"/>
<text x="149.11" y="780.12" font-size="4.94" text-anchor="middle" font-weight="700" fill="#000" textLength="2.7" lengthAdjust="spacingAndGlyphs">1</text>
<text x="152.04" y="780.12" font-size="4.94" text-anchor="middle" font-weight="700" fill="#000" textLength="2.7" lengthAdjust="spacingAndGlyphs">2</text>
<text x="154.98" y="780.12" font-size="4.94" text-anchor="middle" font-weight="700" fill="#000" textLength="2.7" lengthAdjust="spacingAndGlyphs">3</text>
<text x="157.91" y="780.12" font-size="4.94" text-anchor="middle" font-weight="700" fill="#000" textLength="2.7" lengthAdjust="spacingAndGlyphs">4</text>
<text x="153.51" y="791.12" font-size="5.2" text-anchor="middle" font-weight="700" fill="#000">Feb</text>
<line x1="159.38" y1="770.75" x2="159.38" y2="793.25" stroke="#d9d9d9" stroke-width="0.6"/>
<text x="160.84" y="780.12" font-size="4.94" text-anchor="middle" font-weight="700" fill="#000" textLength="2.7" lengthAdjust="spacingAndGlyphs">1</text>
<text x="163.77" y="780.12" font-size="4.94" text-anchor="middle" font-weight="700" fill="#000" textLength="2.7" lengthAdjust="spacingAndGlyphs">2</text>
<text x="166.71" y="780.12" font-size="4.94" text-anchor="middle" font-weight="700" fill="#000" textLength="2.7" lengthAdjust="spacingAndGlyphs">3</text>
<text x="169.64" y="780.12" font-size="4.94" text-anchor="middle" font-weight="700" fill="#000" textLength="2.7" lengthAdjust="spacingAndGlyphs">4</text>
<text x="165.24" y="791.12" font-size="5.2" text-anchor="middle" font-weight="700" fill="#000">Mar</text>
<line x1="171.11" y1="770.75" x2="171.11" y2="793.25" stroke="#d9d9d9" stroke-width="0.6"/>
<text x="172.57" y="780.12" font-size="4.94" text-anchor="middle" font-weight="700" fill="#000" textLength="2.7" lengthAdjust="spacingAndGlyphs">1</text>
<text x="175.5" y="780.12" font-size="4.94" text-anchor="middle" font-weight="700" fill="#000" textLength="2.7" lengthAdjust="spacingAndGlyphs">2</text>
<text x="178.44" y="780.12" font-size="4.94" text-anchor="middle" font-weight="700" fill="#000" textLength="2.7" lengthAdjust="spacingAndGlyphs">3</text>
<text x="181.37" y="780.12" font-size="4.94" text-anchor="middle" font-weight="700" fill="#000" textLength="2.7" lengthAdjust="spacingAndGlyphs">4</text>
<text x="184.3" y="780.12" font-size="4.94" text-anchor="middle" font-weight="700" fill="#000" textLength="2.7" lengthAdjust="spacingAndGlyphs">5</text>
<text x="178.44" y="791.12" font-size="5.2" text-anchor="middle" font-weight="700" fill="#000">Apr</text>
<line x1="185.77" y1="770.75" x2="185.77" y2="793.25" stroke="#d9d9d9" stroke-width="0.6"/>
<text x="187.24" y="780.12" font-size="4.94" text-anchor="middle" font-weight="700" fill="#000" textLength="2.7" lengthAdjust="spacingAndGlyphs">1</text>
<text x="190.17" y="780.12" font-size="4.94" text-anchor="middle" font-weight="700" fill="#000" textLength="2.7" lengthAdjust="spacingAndGlyphs">2</text>
<text x="193.1" y="780.12" font-size="4.94" text-anchor="middle" font-weight="700" fill="#000" textLength="2.7" lengthAdjust="spacingAndGlyphs">3</text>
<text x="196.03" y="780.12" font-size="4.94" text-anchor="middle" font-weight="700" fill="#000" textLength="2.7" lengthAdjust="spacingAndGlyphs">4</text>
<text x="191.63" y="791.12" font-size="5.2" text-anchor="middle" font-weight="700" fill="#000">May</text>
<line x1="197.5" y1="675.5" x2="197.5" y2="770.75" stroke="#dcdcdc" stroke-width="0.6"/>
<line x1="197.5" y1="770.75" x2="197.5" y2="793.25" stroke="#d9d9d9" stroke-width="0.6"/>
<line x1="45" y1="675.5" x2="197.5" y2="675.5" stroke="#dcdcdc" stroke-width="0.6"/>
<text class="wm" x="84.5" y="731.75" font-size="26" textLength="70" lengthAdjust="spacingAndGlyphs">StoneX</text><text class="wm" x="155.1" y="718.55" font-size="3.6" opacity="0.8">®</text>
<rect x="45.3" y="676.25" width="118.45" height="21.25" fill="#fff" stroke="#eeeeee" stroke-width="0.5"/>
<polyline points="45,770.75 46.47,769.92 47.93,769.08 49.4,768.25 50.87,767.42 52.33,766.58 53.8,765.75 55.26,764.92 56.73,764.08 58.2,763.25 59.66,762.42 61.13,761.58 62.6,760.75 64.06,759.92 65.53,759.08 67,758.23 68.46,757.33 69.93,756.38 71.39,755.39 72.86,754.38 74.33,753.37 75.79,752.35 77.26,751.34 78.73,750.33 80.19,749.32 81.66,748.31 83.12,747.29 84.59,746.28 86.06,745.27 87.52,744.26 88.99,743.25 90.46,742.28 91.92,741.4 93.39,740.63 94.86,739.96 96.32,739.32 97.79,738.68 99.25,738.05 100.72,737.42 102.19,736.8 103.65,736.17 105.12,735.56 106.59,734.94 108.05,734.32 109.52,733.7 110.99,733.08 112.45,732.46 113.92,731.84 115.38,731.22 116.85,730.6 118.32,729.98 119.78,729.36 121.25,728.74 122.72,728.11 124.18,727.44 125.65,726.73 127.12,725.98 128.58,725.22 130.05,724.46 131.51,723.7 132.98,722.93 134.45,722.17 135.91,721.41 137.38,720.65 138.85,719.89 140.31,719.12 141.78,718.36 143.25,717.6 144.71,716.84 146.18,716.08 147.64,715.31 149.11,714.55 150.58,713.77 152.04,712.97 153.51,712.16 154.98,711.35 156.44,710.54 157.91,709.73 159.38,708.92 160.84,708.1 162.31,707.29 163.77,706.48 165.24,705.67 166.71,704.85 168.17,704.04 169.64,703.23 171.11,702.42 172.57,701.61 174.04,700.8 175.5,700.02 176.97,699.25 178.44,698.51 179.9,697.77 181.37,697.04 182.84,696.3 184.3,695.57 185.77,694.83 187.24,694.1 188.7,693.36 190.17,692.63 191.63,691.89 193.1,691.2 194.57,690.61 196.03,690.21 197.5,689.98" fill="none" stroke="#c8642c" stroke-width="1.5" stroke-linejoin="round" stroke-dasharray="5 3"/>
<rect x="45.53" y="769.61" width="1.88" height="1.14" fill="#1e2a6e"/>
<rect x="48.46" y="768.37" width="1.88" height="2.38" fill="#1e2a6e"/>
<rect x="51.39" y="767.42" width="1.88" height="3.33" fill="#1e2a6e"/>
<rect x="54.33" y="765.8" width="1.88" height="4.95" fill="#1e2a6e"/>
<rect x="57.26" y="763.89" width="1.88" height="6.86" fill="#1e2a6e"/>
<rect x="60.19" y="761.7" width="1.88" height="9.05" fill="#1e2a6e"/>
<rect x="63.12" y="760.56" width="1.88" height="10.19" fill="#1e2a6e"/>
<rect x="66.06" y="759.32" width="1.88" height="11.43" fill="#1e2a6e"/>
<rect x="68.99" y="757.41" width="1.88" height="13.34" fill="#1e2a6e"/>
<rect x="71.92" y="755.51" width="1.88" height="15.24" fill="#1e2a6e"/>
<rect x="74.85" y="753.13" width="1.88" height="17.62" fill="#1e2a6e"/>
<rect x="77.79" y="750.75" width="1.88" height="20" fill="#1e2a6e"/>
<rect x="80.72" y="747.89" width="1.88" height="22.86" fill="#1e2a6e"/>
<rect x="83.65" y="746.46" width="1.88" height="24.29" fill="#1e2a6e"/>
<rect x="86.59" y="743.6" width="1.88" height="27.15" fill="#1e2a6e"/>
<rect x="89.52" y="740.27" width="1.88" height="30.48" fill="#1e2a6e"/>
<polyline points="45,770.75 46.47,769.98 47.93,769.2 49.4,768.43 50.87,767.65 52.33,766.88 53.8,766.11 55.26,765.33 56.73,764.56 58.2,763.78 59.66,763.01 61.13,762.24 62.6,761.46 64.06,760.69 65.53,759.91 67,759.11 68.46,758.26 69.93,757.33 71.39,756.34 72.86,755.33 74.33,754.32 75.79,753.31 77.26,752.3 78.73,751.28 80.19,750.27 81.66,749.26 83.12,748.25 84.59,747.24 86.06,746.22 87.52,745.21 88.99,744.2 90.46,743.23 91.92,742.34 93.39,741.55 94.86,740.85 96.32,740.17 97.79,739.51 99.25,738.84 100.72,738.17 102.19,737.51 103.65,736.84 105.12,736.19 106.59,735.56 108.05,734.97 109.52,734.4 110.99,733.84 112.45,733.28 113.92,732.73 115.38,732.17 116.85,731.62 118.32,731.06 119.78,730.51 121.25,729.95 122.72,729.38 124.18,728.77 125.65,728.12 127.12,727.44 128.58,726.74 130.05,726.05 131.51,725.35 132.98,724.65 134.45,723.95 135.91,723.25 137.38,722.55 138.85,721.86 140.31,721.16 141.78,720.46 143.25,719.76 144.71,719.06 146.18,718.36 147.64,717.66 149.11,716.95 150.58,716.21 152.04,715.42 153.51,714.61 154.98,713.78 156.44,712.95 157.91,712.12 159.38,711.29 160.84,710.46 162.31,709.63 163.77,708.8 165.24,707.97 166.71,707.15 168.17,706.32 169.64,705.49 171.11,704.66 172.57,703.83 174.04,703.03 175.5,702.3 176.97,701.65 178.44,701.06 179.9,700.49 181.37,699.93 182.84,699.38 184.3,698.82 185.77,698.26 187.24,697.7 188.7,697.14 190.17,696.58 191.63,696.02 193.1,695.46 194.57,694.91 196.03,694.35 197.5,693.79" fill="none" stroke="#f4a81c" stroke-width="1.5" stroke-linejoin="round" stroke-dasharray="2.9 1.7"/>
<rect x="51.25" y="678.4" width="13.25" height="3.2" fill="#1e2a6e"/>
<text x="66.25" y="681.9" font-size="5.45" text-anchor="start" font-weight="700" fill="#000">2025/2026</text>
<line x1="51.25" y1="687" x2="64.5" y2="687" stroke="#f4a81c" stroke-width="1.5" stroke-dasharray="2.9 1.7"/>
<text x="66.25" y="688.9" font-size="5.45" text-anchor="start" font-weight="700" fill="#000">2024/2025</text>
<line x1="51.25" y1="693.75" x2="64.5" y2="693.75" stroke="#c8642c" stroke-width="1.5" stroke-dasharray="5 3"/>
<text x="66.25" y="695.65" font-size="4.93" text-anchor="start" font-weight="700" fill="#000">Seasonal Pace to Meet USDA Estimate</text>
<text x="300" y="671.35" font-size="5.93" text-anchor="middle" font-weight="700" fill="#000">Weekly U.S. Wheat Export Inspections</text>
<line x1="225.75" y1="771.75" x2="380.5" y2="771.75" stroke="#e3e6ea" stroke-width="0.6"/>
<text x="221.5" y="773.62" font-size="5.2" text-anchor="end" font-weight="700" fill="#000">0</text>
<line x1="225.75" y1="761.14" x2="380.5" y2="761.14" stroke="#e3e6ea" stroke-width="0.6"/>
<text x="221.5" y="763.01" font-size="5.2" text-anchor="end" font-weight="700" fill="#000">5</text>
<line x1="225.75" y1="750.53" x2="380.5" y2="750.53" stroke="#e3e6ea" stroke-width="0.6"/>
<text x="221.5" y="752.4" font-size="5.2" text-anchor="end" font-weight="700" fill="#000">10</text>
<line x1="225.75" y1="739.92" x2="380.5" y2="739.92" stroke="#e3e6ea" stroke-width="0.6"/>
<text x="221.5" y="741.79" font-size="5.2" text-anchor="end" font-weight="700" fill="#000">15</text>
<line x1="225.75" y1="729.31" x2="380.5" y2="729.31" stroke="#e3e6ea" stroke-width="0.6"/>
<text x="221.5" y="731.18" font-size="5.2" text-anchor="end" font-weight="700" fill="#000">20</text>
<line x1="225.75" y1="718.69" x2="380.5" y2="718.69" stroke="#e3e6ea" stroke-width="0.6"/>
<text x="221.5" y="720.57" font-size="5.2" text-anchor="end" font-weight="700" fill="#000">25</text>
<line x1="225.75" y1="708.08" x2="380.5" y2="708.08" stroke="#e3e6ea" stroke-width="0.6"/>
<text x="221.5" y="709.96" font-size="5.2" text-anchor="end" font-weight="700" fill="#000">30</text>
<line x1="225.75" y1="697.47" x2="380.5" y2="697.47" stroke="#e3e6ea" stroke-width="0.6"/>
<text x="221.5" y="699.34" font-size="5.2" text-anchor="end" font-weight="700" fill="#000">35</text>
<line x1="225.75" y1="686.86" x2="380.5" y2="686.86" stroke="#e3e6ea" stroke-width="0.6"/>
<text x="221.5" y="688.73" font-size="5.2" text-anchor="end" font-weight="700" fill="#000">40</text>
<line x1="225.75" y1="676.25" x2="380.5" y2="676.25" stroke="#e3e6ea" stroke-width="0.6"/>
<text x="221.5" y="678.12" font-size="5.2" text-anchor="end" font-weight="700" fill="#000">45</text>
<text x="211.2" y="720" font-size="4.9" text-anchor="middle" font-weight="700" fill="#000" transform="rotate(-90 211.2 720)">Million Bushels</text>
<line x1="225.75" y1="676.25" x2="225.75" y2="771.75" stroke="#dcdcdc" stroke-width="0.6"/>
<line x1="225.75" y1="771.75" x2="380.5" y2="771.75" stroke="#c6c6c6" stroke-width="0.7"/>
<path d="M225.75 771.75v1.6 M228.73 771.75v1.6 M231.7 771.75v1.6 M234.68 771.75v1.6 M237.65 771.75v1.6 M240.63 771.75v1.6 M243.61 771.75v1.6 M246.58 771.75v1.6 M249.56 771.75v1.6 M252.53 771.75v1.6 M255.51 771.75v1.6 M258.49 771.75v1.6 M261.46 771.75v1.6 M264.44 771.75v1.6 M267.41 771.75v1.6 M270.39 771.75v1.6 M273.37 771.75v1.6 M276.34 771.75v1.6 M279.32 771.75v1.6 M282.29 771.75v1.6 M285.27 771.75v1.6 M288.25 771.75v1.6 M291.22 771.75v1.6 M294.2 771.75v1.6 M297.17 771.75v1.6 M300.15 771.75v1.6 M303.12 771.75v1.6 M306.1 771.75v1.6 M309.08 771.75v1.6 M312.05 771.75v1.6 M315.03 771.75v1.6 M318 771.75v1.6 M320.98 771.75v1.6 M323.96 771.75v1.6 M326.93 771.75v1.6 M329.91 771.75v1.6 M332.88 771.75v1.6 M335.86 771.75v1.6 M338.84 771.75v1.6 M341.81 771.75v1.6 M344.79 771.75v1.6 M347.76 771.75v1.6 M350.74 771.75v1.6 M353.72 771.75v1.6 M356.69 771.75v1.6 M359.67 771.75v1.6 M362.64 771.75v1.6 M365.62 771.75v1.6 M368.6 771.75v1.6 M371.57 771.75v1.6 M374.55 771.75v1.6 M377.52 771.75v1.6 M380.5 771.75v1.6" stroke="#d4d4d4" stroke-width="0.5" fill="none"/>
<line x1="225.75" y1="771.75" x2="225.75" y2="794" stroke="#d9d9d9" stroke-width="0.6"/>
<text x="227.24" y="780.62" font-size="4.94" text-anchor="middle" font-weight="700" fill="#000" textLength="2.74" lengthAdjust="spacingAndGlyphs">1</text>
<text x="230.21" y="780.62" font-size="4.94" text-anchor="middle" font-weight="700" fill="#000" textLength="2.74" lengthAdjust="spacingAndGlyphs">2</text>
<text x="233.19" y="780.62" font-size="4.94" text-anchor="middle" font-weight="700" fill="#000" textLength="2.74" lengthAdjust="spacingAndGlyphs">3</text>
<text x="236.17" y="780.62" font-size="4.94" text-anchor="middle" font-weight="700" fill="#000" textLength="2.74" lengthAdjust="spacingAndGlyphs">4</text>
<text x="231.7" y="791.87" font-size="5.2" text-anchor="middle" font-weight="700" fill="#000">Jun</text>
<line x1="237.65" y1="771.75" x2="237.65" y2="794" stroke="#d9d9d9" stroke-width="0.6"/>
<text x="239.14" y="780.62" font-size="4.94" text-anchor="middle" font-weight="700" fill="#000" textLength="2.74" lengthAdjust="spacingAndGlyphs">1</text>
<text x="242.12" y="780.62" font-size="4.94" text-anchor="middle" font-weight="700" fill="#000" textLength="2.74" lengthAdjust="spacingAndGlyphs">2</text>
<text x="245.09" y="780.62" font-size="4.94" text-anchor="middle" font-weight="700" fill="#000" textLength="2.74" lengthAdjust="spacingAndGlyphs">3</text>
<text x="248.07" y="780.62" font-size="4.94" text-anchor="middle" font-weight="700" fill="#000" textLength="2.74" lengthAdjust="spacingAndGlyphs">4</text>
<text x="251.05" y="780.62" font-size="4.94" text-anchor="middle" font-weight="700" fill="#000" textLength="2.74" lengthAdjust="spacingAndGlyphs">5</text>
<text x="245.09" y="791.87" font-size="5.2" text-anchor="middle" font-weight="700" fill="#000">Jul</text>
<line x1="252.53" y1="771.75" x2="252.53" y2="794" stroke="#d9d9d9" stroke-width="0.6"/>
<text x="254.02" y="780.62" font-size="4.94" text-anchor="middle" font-weight="700" fill="#000" textLength="2.74" lengthAdjust="spacingAndGlyphs">1</text>
<text x="257" y="780.62" font-size="4.94" text-anchor="middle" font-weight="700" fill="#000" textLength="2.74" lengthAdjust="spacingAndGlyphs">2</text>
<text x="259.97" y="780.62" font-size="4.94" text-anchor="middle" font-weight="700" fill="#000" textLength="2.74" lengthAdjust="spacingAndGlyphs">3</text>
<text x="262.95" y="780.62" font-size="4.94" text-anchor="middle" font-weight="700" fill="#000" textLength="2.74" lengthAdjust="spacingAndGlyphs">4</text>
<text x="258.49" y="791.87" font-size="5.2" text-anchor="middle" font-weight="700" fill="#000">Aug</text>
<line x1="264.44" y1="771.75" x2="264.44" y2="794" stroke="#d9d9d9" stroke-width="0.6"/>
<text x="265.93" y="780.62" font-size="4.94" text-anchor="middle" font-weight="700" fill="#000" textLength="2.74" lengthAdjust="spacingAndGlyphs">1</text>
<text x="268.9" y="780.62" font-size="4.94" text-anchor="middle" font-weight="700" fill="#000" textLength="2.74" lengthAdjust="spacingAndGlyphs">2</text>
<text x="271.88" y="780.62" font-size="4.94" text-anchor="middle" font-weight="700" fill="#000" textLength="2.74" lengthAdjust="spacingAndGlyphs">3</text>
<text x="274.85" y="780.62" font-size="4.94" text-anchor="middle" font-weight="700" fill="#000" textLength="2.74" lengthAdjust="spacingAndGlyphs">4</text>
<text x="270.39" y="791.87" font-size="5.2" text-anchor="middle" font-weight="700" fill="#000">Sep</text>
<line x1="276.34" y1="771.75" x2="276.34" y2="794" stroke="#d9d9d9" stroke-width="0.6"/>
<text x="277.83" y="780.62" font-size="4.94" text-anchor="middle" font-weight="700" fill="#000" textLength="2.74" lengthAdjust="spacingAndGlyphs">1</text>
<text x="280.81" y="780.62" font-size="4.94" text-anchor="middle" font-weight="700" fill="#000" textLength="2.74" lengthAdjust="spacingAndGlyphs">2</text>
<text x="283.78" y="780.62" font-size="4.94" text-anchor="middle" font-weight="700" fill="#000" textLength="2.74" lengthAdjust="spacingAndGlyphs">3</text>
<text x="286.76" y="780.62" font-size="4.94" text-anchor="middle" font-weight="700" fill="#000" textLength="2.74" lengthAdjust="spacingAndGlyphs">4</text>
<text x="289.73" y="780.62" font-size="4.94" text-anchor="middle" font-weight="700" fill="#000" textLength="2.74" lengthAdjust="spacingAndGlyphs">5</text>
<text x="283.78" y="791.87" font-size="5.2" text-anchor="middle" font-weight="700" fill="#000">Oct</text>
<line x1="291.22" y1="771.75" x2="291.22" y2="794" stroke="#d9d9d9" stroke-width="0.6"/>
<text x="292.71" y="780.62" font-size="4.94" text-anchor="middle" font-weight="700" fill="#000" textLength="2.74" lengthAdjust="spacingAndGlyphs">1</text>
<text x="295.69" y="780.62" font-size="4.94" text-anchor="middle" font-weight="700" fill="#000" textLength="2.74" lengthAdjust="spacingAndGlyphs">2</text>
<text x="298.66" y="780.62" font-size="4.94" text-anchor="middle" font-weight="700" fill="#000" textLength="2.74" lengthAdjust="spacingAndGlyphs">3</text>
<text x="301.64" y="780.62" font-size="4.94" text-anchor="middle" font-weight="700" fill="#000" textLength="2.74" lengthAdjust="spacingAndGlyphs">4</text>
<text x="297.17" y="791.87" font-size="5.2" text-anchor="middle" font-weight="700" fill="#000">Nov</text>
<line x1="303.12" y1="771.75" x2="303.12" y2="794" stroke="#d9d9d9" stroke-width="0.6"/>
<text x="304.61" y="780.62" font-size="4.94" text-anchor="middle" font-weight="700" fill="#000" textLength="2.74" lengthAdjust="spacingAndGlyphs">1</text>
<text x="307.59" y="780.62" font-size="4.94" text-anchor="middle" font-weight="700" fill="#000" textLength="2.74" lengthAdjust="spacingAndGlyphs">2</text>
<text x="310.56" y="780.62" font-size="4.94" text-anchor="middle" font-weight="700" fill="#000" textLength="2.74" lengthAdjust="spacingAndGlyphs">3</text>
<text x="313.54" y="780.62" font-size="4.94" text-anchor="middle" font-weight="700" fill="#000" textLength="2.74" lengthAdjust="spacingAndGlyphs">4</text>
<text x="309.08" y="791.87" font-size="5.2" text-anchor="middle" font-weight="700" fill="#000">Dec</text>
<line x1="315.03" y1="771.75" x2="315.03" y2="794" stroke="#d9d9d9" stroke-width="0.6"/>
<text x="316.52" y="780.62" font-size="4.94" text-anchor="middle" font-weight="700" fill="#000" textLength="2.74" lengthAdjust="spacingAndGlyphs">1</text>
<text x="319.49" y="780.62" font-size="4.94" text-anchor="middle" font-weight="700" fill="#000" textLength="2.74" lengthAdjust="spacingAndGlyphs">2</text>
<text x="322.47" y="780.62" font-size="4.94" text-anchor="middle" font-weight="700" fill="#000" textLength="2.74" lengthAdjust="spacingAndGlyphs">3</text>
<text x="325.44" y="780.62" font-size="4.94" text-anchor="middle" font-weight="700" fill="#000" textLength="2.74" lengthAdjust="spacingAndGlyphs">4</text>
<text x="328.42" y="780.62" font-size="4.94" text-anchor="middle" font-weight="700" fill="#000" textLength="2.74" lengthAdjust="spacingAndGlyphs">5</text>
<text x="322.47" y="791.87" font-size="5.2" text-anchor="middle" font-weight="700" fill="#000">Jan</text>
<line x1="329.91" y1="771.75" x2="329.91" y2="794" stroke="#d9d9d9" stroke-width="0.6"/>
<text x="331.4" y="780.62" font-size="4.94" text-anchor="middle" font-weight="700" fill="#000" textLength="2.74" lengthAdjust="spacingAndGlyphs">1</text>
<text x="334.37" y="780.62" font-size="4.94" text-anchor="middle" font-weight="700" fill="#000" textLength="2.74" lengthAdjust="spacingAndGlyphs">2</text>
<text x="337.35" y="780.62" font-size="4.94" text-anchor="middle" font-weight="700" fill="#000" textLength="2.74" lengthAdjust="spacingAndGlyphs">3</text>
<text x="340.32" y="780.62" font-size="4.94" text-anchor="middle" font-weight="700" fill="#000" textLength="2.74" lengthAdjust="spacingAndGlyphs">4</text>
<text x="335.86" y="791.87" font-size="5.2" text-anchor="middle" font-weight="700" fill="#000">Feb</text>
<line x1="341.81" y1="771.75" x2="341.81" y2="794" stroke="#d9d9d9" stroke-width="0.6"/>
<text x="343.3" y="780.62" font-size="4.94" text-anchor="middle" font-weight="700" fill="#000" textLength="2.74" lengthAdjust="spacingAndGlyphs">1</text>
<text x="346.28" y="780.62" font-size="4.94" text-anchor="middle" font-weight="700" fill="#000" textLength="2.74" lengthAdjust="spacingAndGlyphs">2</text>
<text x="349.25" y="780.62" font-size="4.94" text-anchor="middle" font-weight="700" fill="#000" textLength="2.74" lengthAdjust="spacingAndGlyphs">3</text>
<text x="352.23" y="780.62" font-size="4.94" text-anchor="middle" font-weight="700" fill="#000" textLength="2.74" lengthAdjust="spacingAndGlyphs">4</text>
<text x="347.76" y="791.87" font-size="5.2" text-anchor="middle" font-weight="700" fill="#000">Mar</text>
<line x1="353.72" y1="771.75" x2="353.72" y2="794" stroke="#d9d9d9" stroke-width="0.6"/>
<text x="355.2" y="780.62" font-size="4.94" text-anchor="middle" font-weight="700" fill="#000" textLength="2.74" lengthAdjust="spacingAndGlyphs">1</text>
<text x="358.18" y="780.62" font-size="4.94" text-anchor="middle" font-weight="700" fill="#000" textLength="2.74" lengthAdjust="spacingAndGlyphs">2</text>
<text x="361.16" y="780.62" font-size="4.94" text-anchor="middle" font-weight="700" fill="#000" textLength="2.74" lengthAdjust="spacingAndGlyphs">3</text>
<text x="364.13" y="780.62" font-size="4.94" text-anchor="middle" font-weight="700" fill="#000" textLength="2.74" lengthAdjust="spacingAndGlyphs">4</text>
<text x="367.11" y="780.62" font-size="4.94" text-anchor="middle" font-weight="700" fill="#000" textLength="2.74" lengthAdjust="spacingAndGlyphs">5</text>
<text x="361.16" y="791.87" font-size="5.2" text-anchor="middle" font-weight="700" fill="#000">Apr</text>
<line x1="368.6" y1="771.75" x2="368.6" y2="794" stroke="#d9d9d9" stroke-width="0.6"/>
<text x="370.08" y="780.62" font-size="4.94" text-anchor="middle" font-weight="700" fill="#000" textLength="2.74" lengthAdjust="spacingAndGlyphs">1</text>
<text x="373.06" y="780.62" font-size="4.94" text-anchor="middle" font-weight="700" fill="#000" textLength="2.74" lengthAdjust="spacingAndGlyphs">2</text>
<text x="376.04" y="780.62" font-size="4.94" text-anchor="middle" font-weight="700" fill="#000" textLength="2.74" lengthAdjust="spacingAndGlyphs">3</text>
<text x="379.01" y="780.62" font-size="4.94" text-anchor="middle" font-weight="700" fill="#000" textLength="2.74" lengthAdjust="spacingAndGlyphs">4</text>
<text x="374.55" y="791.87" font-size="5.2" text-anchor="middle" font-weight="700" fill="#000">May</text>
<line x1="380.5" y1="676.25" x2="380.5" y2="771.75" stroke="#dcdcdc" stroke-width="0.6"/>
<line x1="380.5" y1="771.75" x2="380.5" y2="794" stroke="#d9d9d9" stroke-width="0.6"/>
<line x1="225.75" y1="676.25" x2="380.5" y2="676.25" stroke="#dcdcdc" stroke-width="0.6"/>
<text class="wm" x="272" y="731.75" font-size="26" textLength="70" lengthAdjust="spacingAndGlyphs">StoneX</text><text class="wm" x="342.6" y="718.55" font-size="3.6" opacity="0.8">®</text>
<polyline points="227.24,739.92 230.21,737.79 233.19,737.79 236.17,742.04 239.14,742.04 242.12,735.67 245.09,733.55 248.07,739.92 251.05,735.67 254.02,733.55 257,735.67 259.97,737.79 262.95,729.31 265.93,731.43 268.9,729.31 271.88,720.82 274.85,725.06 277.83,731.43 280.81,735.67 283.78,748.41 286.76,752.65 289.73,754.77 292.71,752.65 295.69,750.53 298.66,748.41 301.64,748.41 304.61,750.53 307.59,748.41 310.56,744.16 313.54,744.16 316.52,744.16 319.49,746.28 322.47,750.53 325.44,746.28 328.42,744.16 331.4,742.04 334.37,737.79 337.35,739.92 340.32,737.79 343.3,742.04 346.28,744.16 349.25,739.92 352.23,737.79 355.2,735.67 358.18,733.55 361.16,733.55 364.13,735.67 367.11,739.92 370.08,742.04 373.06,739.92 376.04,736.73 379.01,739.92" fill="none" stroke="#4f7ea3" stroke-width="0.85" stroke-linejoin="round"/>
<polyline points="227.24,742.46 230.21,739.28 233.19,743.74 236.17,745.01 239.14,744.59 242.12,722.09 245.09,748.83 248.07,746.92 251.05,734.61 254.02,719.54 257,742.46 259.97,727.61 262.95,723.79 265.93,722.51 268.9,726.33 271.88,715.09 274.85,725.7 277.83,742.46 280.81,741.83 283.78,751.16 286.76,748.83 289.73,754.98 292.71,743.74 295.69,755.83 298.66,743.1 301.64,747.56 304.61,751.16 307.59,748.19 310.56,738.22 313.54,744.16 316.52,739.28 319.49,747.56 322.47,750.74 325.44,733.76 328.42,751.16 331.4,726.97 334.37,751.16 337.35,740.77 340.32,740.77 343.3,752.01 346.28,733.34 349.25,734.19 352.23,732.49 355.2,745.01 358.18,723.15 361.16,730.79 364.13,720.82 367.11,739.28 370.08,740.55 373.06,737.58 376.04,727.4 379.01,728.03" fill="none" stroke="#203c6e" stroke-width="1.25" stroke-linejoin="round"/>
<path d="M225.64 740.86l3.2 3.2m0 -3.2l-3.2 3.2m1.6 0v-3.2M228.61 737.68l3.2 3.2m0 -3.2l-3.2 3.2m1.6 0v-3.2M231.59 742.14l3.2 3.2m0 -3.2l-3.2 3.2m1.6 0v-3.2M234.57 743.41l3.2 3.2m0 -3.2l-3.2 3.2m1.6 0v-3.2M237.54 742.99l3.2 3.2m0 -3.2l-3.2 3.2m1.6 0v-3.2M240.52 720.49l3.2 3.2m0 -3.2l-3.2 3.2m1.6 0v-3.2M243.49 747.23l3.2 3.2m0 -3.2l-3.2 3.2m1.6 0v-3.2M246.47 745.32l3.2 3.2m0 -3.2l-3.2 3.2m1.6 0v-3.2M249.45 733.01l3.2 3.2m0 -3.2l-3.2 3.2m1.6 0v-3.2M252.42 717.94l3.2 3.2m0 -3.2l-3.2 3.2m1.6 0v-3.2M255.4 740.86l3.2 3.2m0 -3.2l-3.2 3.2m1.6 0v-3.2M258.37 726.01l3.2 3.2m0 -3.2l-3.2 3.2m1.6 0v-3.2M261.35 722.19l3.2 3.2m0 -3.2l-3.2 3.2m1.6 0v-3.2M264.33 720.91l3.2 3.2m0 -3.2l-3.2 3.2m1.6 0v-3.2M267.3 724.73l3.2 3.2m0 -3.2l-3.2 3.2m1.6 0v-3.2M270.28 713.49l3.2 3.2m0 -3.2l-3.2 3.2m1.6 0v-3.2M273.25 724.1l3.2 3.2m0 -3.2l-3.2 3.2m1.6 0v-3.2M276.23 740.86l3.2 3.2m0 -3.2l-3.2 3.2m1.6 0v-3.2M279.21 740.23l3.2 3.2m0 -3.2l-3.2 3.2m1.6 0v-3.2M282.18 749.56l3.2 3.2m0 -3.2l-3.2 3.2m1.6 0v-3.2M285.16 747.23l3.2 3.2m0 -3.2l-3.2 3.2m1.6 0v-3.2M288.13 753.38l3.2 3.2m0 -3.2l-3.2 3.2m1.6 0v-3.2M291.11 742.14l3.2 3.2m0 -3.2l-3.2 3.2m1.6 0v-3.2M294.09 754.23l3.2 3.2m0 -3.2l-3.2 3.2m1.6 0v-3.2M297.06 741.5l3.2 3.2m0 -3.2l-3.2 3.2m1.6 0v-3.2M300.04 745.96l3.2 3.2m0 -3.2l-3.2 3.2m1.6 0v-3.2M303.01 749.56l3.2 3.2m0 -3.2l-3.2 3.2m1.6 0v-3.2M305.99 746.59l3.2 3.2m0 -3.2l-3.2 3.2m1.6 0v-3.2M308.96 736.62l3.2 3.2m0 -3.2l-3.2 3.2m1.6 0v-3.2M311.94 742.56l3.2 3.2m0 -3.2l-3.2 3.2m1.6 0v-3.2M314.92 737.68l3.2 3.2m0 -3.2l-3.2 3.2m1.6 0v-3.2M317.89 745.96l3.2 3.2m0 -3.2l-3.2 3.2m1.6 0v-3.2M320.87 749.14l3.2 3.2m0 -3.2l-3.2 3.2m1.6 0v-3.2M323.84 732.16l3.2 3.2m0 -3.2l-3.2 3.2m1.6 0v-3.2M326.82 749.56l3.2 3.2m0 -3.2l-3.2 3.2m1.6 0v-3.2M329.8 725.37l3.2 3.2m0 -3.2l-3.2 3.2m1.6 0v-3.2M332.77 749.56l3.2 3.2m0 -3.2l-3.2 3.2m1.6 0v-3.2M335.75 739.17l3.2 3.2m0 -3.2l-3.2 3.2m1.6 0v-3.2M338.72 739.17l3.2 3.2m0 -3.2l-3.2 3.2m1.6 0v-3.2M341.7 750.41l3.2 3.2m0 -3.2l-3.2 3.2m1.6 0v-3.2M344.68 731.74l3.2 3.2m0 -3.2l-3.2 3.2m1.6 0v-3.2M347.65 732.59l3.2 3.2m0 -3.2l-3.2 3.2m1.6 0v-3.2M350.63 730.89l3.2 3.2m0 -3.2l-3.2 3.2m1.6 0v-3.2M353.6 743.41l3.2 3.2m0 -3.2l-3.2 3.2m1.6 0v-3.2M356.58 721.55l3.2 3.2m0 -3.2l-3.2 3.2m1.6 0v-3.2M359.56 729.19l3.2 3.2m0 -3.2l-3.2 3.2m1.6 0v-3.2M362.53 719.22l3.2 3.2m0 -3.2l-3.2 3.2m1.6 0v-3.2M365.51 737.68l3.2 3.2m0 -3.2l-3.2 3.2m1.6 0v-3.2M368.48 738.95l3.2 3.2m0 -3.2l-3.2 3.2m1.6 0v-3.2M371.46 735.98l3.2 3.2m0 -3.2l-3.2 3.2m1.6 0v-3.2M374.44 725.8l3.2 3.2m0 -3.2l-3.2 3.2m1.6 0v-3.2M377.41 726.43l3.2 3.2m0 -3.2l-3.2 3.2m1.6 0v-3.2" stroke="#203c6e" stroke-width="0.85" fill="none"/>
<polyline points="227.24,746.28 230.21,741.4 233.19,751.59 236.17,734.4 239.14,730.79 242.12,736.73 245.09,714.45 248.07,748.83 251.05,717.63 254.02,738.86 257,739.92 259.97,689.83 262.95,708.51 265.93,737.79 268.9,712.33 271.88,704.9" fill="none" stroke="#c8702e" stroke-width="1.3" stroke-linejoin="round"/>
<circle cx="227.24" cy="746.28" r="1.9" fill="#c8702e"/>
<circle cx="230.21" cy="741.4" r="1.9" fill="#c8702e"/>
<circle cx="233.19" cy="751.59" r="1.9" fill="#c8702e"/>
<circle cx="236.17" cy="734.4" r="1.9" fill="#c8702e"/>
<circle cx="239.14" cy="730.79" r="1.9" fill="#c8702e"/>
<circle cx="242.12" cy="736.73" r="1.9" fill="#c8702e"/>
<circle cx="245.09" cy="714.45" r="1.9" fill="#c8702e"/>
<circle cx="248.07" cy="748.83" r="1.9" fill="#c8702e"/>
<circle cx="251.05" cy="717.63" r="1.9" fill="#c8702e"/>
<circle cx="254.02" cy="738.86" r="1.9" fill="#c8702e"/>
<circle cx="257" cy="739.92" r="1.9" fill="#c8702e"/>
<circle cx="259.97" cy="689.83" r="1.9" fill="#c8702e"/>
<circle cx="262.95" cy="708.51" r="1.9" fill="#c8702e"/>
<circle cx="265.93" cy="737.79" r="1.9" fill="#c8702e"/>
<circle cx="268.9" cy="712.33" r="1.9" fill="#c8702e"/>
<circle cx="271.88" cy="704.9" r="1.9" fill="#c8702e"/>
<rect x="280.5" y="677" width="68.25" height="24.75" fill="#fff" stroke="#eeeeee" stroke-width="0.5"/>
<line x1="290.45" y1="680.75" x2="301.05" y2="680.75" stroke="#203c6e" stroke-width="1.3"/>
<path d="M294.45 679.45L297.05 682.05M294.45 682.05L297.05 679.45M295.75 679.45V682.05" stroke="#203c6e" stroke-width="0.85"/>
<rect x="294.55" y="679.55" width="2.4" height="2.4" fill="#203c6e"/>
<text x="303" y="682.65" font-size="5.4" text-anchor="start" font-weight="700" fill="#000">2024/2025</text>
<line x1="290.45" y1="689.5" x2="301.05" y2="689.5" stroke="#c8702e" stroke-width="1.3"/>
<circle cx="295.75" cy="689.5" r="1.9" fill="#c8702e"/>
<text x="303" y="691.4" font-size="5.4" text-anchor="start" font-weight="700" fill="#000">2025/2026</text>
<line x1="290.45" y1="698" x2="301.05" y2="698" stroke="#4f7ea3" stroke-width="0.8"/>
<text x="303" y="699.9" font-size="5.4" text-anchor="start" font-weight="700" fill="#000">5 Year Average</text>
<text x="114.5" y="811.35" font-size="5.68" text-anchor="middle" font-weight="700" fill="#000">U.S. Wheat Weekly Exports By Destination &amp; Port</text>
<line x1="42.5" y1="904.5" x2="194.5" y2="904.5" stroke="#e6e8eb" stroke-width="0.6"/>
<text x="37.75" y="906.37" font-size="5.2" text-anchor="end" font-weight="700" fill="#000">0</text>
<line x1="42.5" y1="890.21" x2="194.5" y2="890.21" stroke="#e6e8eb" stroke-width="0.6"/>
<text x="37.75" y="892.08" font-size="5.2" text-anchor="end" font-weight="700" fill="#000">1</text>
<line x1="42.5" y1="875.92" x2="194.5" y2="875.92" stroke="#e6e8eb" stroke-width="0.6"/>
<text x="37.75" y="877.79" font-size="5.2" text-anchor="end" font-weight="700" fill="#000">2</text>
<line x1="42.5" y1="861.62" x2="194.5" y2="861.62" stroke="#e6e8eb" stroke-width="0.6"/>
<text x="37.75" y="863.5" font-size="5.2" text-anchor="end" font-weight="700" fill="#000">3</text>
<line x1="42.5" y1="847.33" x2="194.5" y2="847.33" stroke="#e6e8eb" stroke-width="0.6"/>
<text x="37.75" y="849.21" font-size="5.2" text-anchor="end" font-weight="700" fill="#000">4</text>
<line x1="42.5" y1="833.04" x2="194.5" y2="833.04" stroke="#e6e8eb" stroke-width="0.6"/>
<text x="37.75" y="834.91" font-size="5.2" text-anchor="end" font-weight="700" fill="#000">5</text>
<line x1="42.5" y1="818.75" x2="194.5" y2="818.75" stroke="#e6e8eb" stroke-width="0.6"/>
<text x="37.75" y="820.62" font-size="5.2" text-anchor="end" font-weight="700" fill="#000">6</text>
<text x="27.45" y="856.25" font-size="4.9" text-anchor="middle" font-weight="700" fill="#000" transform="rotate(-90 27.45 856.25)">Million Bushels</text>
<line x1="42.5" y1="904.5" x2="194.5" y2="904.5" stroke="#c6c6c6" stroke-width="0.7"/>
<text class="wm" x="82" y="869.25" font-size="26" textLength="70" lengthAdjust="spacingAndGlyphs">StoneX</text><text class="wm" x="152.6" y="856.05" font-size="3.6" opacity="0.8">®</text>
<rect x="44.8" y="835.19" width="3" height="69.31" fill="#70a145"/>
<text transform="translate(47.8 912.2) rotate(-45) scale(0.85 1)" font-size="5.9" text-anchor="end" font-weight="700">Philippines</text>
<rect x="52.4" y="891.35" width="3" height="13.15" fill="#2b5597"/>
<rect x="52.4" y="848.05" width="3" height="43.3" fill="#c0672a"/>
<rect x="52.4" y="842.62" width="3" height="5.43" fill="#fbb81a"/>
<text transform="translate(55.4 912.2) rotate(-45) scale(0.85 1)" font-size="5.9" text-anchor="end" font-weight="700">Mexico</text>
<rect x="60" y="866.91" width="3" height="37.59" fill="#2b5597"/>
<text transform="translate(63 912.2) rotate(-45) scale(0.85 1)" font-size="5.9" text-anchor="end" font-weight="700">Venezuela</text>
<rect x="67.6" y="869.2" width="3" height="35.3" fill="#70a145"/>
<text transform="translate(70.6 912.2) rotate(-45) scale(0.85 1)" font-size="5.9" text-anchor="end" font-weight="700">Vietnam</text>
<rect x="75.2" y="873.34" width="3" height="31.16" fill="#70a145"/>
<text transform="translate(78.2 912.2) rotate(-45) scale(0.85 1)" font-size="5.9" text-anchor="end" font-weight="700">Thailand</text>
<rect x="82.8" y="875.63" width="3" height="28.87" fill="#70a145"/>
<text transform="translate(85.8 912.2) rotate(-45) scale(0.85 1)" font-size="5.9" text-anchor="end" font-weight="700">South Korea</text>
<rect x="90.4" y="875.63" width="3" height="28.87" fill="#70a145"/>
<text transform="translate(93.4 912.2) rotate(-45) scale(0.85 1)" font-size="5.9" text-anchor="end" font-weight="700">Peru</text>
<rect x="98" y="890.64" width="3" height="13.86" fill="#2b5597"/>
<rect x="98" y="879.92" width="3" height="10.72" fill="#fbb81a"/>
<text transform="translate(101 912.2) rotate(-45) scale(0.85 1)" font-size="5.9" text-anchor="end" font-weight="700">Italy</text>
<rect x="105.6" y="882.63" width="3" height="21.87" fill="#70a145"/>
<text transform="translate(108.6 912.2) rotate(-45) scale(0.85 1)" font-size="5.9" text-anchor="end" font-weight="700">Japan</text>
<rect x="113.2" y="883.49" width="3" height="21.01" fill="#2b5597"/>
<text transform="translate(116.2 912.2) rotate(-45) scale(0.85 1)" font-size="5.9" text-anchor="end" font-weight="700">Colombia</text>
<rect x="120.8" y="885.49" width="3" height="19.01" fill="#2b5597"/>
<text transform="translate(123.8 912.2) rotate(-45) scale(0.85 1)" font-size="5.9" text-anchor="end" font-weight="700">Ecuador</text>
<rect x="128.4" y="885.92" width="3" height="18.58" fill="#70a145"/>
<text transform="translate(131.4 912.2) rotate(-45) scale(0.85 1)" font-size="5.9" text-anchor="end" font-weight="700">Panama</text>
<rect x="136" y="887.78" width="3" height="16.72" fill="#70a145"/>
<text transform="translate(139 912.2) rotate(-45) scale(0.85 1)" font-size="5.9" text-anchor="end" font-weight="700">Sri Lanka</text>
<rect x="143.6" y="889.49" width="3" height="15.01" fill="#2b5597"/>
<text transform="translate(146.6 912.2) rotate(-45) scale(0.85 1)" font-size="5.9" text-anchor="end" font-weight="700">Honduras</text>
<rect x="151.2" y="897.64" width="3" height="6.86" fill="#2b5597"/>
<text transform="translate(154.2 912.2) rotate(-45) scale(0.85 1)" font-size="5.9" text-anchor="end" font-weight="700">Dominican Republic</text>
<rect x="158.8" y="898.78" width="3" height="5.72" fill="#70a145"/>
<text transform="translate(161.8 912.2) rotate(-45) scale(0.85 1)" font-size="5.9" text-anchor="end" font-weight="700">Taiwan</text>
<rect x="166.4" y="900.64" width="3" height="3.86" fill="#2b5597"/>
<text transform="translate(169.4 912.2) rotate(-45) scale(0.85 1)" font-size="5.9" text-anchor="end" font-weight="700">El Salvador</text>
<rect x="174" y="903.07" width="3" height="1.43" fill="#c0672a"/>
<text transform="translate(177 912.2) rotate(-45) scale(0.85 1)" font-size="5.9" text-anchor="end" font-weight="700">Indonesia</text>
<rect x="181.6" y="903.79" width="3" height="0.71" fill="#c0672a"/>
<text transform="translate(184.6 912.2) rotate(-45) scale(0.85 1)" font-size="5.9" text-anchor="end" font-weight="700">Malaysia</text>
<rect x="189.2" y="904.36" width="3" height="0.14" fill="#c0672a"/>
<text transform="translate(192.2 912.2) rotate(-45) scale(0.85 1)" font-size="5.9" text-anchor="end" font-weight="700">Canada</text>
<rect x="148.75" y="822" width="36.75" height="45.5" fill="#fff" stroke="#eeeeee" stroke-width="0.5"/>
<rect x="156.5" y="825.5" width="3" height="3" fill="#7a4a3c"/>
<text x="161.5" y="828.8" font-size="5" text-anchor="start" font-weight="700" fill="#000">Atlantic</text>
<rect x="156.5" y="834.25" width="3" height="3" fill="#2b5597"/>
<text x="161.5" y="837.55" font-size="5" text-anchor="start" font-weight="700" fill="#000">Gulf</text>
<rect x="156.5" y="843.5" width="3" height="3" fill="#c0672a"/>
<text x="161.5" y="846.8" font-size="5" text-anchor="start" font-weight="700" fill="#000">Interior</text>
<rect x="156.5" y="852.75" width="3" height="3" fill="#fbb81a"/>
<text x="161.5" y="856.05" font-size="5" text-anchor="start" font-weight="700" fill="#000">Lakes</text>
<rect x="156.5" y="861" width="3" height="3" fill="#70a145"/>
<text x="161.5" y="864.3" font-size="5" text-anchor="start" font-weight="700" fill="#000">Pacific</text>
<text x="303" y="812.1" font-size="5.72" text-anchor="middle" font-weight="700" fill="#000">Wheat Market YTD Exports by Destination &amp; Port</text>
<line x1="227.5" y1="904.5" x2="380.5" y2="904.5" stroke="#e6e8eb" stroke-width="0.6"/>
<text x="222.75" y="906.73" font-size="6.2" text-anchor="end" font-weight="700" fill="#000">0</text>
<line x1="227.5" y1="890.21" x2="380.5" y2="890.21" stroke="#e6e8eb" stroke-width="0.6"/>
<text x="222.75" y="892.44" font-size="6.2" text-anchor="end" font-weight="700" fill="#000">10</text>
<line x1="227.5" y1="875.92" x2="380.5" y2="875.92" stroke="#e6e8eb" stroke-width="0.6"/>
<text x="222.75" y="878.15" font-size="6.2" text-anchor="end" font-weight="700" fill="#000">20</text>
<line x1="227.5" y1="861.62" x2="380.5" y2="861.62" stroke="#e6e8eb" stroke-width="0.6"/>
<text x="222.75" y="863.86" font-size="6.2" text-anchor="end" font-weight="700" fill="#000">30</text>
<line x1="227.5" y1="847.33" x2="380.5" y2="847.33" stroke="#e6e8eb" stroke-width="0.6"/>
<text x="222.75" y="849.57" font-size="6.2" text-anchor="end" font-weight="700" fill="#000">40</text>
<line x1="227.5" y1="833.04" x2="380.5" y2="833.04" stroke="#e6e8eb" stroke-width="0.6"/>
<text x="222.75" y="835.27" font-size="6.2" text-anchor="end" font-weight="700" fill="#000">50</text>
<line x1="227.5" y1="818.75" x2="380.5" y2="818.75" stroke="#e6e8eb" stroke-width="0.6"/>
<text x="222.75" y="820.98" font-size="6.2" text-anchor="end" font-weight="700" fill="#000">60</text>
<text x="210.45" y="857.95" font-size="5.25" text-anchor="middle" font-weight="700" fill="#000" transform="rotate(-90 210.45 857.95)">Million Bushels</text>
<line x1="227.5" y1="904.5" x2="380.5" y2="904.5" stroke="#c6c6c6" stroke-width="0.7"/>
<text class="wm" x="267" y="870" font-size="26" textLength="70" lengthAdjust="spacingAndGlyphs">StoneX</text><text class="wm" x="337.6" y="856.8" font-size="3.6" opacity="0.8">®</text>
<rect x="232.15" y="880.2" width="6" height="24.3" fill="#2b5597"/>
<rect x="232.15" y="826.61" width="6" height="53.59" fill="#c0672a"/>
<rect x="232.15" y="825.18" width="6" height="1.43" fill="#fbb81a"/>
<text transform="translate(236.65 912.2) rotate(-45) scale(0.85 1)" font-size="5.9" text-anchor="end" font-weight="700">Mexico</text>
<rect x="247.45" y="856.62" width="6" height="47.88" fill="#70a145"/>
<text transform="translate(251.95 912.2) rotate(-45) scale(0.85 1)" font-size="5.9" text-anchor="end" font-weight="700">Philippines</text>
<rect x="262.75" y="868.77" width="6" height="35.73" fill="#2b5597"/>
<text transform="translate(267.25 912.2) rotate(-45) scale(0.85 1)" font-size="5.9" text-anchor="end" font-weight="700">Nigeria</text>
<rect x="278.05" y="870.91" width="6" height="33.59" fill="#70a145"/>
<text transform="translate(282.55 912.2) rotate(-45) scale(0.85 1)" font-size="5.9" text-anchor="end" font-weight="700">South Korea</text>
<rect x="293.35" y="873.77" width="6" height="30.73" fill="#70a145"/>
<text transform="translate(297.85 912.2) rotate(-45) scale(0.85 1)" font-size="5.9" text-anchor="end" font-weight="700">Japan</text>
<rect x="308.65" y="904.07" width="6" height="0.43" fill="#c0672a"/>
<rect x="308.65" y="879.78" width="6" height="24.3" fill="#70a145"/>
<text transform="translate(313.15 912.2) rotate(-45) scale(0.85 1)" font-size="5.9" text-anchor="end" font-weight="700">Indonesia</text>
<rect x="323.95" y="904.07" width="6" height="0.43" fill="#c0672a"/>
<rect x="323.95" y="886.92" width="6" height="17.15" fill="#70a145"/>
<text transform="translate(328.45 912.2) rotate(-45) scale(0.85 1)" font-size="5.9" text-anchor="end" font-weight="700">Taiwan</text>
<rect x="339.25" y="901.64" width="6" height="2.86" fill="#2b5597"/>
<rect x="339.25" y="900.21" width="6" height="1.43" fill="#c0672a"/>
<rect x="339.25" y="887.35" width="6" height="12.86" fill="#70a145"/>
<text transform="translate(343.75 912.2) rotate(-45) scale(0.85 1)" font-size="5.9" text-anchor="end" font-weight="700">Vietnam</text>
<rect x="354.55" y="887.92" width="6" height="16.58" fill="#2b5597"/>
<text transform="translate(359.05 912.2) rotate(-45) scale(0.85 1)" font-size="5.9" text-anchor="end" font-weight="700">Colombia</text>
<rect x="369.85" y="888.78" width="6" height="15.72" fill="#2b5597"/>
<text transform="translate(374.35 912.2) rotate(-45) scale(0.85 1)" font-size="5.9" text-anchor="end" font-weight="700">Venezuela</text>
<rect x="335" y="818" width="37" height="43.25" fill="#fff" stroke="#eeeeee" stroke-width="0.5"/>
<rect x="342.25" y="820.5" width="3" height="3" fill="#7a4a3c"/>
<text x="347.25" y="823.8" font-size="5.8" text-anchor="start" font-weight="700" fill="#000">Atlantic</text>
<rect x="342.25" y="829.25" width="3" height="3" fill="#2b5597"/>
<text x="347.25" y="832.55" font-size="5.8" text-anchor="start" font-weight="700" fill="#000">Gulf</text>
<rect x="342.25" y="838" width="3" height="3" fill="#c0672a"/>
<text x="347.25" y="841.3" font-size="5.8" text-anchor="start" font-weight="700" fill="#000">Interior</text>
<rect x="342.25" y="846.75" width="3" height="3" fill="#fbb81a"/>
<text x="347.25" y="850.05" font-size="5.8" text-anchor="start" font-weight="700" fill="#000">Lakes</text>
<rect x="342.25" y="854.75" width="3" height="3" fill="#70a145"/>
<text x="347.25" y="858.05" font-size="5.8" text-anchor="start" font-weight="700" fill="#000">Pacific</text>
<text x="507" y="670.85" font-size="6.03" text-anchor="middle" font-weight="700" fill="#000">U.S. HRW Wheat Export Inspections Progress</text>
<line x1="441.25" y1="770" x2="597.5" y2="770" stroke="#e3e6ea" stroke-width="0.6"/>
<text x="436.5" y="771.87" font-size="5.2" text-anchor="end" font-weight="700" fill="#000">0</text>
<line x1="441.25" y1="756.36" x2="597.5" y2="756.36" stroke="#e3e6ea" stroke-width="0.6"/>
<text x="436.5" y="758.23" font-size="5.2" text-anchor="end" font-weight="700" fill="#000">50</text>
<line x1="441.25" y1="742.71" x2="597.5" y2="742.71" stroke="#e3e6ea" stroke-width="0.6"/>
<text x="436.5" y="744.59" font-size="5.2" text-anchor="end" font-weight="700" fill="#000">100</text>
<line x1="441.25" y1="729.07" x2="597.5" y2="729.07" stroke="#e3e6ea" stroke-width="0.6"/>
<text x="436.5" y="730.94" font-size="5.2" text-anchor="end" font-weight="700" fill="#000">150</text>
<line x1="441.25" y1="715.43" x2="597.5" y2="715.43" stroke="#e3e6ea" stroke-width="0.6"/>
<text x="436.5" y="717.3" font-size="5.2" text-anchor="end" font-weight="700" fill="#000">200</text>
<line x1="441.25" y1="701.79" x2="597.5" y2="701.79" stroke="#e3e6ea" stroke-width="0.6"/>
<text x="436.5" y="703.66" font-size="5.2" text-anchor="end" font-weight="700" fill="#000">250</text>
<line x1="441.25" y1="688.14" x2="597.5" y2="688.14" stroke="#e3e6ea" stroke-width="0.6"/>
<text x="436.5" y="690.01" font-size="5.2" text-anchor="end" font-weight="700" fill="#000">300</text>
<line x1="441.25" y1="674.5" x2="597.5" y2="674.5" stroke="#e3e6ea" stroke-width="0.6"/>
<text x="436.5" y="676.37" font-size="5.2" text-anchor="end" font-weight="700" fill="#000">350</text>
<text x="424.2" y="721.25" font-size="4.9" text-anchor="middle" font-weight="700" fill="#000" transform="rotate(-90 424.2 721.25)">Million Bushels</text>
<line x1="441.25" y1="674.5" x2="441.25" y2="770" stroke="#dcdcdc" stroke-width="0.6"/>
<line x1="441.25" y1="770" x2="597.5" y2="770" stroke="#c6c6c6" stroke-width="0.7"/>
<path d="M441.25 770v1.6 M444.25 770v1.6 M447.26 770v1.6 M450.26 770v1.6 M453.27 770v1.6 M456.27 770v1.6 M459.28 770v1.6 M462.28 770v1.6 M465.29 770v1.6 M468.29 770v1.6 M471.3 770v1.6 M474.3 770v1.6 M477.31 770v1.6 M480.31 770v1.6 M483.32 770v1.6 M486.32 770v1.6 M489.33 770v1.6 M492.33 770v1.6 M495.34 770v1.6 M498.34 770v1.6 M501.35 770v1.6 M504.35 770v1.6 M507.36 770v1.6 M510.36 770v1.6 M513.37 770v1.6 M516.37 770v1.6 M519.38 770v1.6 M522.38 770v1.6 M525.38 770v1.6 M528.39 770v1.6 M531.39 770v1.6 M534.4 770v1.6 M537.4 770v1.6 M540.41 770v1.6 M543.41 770v1.6 M546.42 770v1.6 M549.42 770v1.6 M552.43 770v1.6 M555.43 770v1.6 M558.44 770v1.6 M561.44 770v1.6 M564.45 770v1.6 M567.45 770v1.6 M570.46 770v1.6 M573.46 770v1.6 M576.47 770v1.6 M579.47 770v1.6 M582.48 770v1.6 M585.48 770v1.6 M588.49 770v1.6 M591.49 770v1.6 M594.5 770v1.6 M597.5 770v1.6" stroke="#d4d4d4" stroke-width="0.5" fill="none"/>
<line x1="441.25" y1="770" x2="441.25" y2="792.75" stroke="#d9d9d9" stroke-width="0.6"/>
<text x="442.75" y="779.37" font-size="4.94" text-anchor="middle" font-weight="700" fill="#000" textLength="2.76" lengthAdjust="spacingAndGlyphs">1</text>
<text x="445.76" y="779.37" font-size="4.94" text-anchor="middle" font-weight="700" fill="#000" textLength="2.76" lengthAdjust="spacingAndGlyphs">2</text>
<text x="448.76" y="779.37" font-size="4.94" text-anchor="middle" font-weight="700" fill="#000" textLength="2.76" lengthAdjust="spacingAndGlyphs">3</text>
<text x="451.77" y="779.37" font-size="4.94" text-anchor="middle" font-weight="700" fill="#000" textLength="2.76" lengthAdjust="spacingAndGlyphs">4</text>
<text x="447.26" y="790.62" font-size="5.2" text-anchor="middle" font-weight="700" fill="#000">Jun</text>
<line x1="453.27" y1="770" x2="453.27" y2="792.75" stroke="#d9d9d9" stroke-width="0.6"/>
<text x="454.77" y="779.37" font-size="4.94" text-anchor="middle" font-weight="700" fill="#000" textLength="2.76" lengthAdjust="spacingAndGlyphs">1</text>
<text x="457.78" y="779.37" font-size="4.94" text-anchor="middle" font-weight="700" fill="#000" textLength="2.76" lengthAdjust="spacingAndGlyphs">2</text>
<text x="460.78" y="779.37" font-size="4.94" text-anchor="middle" font-weight="700" fill="#000" textLength="2.76" lengthAdjust="spacingAndGlyphs">3</text>
<text x="463.79" y="779.37" font-size="4.94" text-anchor="middle" font-weight="700" fill="#000" textLength="2.76" lengthAdjust="spacingAndGlyphs">4</text>
<text x="466.79" y="779.37" font-size="4.94" text-anchor="middle" font-weight="700" fill="#000" textLength="2.76" lengthAdjust="spacingAndGlyphs">5</text>
<text x="460.78" y="790.62" font-size="5.2" text-anchor="middle" font-weight="700" fill="#000">Jul</text>
<line x1="468.29" y1="770" x2="468.29" y2="792.75" stroke="#d9d9d9" stroke-width="0.6"/>
<text x="469.8" y="779.37" font-size="4.94" text-anchor="middle" font-weight="700" fill="#000" textLength="2.76" lengthAdjust="spacingAndGlyphs">1</text>
<text x="472.8" y="779.37" font-size="4.94" text-anchor="middle" font-weight="700" fill="#000" textLength="2.76" lengthAdjust="spacingAndGlyphs">2</text>
<text x="475.81" y="779.37" font-size="4.94" text-anchor="middle" font-weight="700" fill="#000" textLength="2.76" lengthAdjust="spacingAndGlyphs">3</text>
<text x="478.81" y="779.37" font-size="4.94" text-anchor="middle" font-weight="700" fill="#000" textLength="2.76" lengthAdjust="spacingAndGlyphs">4</text>
<text x="474.3" y="790.62" font-size="5.2" text-anchor="middle" font-weight="700" fill="#000">Aug</text>
<line x1="480.31" y1="770" x2="480.31" y2="792.75" stroke="#d9d9d9" stroke-width="0.6"/>
<text x="481.81" y="779.37" font-size="4.94" text-anchor="middle" font-weight="700" fill="#000" textLength="2.76" lengthAdjust="spacingAndGlyphs">1</text>
<text x="484.82" y="779.37" font-size="4.94" text-anchor="middle" font-weight="700" fill="#000" textLength="2.76" lengthAdjust="spacingAndGlyphs">2</text>
<text x="487.82" y="779.37" font-size="4.94" text-anchor="middle" font-weight="700" fill="#000" textLength="2.76" lengthAdjust="spacingAndGlyphs">3</text>
<text x="490.83" y="779.37" font-size="4.94" text-anchor="middle" font-weight="700" fill="#000" textLength="2.76" lengthAdjust="spacingAndGlyphs">4</text>
<text x="486.32" y="790.62" font-size="5.2" text-anchor="middle" font-weight="700" fill="#000">Sep</text>
<line x1="492.33" y1="770" x2="492.33" y2="792.75" stroke="#d9d9d9" stroke-width="0.6"/>
<text x="493.83" y="779.37" font-size="4.94" text-anchor="middle" font-weight="700" fill="#000" textLength="2.76" lengthAdjust="spacingAndGlyphs">1</text>
<text x="496.84" y="779.37" font-size="4.94" text-anchor="middle" font-weight="700" fill="#000" textLength="2.76" lengthAdjust="spacingAndGlyphs">2</text>
<text x="499.84" y="779.37" font-size="4.94" text-anchor="middle" font-weight="700" fill="#000" textLength="2.76" lengthAdjust="spacingAndGlyphs">3</text>
<text x="502.85" y="779.37" font-size="4.94" text-anchor="middle" font-weight="700" fill="#000" textLength="2.76" lengthAdjust="spacingAndGlyphs">4</text>
<text x="505.85" y="779.37" font-size="4.94" text-anchor="middle" font-weight="700" fill="#000" textLength="2.76" lengthAdjust="spacingAndGlyphs">5</text>
<text x="499.84" y="790.62" font-size="5.2" text-anchor="middle" font-weight="700" fill="#000">Oct</text>
<line x1="507.36" y1="770" x2="507.36" y2="792.75" stroke="#d9d9d9" stroke-width="0.6"/>
<text x="508.86" y="779.37" font-size="4.94" text-anchor="middle" font-weight="700" fill="#000" textLength="2.76" lengthAdjust="spacingAndGlyphs">1</text>
<text x="511.86" y="779.37" font-size="4.94" text-anchor="middle" font-weight="700" fill="#000" textLength="2.76" lengthAdjust="spacingAndGlyphs">2</text>
<text x="514.87" y="779.37" font-size="4.94" text-anchor="middle" font-weight="700" fill="#000" textLength="2.76" lengthAdjust="spacingAndGlyphs">3</text>
<text x="517.87" y="779.37" font-size="4.94" text-anchor="middle" font-weight="700" fill="#000" textLength="2.76" lengthAdjust="spacingAndGlyphs">4</text>
<text x="513.37" y="790.62" font-size="5.2" text-anchor="middle" font-weight="700" fill="#000">Nov</text>
<line x1="519.38" y1="770" x2="519.38" y2="792.75" stroke="#d9d9d9" stroke-width="0.6"/>
<text x="520.88" y="779.37" font-size="4.94" text-anchor="middle" font-weight="700" fill="#000" textLength="2.76" lengthAdjust="spacingAndGlyphs">1</text>
<text x="523.88" y="779.37" font-size="4.94" text-anchor="middle" font-weight="700" fill="#000" textLength="2.76" lengthAdjust="spacingAndGlyphs">2</text>
<text x="526.89" y="779.37" font-size="4.94" text-anchor="middle" font-weight="700" fill="#000" textLength="2.76" lengthAdjust="spacingAndGlyphs">3</text>
<text x="529.89" y="779.37" font-size="4.94" text-anchor="middle" font-weight="700" fill="#000" textLength="2.76" lengthAdjust="spacingAndGlyphs">4</text>
<text x="525.38" y="790.62" font-size="5.2" text-anchor="middle" font-weight="700" fill="#000">Dec</text>
<line x1="531.39" y1="770" x2="531.39" y2="792.75" stroke="#d9d9d9" stroke-width="0.6"/>
<text x="532.9" y="779.37" font-size="4.94" text-anchor="middle" font-weight="700" fill="#000" textLength="2.76" lengthAdjust="spacingAndGlyphs">1</text>
<text x="535.9" y="779.37" font-size="4.94" text-anchor="middle" font-weight="700" fill="#000" textLength="2.76" lengthAdjust="spacingAndGlyphs">2</text>
<text x="538.91" y="779.37" font-size="4.94" text-anchor="middle" font-weight="700" fill="#000" textLength="2.76" lengthAdjust="spacingAndGlyphs">3</text>
<text x="541.91" y="779.37" font-size="4.94" text-anchor="middle" font-weight="700" fill="#000" textLength="2.76" lengthAdjust="spacingAndGlyphs">4</text>
<text x="544.92" y="779.37" font-size="4.94" text-anchor="middle" font-weight="700" fill="#000" textLength="2.76" lengthAdjust="spacingAndGlyphs">5</text>
<text x="538.91" y="790.62" font-size="5.2" text-anchor="middle" font-weight="700" fill="#000">Jan</text>
<line x1="546.42" y1="770" x2="546.42" y2="792.75" stroke="#d9d9d9" stroke-width="0.6"/>
<text x="547.92" y="779.37" font-size="4.94" text-anchor="middle" font-weight="700" fill="#000" textLength="2.76" lengthAdjust="spacingAndGlyphs">1</text>
<text x="550.93" y="779.37" font-size="4.94" text-anchor="middle" font-weight="700" fill="#000" textLength="2.76" lengthAdjust="spacingAndGlyphs">2</text>
<text x="553.93" y="779.37" font-size="4.94" text-anchor="middle" font-weight="700" fill="#000" textLength="2.76" lengthAdjust="spacingAndGlyphs">3</text>
<text x="556.94" y="779.37" font-size="4.94" text-anchor="middle" font-weight="700" fill="#000" textLength="2.76" lengthAdjust="spacingAndGlyphs">4</text>
<text x="552.43" y="790.62" font-size="5.2" text-anchor="middle" font-weight="700" fill="#000">Feb</text>
<line x1="558.44" y1="770" x2="558.44" y2="792.75" stroke="#d9d9d9" stroke-width="0.6"/>
<text x="559.94" y="779.37" font-size="4.94" text-anchor="middle" font-weight="700" fill="#000" textLength="2.76" lengthAdjust="spacingAndGlyphs">1</text>
<text x="562.94" y="779.37" font-size="4.94" text-anchor="middle" font-weight="700" fill="#000" textLength="2.76" lengthAdjust="spacingAndGlyphs">2</text>
<text x="565.95" y="779.37" font-size="4.94" text-anchor="middle" font-weight="700" fill="#000" textLength="2.76" lengthAdjust="spacingAndGlyphs">3</text>
<text x="568.95" y="779.37" font-size="4.94" text-anchor="middle" font-weight="700" fill="#000" textLength="2.76" lengthAdjust="spacingAndGlyphs">4</text>
<text x="564.45" y="790.62" font-size="5.2" text-anchor="middle" font-weight="700" fill="#000">Mar</text>
<line x1="570.46" y1="770" x2="570.46" y2="792.75" stroke="#d9d9d9" stroke-width="0.6"/>
<text x="571.96" y="779.37" font-size="4.94" text-anchor="middle" font-weight="700" fill="#000" textLength="2.76" lengthAdjust="spacingAndGlyphs">1</text>
<text x="574.96" y="779.37" font-size="4.94" text-anchor="middle" font-weight="700" fill="#000" textLength="2.76" lengthAdjust="spacingAndGlyphs">2</text>
<text x="577.97" y="779.37" font-size="4.94" text-anchor="middle" font-weight="700" fill="#000" textLength="2.76" lengthAdjust="spacingAndGlyphs">3</text>
<text x="580.97" y="779.37" font-size="4.94" text-anchor="middle" font-weight="700" fill="#000" textLength="2.76" lengthAdjust="spacingAndGlyphs">4</text>
<text x="583.98" y="779.37" font-size="4.94" text-anchor="middle" font-weight="700" fill="#000" textLength="2.76" lengthAdjust="spacingAndGlyphs">5</text>
<text x="577.97" y="790.62" font-size="5.2" text-anchor="middle" font-weight="700" fill="#000">Apr</text>
<line x1="585.48" y1="770" x2="585.48" y2="792.75" stroke="#d9d9d9" stroke-width="0.6"/>
<text x="586.98" y="779.37" font-size="4.94" text-anchor="middle" font-weight="700" fill="#000" textLength="2.76" lengthAdjust="spacingAndGlyphs">1</text>
<text x="589.99" y="779.37" font-size="4.94" text-anchor="middle" font-weight="700" fill="#000" textLength="2.76" lengthAdjust="spacingAndGlyphs">2</text>
<text x="592.99" y="779.37" font-size="4.94" text-anchor="middle" font-weight="700" fill="#000" textLength="2.76" lengthAdjust="spacingAndGlyphs">3</text>
<text x="596" y="779.37" font-size="4.94" text-anchor="middle" font-weight="700" fill="#000" textLength="2.76" lengthAdjust="spacingAndGlyphs">4</text>
<text x="591.49" y="790.62" font-size="5.2" text-anchor="middle" font-weight="700" fill="#000">May</text>
<line x1="597.5" y1="674.5" x2="597.5" y2="770" stroke="#dcdcdc" stroke-width="0.6"/>
<line x1="597.5" y1="770" x2="597.5" y2="792.75" stroke="#d9d9d9" stroke-width="0.6"/>
<line x1="441.25" y1="674.5" x2="597.5" y2="674.5" stroke="#dcdcdc" stroke-width="0.6"/>
<text class="wm" x="481.5" y="730.5" font-size="26" textLength="70" lengthAdjust="spacingAndGlyphs">StoneX</text><text class="wm" x="552.1" y="717.3" font-size="3.6" opacity="0.8">®</text>
<rect x="441.5" y="675.5" width="122.25" height="21.25" fill="#fff" stroke="#eeeeee" stroke-width="0.5"/>
<polyline points="441.25,770 442.75,768.94 444.25,767.89 445.76,766.83 447.26,765.77 448.76,764.71 450.26,763.66 451.77,762.6 453.27,761.54 454.77,760.48 456.27,759.43 457.78,758.37 459.28,757.31 460.78,756.25 462.28,755.2 463.79,754.14 465.29,753.08 466.79,752.03 468.29,750.97 469.8,749.91 471.3,748.85 472.8,747.8 474.3,746.74 475.81,745.68 477.31,744.62 478.81,743.57 480.31,742.51 481.81,741.45 483.32,740.39 484.82,739.34 486.32,738.29 487.82,737.27 489.33,736.34 490.83,735.53 492.33,734.81 493.83,734.12 495.34,733.44 496.84,732.75 498.34,732.07 499.84,731.36 501.35,730.64 502.85,729.91 504.35,729.16 505.85,728.42 507.36,727.67 508.86,726.92 510.36,726.17 511.86,725.43 513.37,724.68 514.87,723.93 516.37,723.19 517.87,722.44 519.38,721.69 520.88,720.94 522.38,720.2 523.88,719.46 525.38,718.73 526.89,718.01 528.39,717.31 529.89,716.61 531.39,715.91 532.9,715.21 534.4,714.51 535.9,713.81 537.4,713.11 538.91,712.41 540.41,711.71 541.91,711.01 543.41,710.31 544.92,709.61 546.42,708.91 547.92,708.2 549.42,707.46 550.93,706.68 552.43,705.88 553.93,705.06 555.43,704.24 556.94,703.42 558.44,702.6 559.94,701.79 561.44,700.97 562.94,700.15 564.45,699.33 565.95,698.51 567.45,697.69 568.95,696.87 570.46,696.06 571.96,695.24 573.46,694.43 574.96,693.65 576.47,692.9 577.97,692.18 579.47,691.47 580.97,690.76 582.48,690.05 583.98,689.34 585.48,688.63 586.98,687.92 588.49,687.22 589.99,686.51 591.49,685.8 592.99,685.09 594.5,684.38 596,683.67 597.5,682.96" fill="none" stroke="#c8642c" stroke-width="1.5" stroke-linejoin="round" stroke-dasharray="5 3"/>
<rect x="441.79" y="768.36" width="1.92" height="1.64" fill="#1e2a6e"/>
<rect x="444.8" y="767.54" width="1.92" height="2.46" fill="#1e2a6e"/>
<rect x="447.8" y="765.63" width="1.92" height="4.37" fill="#1e2a6e"/>
<rect x="450.81" y="763.72" width="1.92" height="6.28" fill="#1e2a6e"/>
<rect x="453.81" y="761.54" width="1.92" height="8.46" fill="#1e2a6e"/>
<rect x="456.81" y="758.54" width="1.92" height="11.46" fill="#1e2a6e"/>
<rect x="459.82" y="756.9" width="1.92" height="13.1" fill="#1e2a6e"/>
<rect x="462.82" y="753.63" width="1.92" height="16.37" fill="#1e2a6e"/>
<rect x="465.83" y="751.99" width="1.92" height="18.01" fill="#1e2a6e"/>
<rect x="468.83" y="749.54" width="1.92" height="20.46" fill="#1e2a6e"/>
<rect x="471.84" y="747.08" width="1.92" height="22.92" fill="#1e2a6e"/>
<rect x="474.84" y="744.35" width="1.92" height="25.65" fill="#1e2a6e"/>
<rect x="477.85" y="742.99" width="1.92" height="27.01" fill="#1e2a6e"/>
<rect x="480.85" y="740.8" width="1.92" height="29.2" fill="#1e2a6e"/>
<rect x="483.86" y="739.44" width="1.92" height="30.56" fill="#1e2a6e"/>
<rect x="486.86" y="736.71" width="1.92" height="33.29" fill="#1e2a6e"/>
<polyline points="441.25,770 442.75,769.4 444.25,768.81 445.76,768.21 447.26,767.61 448.76,767.02 450.26,766.42 451.77,765.82 453.27,765.23 454.77,764.63 456.27,764.03 457.78,763.43 459.28,762.84 460.78,762.24 462.28,761.64 463.79,761.05 465.29,760.45 466.79,759.85 468.29,759.26 469.8,758.66 471.3,758.06 472.8,757.47 474.3,756.87 475.81,756.27 477.31,755.67 478.81,755.08 480.31,754.48 481.81,753.88 483.32,753.29 484.82,752.69 486.32,752.1 487.82,751.52 489.33,750.99 490.83,750.51 492.33,750.08 493.83,749.67 495.34,749.26 496.84,748.85 498.34,748.44 499.84,748.03 501.35,747.63 502.85,747.22 504.35,746.81 505.85,746.4 507.36,746 508.86,745.6 510.36,745.22 511.86,744.83 513.37,744.44 514.87,744.06 516.37,743.67 517.87,743.28 519.38,742.9 520.88,742.51 522.38,742.12 523.88,741.73 525.38,741.31 526.89,740.86 528.39,740.39 529.89,739.92 531.39,739.44 532.9,738.96 534.4,738.49 535.9,738.01 537.4,737.53 538.91,737.05 540.41,736.58 541.91,736.1 543.41,735.62 544.92,735.14 546.42,734.67 547.92,734.19 549.42,733.73 550.93,733.29 552.43,732.86 553.93,732.44 555.43,732.01 556.94,731.59 558.44,731.16 559.94,730.73 561.44,730.21 562.94,729.51 564.45,728.56 565.95,727.42 567.45,726.21 568.95,724.98 570.46,723.75 571.96,722.53 573.46,721.37 574.96,720.33 576.47,719.48 577.97,718.75 579.47,718.08 580.97,717.42 582.48,716.76 583.98,716.13 585.48,715.56 586.98,715.09 588.49,714.68 589.99,714.3 591.49,713.93 592.99,713.55 594.5,713.18 596,712.8 597.5,712.43" fill="none" stroke="#f4a81c" stroke-width="1.5" stroke-linejoin="round" stroke-dasharray="2.9 1.7"/>
<rect x="450" y="677.65" width="13.75" height="3.2" fill="#1e2a6e"/>
<text x="465.5" y="681.15" font-size="5.45" text-anchor="start" font-weight="700" fill="#000">2025/2026</text>
<line x1="450" y1="686.25" x2="463.75" y2="686.25" stroke="#f4a81c" stroke-width="1.5" stroke-dasharray="2.9 1.7"/>
<text x="465.5" y="688.15" font-size="5.45" text-anchor="start" font-weight="700" fill="#000">2024/2025</text>
<line x1="450" y1="693.25" x2="463.75" y2="693.25" stroke="#c8642c" stroke-width="1.5" stroke-dasharray="5 3"/>
<text x="465.5" y="695.15" font-size="4.93" text-anchor="start" font-weight="700" fill="#000">Seasonal Pace to Meet USDA Estimate</text>
<text x="699.25" y="670.85" font-size="5.96" text-anchor="middle" font-weight="700" fill="#000">Weekly U.S. HRW Wheat Export Inspections</text>
<line x1="624.25" y1="770.5" x2="780.5" y2="770.5" stroke="#e3e6ea" stroke-width="0.6"/>
<text x="620" y="772.37" font-size="5.2" text-anchor="end" font-weight="700" fill="#000">0</text>
<line x1="624.25" y1="756.86" x2="780.5" y2="756.86" stroke="#e3e6ea" stroke-width="0.6"/>
<text x="620" y="758.73" font-size="5.2" text-anchor="end" font-weight="700" fill="#000">2</text>
<line x1="624.25" y1="743.21" x2="780.5" y2="743.21" stroke="#e3e6ea" stroke-width="0.6"/>
<text x="620" y="745.09" font-size="5.2" text-anchor="end" font-weight="700" fill="#000">4</text>
<line x1="624.25" y1="729.57" x2="780.5" y2="729.57" stroke="#e3e6ea" stroke-width="0.6"/>
<text x="620" y="731.44" font-size="5.2" text-anchor="end" font-weight="700" fill="#000">6</text>
<line x1="624.25" y1="715.93" x2="780.5" y2="715.93" stroke="#e3e6ea" stroke-width="0.6"/>
<text x="620" y="717.8" font-size="5.2" text-anchor="end" font-weight="700" fill="#000">8</text>
<line x1="624.25" y1="702.29" x2="780.5" y2="702.29" stroke="#e3e6ea" stroke-width="0.6"/>
<text x="620" y="704.16" font-size="5.2" text-anchor="end" font-weight="700" fill="#000">10</text>
<line x1="624.25" y1="688.64" x2="780.5" y2="688.64" stroke="#e3e6ea" stroke-width="0.6"/>
<text x="620" y="690.51" font-size="5.2" text-anchor="end" font-weight="700" fill="#000">12</text>
<line x1="624.25" y1="675" x2="780.5" y2="675" stroke="#e3e6ea" stroke-width="0.6"/>
<text x="620" y="676.87" font-size="5.2" text-anchor="end" font-weight="700" fill="#000">14</text>
<text x="609.95" y="717.5" font-size="4.9" text-anchor="middle" font-weight="700" fill="#000" transform="rotate(-90 609.95 717.5)">Million Bushels</text>
<line x1="624.25" y1="675" x2="624.25" y2="770.5" stroke="#dcdcdc" stroke-width="0.6"/>
<line x1="624.25" y1="770.5" x2="780.5" y2="770.5" stroke="#c6c6c6" stroke-width="0.7"/>
<path d="M624.25 770.5v1.6 M627.25 770.5v1.6 M630.26 770.5v1.6 M633.26 770.5v1.6 M636.27 770.5v1.6 M639.27 770.5v1.6 M642.28 770.5v1.6 M645.28 770.5v1.6 M648.29 770.5v1.6 M651.29 770.5v1.6 M654.3 770.5v1.6 M657.3 770.5v1.6 M660.31 770.5v1.6 M663.31 770.5v1.6 M666.32 770.5v1.6 M669.32 770.5v1.6 M672.33 770.5v1.6 M675.33 770.5v1.6 M678.34 770.5v1.6 M681.34 770.5v1.6 M684.35 770.5v1.6 M687.35 770.5v1.6 M690.36 770.5v1.6 M693.36 770.5v1.6 M696.37 770.5v1.6 M699.37 770.5v1.6 M702.38 770.5v1.6 M705.38 770.5v1.6 M708.38 770.5v1.6 M711.39 770.5v1.6 M714.39 770.5v1.6 M717.4 770.5v1.6 M720.4 770.5v1.6 M723.41 770.5v1.6 M726.41 770.5v1.6 M729.42 770.5v1.6 M732.42 770.5v1.6 M735.43 770.5v1.6 M738.43 770.5v1.6 M741.44 770.5v1.6 M744.44 770.5v1.6 M747.45 770.5v1.6 M750.45 770.5v1.6 M753.46 770.5v1.6 M756.46 770.5v1.6 M759.47 770.5v1.6 M762.47 770.5v1.6 M765.48 770.5v1.6 M768.48 770.5v1.6 M771.49 770.5v1.6 M774.49 770.5v1.6 M777.5 770.5v1.6 M780.5 770.5v1.6" stroke="#d4d4d4" stroke-width="0.5" fill="none"/>
<line x1="624.25" y1="770.5" x2="624.25" y2="793.25" stroke="#d9d9d9" stroke-width="0.6"/>
<text x="625.75" y="779.87" font-size="4.94" text-anchor="middle" font-weight="700" fill="#000" textLength="2.76" lengthAdjust="spacingAndGlyphs">1</text>
<text x="628.76" y="779.87" font-size="4.94" text-anchor="middle" font-weight="700" fill="#000" textLength="2.76" lengthAdjust="spacingAndGlyphs">2</text>
<text x="631.76" y="779.87" font-size="4.94" text-anchor="middle" font-weight="700" fill="#000" textLength="2.76" lengthAdjust="spacingAndGlyphs">3</text>
<text x="634.77" y="779.87" font-size="4.94" text-anchor="middle" font-weight="700" fill="#000" textLength="2.76" lengthAdjust="spacingAndGlyphs">4</text>
<text x="630.26" y="791.12" font-size="5.2" text-anchor="middle" font-weight="700" fill="#000">Jun</text>
<line x1="636.27" y1="770.5" x2="636.27" y2="793.25" stroke="#d9d9d9" stroke-width="0.6"/>
<text x="637.77" y="779.87" font-size="4.94" text-anchor="middle" font-weight="700" fill="#000" textLength="2.76" lengthAdjust="spacingAndGlyphs">1</text>
<text x="640.78" y="779.87" font-size="4.94" text-anchor="middle" font-weight="700" fill="#000" textLength="2.76" lengthAdjust="spacingAndGlyphs">2</text>
<text x="643.78" y="779.87" font-size="4.94" text-anchor="middle" font-weight="700" fill="#000" textLength="2.76" lengthAdjust="spacingAndGlyphs">3</text>
<text x="646.79" y="779.87" font-size="4.94" text-anchor="middle" font-weight="700" fill="#000" textLength="2.76" lengthAdjust="spacingAndGlyphs">4</text>
<text x="649.79" y="779.87" font-size="4.94" text-anchor="middle" font-weight="700" fill="#000" textLength="2.76" lengthAdjust="spacingAndGlyphs">5</text>
<text x="643.78" y="791.12" font-size="5.2" text-anchor="middle" font-weight="700" fill="#000">Jul</text>
<line x1="651.29" y1="770.5" x2="651.29" y2="793.25" stroke="#d9d9d9" stroke-width="0.6"/>
<text x="652.8" y="779.87" font-size="4.94" text-anchor="middle" font-weight="700" fill="#000" textLength="2.76" lengthAdjust="spacingAndGlyphs">1</text>
<text x="655.8" y="779.87" font-size="4.94" text-anchor="middle" font-weight="700" fill="#000" textLength="2.76" lengthAdjust="spacingAndGlyphs">2</text>
<text x="658.81" y="779.87" font-size="4.94" text-anchor="middle" font-weight="700" fill="#000" textLength="2.76" lengthAdjust="spacingAndGlyphs">3</text>
<text x="661.81" y="779.87" font-size="4.94" text-anchor="middle" font-weight="700" fill="#000" textLength="2.76" lengthAdjust="spacingAndGlyphs">4</text>
<text x="657.3" y="791.12" font-size="5.2" text-anchor="middle" font-weight="700" fill="#000">Aug</text>
<line x1="663.31" y1="770.5" x2="663.31" y2="793.25" stroke="#d9d9d9" stroke-width="0.6"/>
<text x="664.81" y="779.87" font-size="4.94" text-anchor="middle" font-weight="700" fill="#000" textLength="2.76" lengthAdjust="spacingAndGlyphs">1</text>
<text x="667.82" y="779.87" font-size="4.94" text-anchor="middle" font-weight="700" fill="#000" textLength="2.76" lengthAdjust="spacingAndGlyphs">2</text>
<text x="670.82" y="779.87" font-size="4.94" text-anchor="middle" font-weight="700" fill="#000" textLength="2.76" lengthAdjust="spacingAndGlyphs">3</text>
<text x="673.83" y="779.87" font-size="4.94" text-anchor="middle" font-weight="700" fill="#000" textLength="2.76" lengthAdjust="spacingAndGlyphs">4</text>
<text x="669.32" y="791.12" font-size="5.2" text-anchor="middle" font-weight="700" fill="#000">Sep</text>
<line x1="675.33" y1="770.5" x2="675.33" y2="793.25" stroke="#d9d9d9" stroke-width="0.6"/>
<text x="676.83" y="779.87" font-size="4.94" text-anchor="middle" font-weight="700" fill="#000" textLength="2.76" lengthAdjust="spacingAndGlyphs">1</text>
<text x="679.84" y="779.87" font-size="4.94" text-anchor="middle" font-weight="700" fill="#000" textLength="2.76" lengthAdjust="spacingAndGlyphs">2</text>
<text x="682.84" y="779.87" font-size="4.94" text-anchor="middle" font-weight="700" fill="#000" textLength="2.76" lengthAdjust="spacingAndGlyphs">3</text>
<text x="685.85" y="779.87" font-size="4.94" text-anchor="middle" font-weight="700" fill="#000" textLength="2.76" lengthAdjust="spacingAndGlyphs">4</text>
<text x="688.85" y="779.87" font-size="4.94" text-anchor="middle" font-weight="700" fill="#000" textLength="2.76" lengthAdjust="spacingAndGlyphs">5</text>
<text x="682.84" y="791.12" font-size="5.2" text-anchor="middle" font-weight="700" fill="#000">Oct</text>
<line x1="690.36" y1="770.5" x2="690.36" y2="793.25" stroke="#d9d9d9" stroke-width="0.6"/>
<text x="691.86" y="779.87" font-size="4.94" text-anchor="middle" font-weight="700" fill="#000" textLength="2.76" lengthAdjust="spacingAndGlyphs">1</text>
<text x="694.86" y="779.87" font-size="4.94" text-anchor="middle" font-weight="700" fill="#000" textLength="2.76" lengthAdjust="spacingAndGlyphs">2</text>
<text x="697.87" y="779.87" font-size="4.94" text-anchor="middle" font-weight="700" fill="#000" textLength="2.76" lengthAdjust="spacingAndGlyphs">3</text>
<text x="700.87" y="779.87" font-size="4.94" text-anchor="middle" font-weight="700" fill="#000" textLength="2.76" lengthAdjust="spacingAndGlyphs">4</text>
<text x="696.37" y="791.12" font-size="5.2" text-anchor="middle" font-weight="700" fill="#000">Nov</text>
<line x1="702.38" y1="770.5" x2="702.38" y2="793.25" stroke="#d9d9d9" stroke-width="0.6"/>
<text x="703.88" y="779.87" font-size="4.94" text-anchor="middle" font-weight="700" fill="#000" textLength="2.76" lengthAdjust="spacingAndGlyphs">1</text>
<text x="706.88" y="779.87" font-size="4.94" text-anchor="middle" font-weight="700" fill="#000" textLength="2.76" lengthAdjust="spacingAndGlyphs">2</text>
<text x="709.89" y="779.87" font-size="4.94" text-anchor="middle" font-weight="700" fill="#000" textLength="2.76" lengthAdjust="spacingAndGlyphs">3</text>
<text x="712.89" y="779.87" font-size="4.94" text-anchor="middle" font-weight="700" fill="#000" textLength="2.76" lengthAdjust="spacingAndGlyphs">4</text>
<text x="708.38" y="791.12" font-size="5.2" text-anchor="middle" font-weight="700" fill="#000">Dec</text>
<line x1="714.39" y1="770.5" x2="714.39" y2="793.25" stroke="#d9d9d9" stroke-width="0.6"/>
<text x="715.9" y="779.87" font-size="4.94" text-anchor="middle" font-weight="700" fill="#000" textLength="2.76" lengthAdjust="spacingAndGlyphs">1</text>
<text x="718.9" y="779.87" font-size="4.94" text-anchor="middle" font-weight="700" fill="#000" textLength="2.76" lengthAdjust="spacingAndGlyphs">2</text>
<text x="721.91" y="779.87" font-size="4.94" text-anchor="middle" font-weight="700" fill="#000" textLength="2.76" lengthAdjust="spacingAndGlyphs">3</text>
<text x="724.91" y="779.87" font-size="4.94" text-anchor="middle" font-weight="700" fill="#000" textLength="2.76" lengthAdjust="spacingAndGlyphs">4</text>
<text x="727.92" y="779.87" font-size="4.94" text-anchor="middle" font-weight="700" fill="#000" textLength="2.76" lengthAdjust="spacingAndGlyphs">5</text>
<text x="721.91" y="791.12" font-size="5.2" text-anchor="middle" font-weight="700" fill="#000">Jan</text>
<line x1="729.42" y1="770.5" x2="729.42" y2="793.25" stroke="#d9d9d9" stroke-width="0.6"/>
<text x="730.92" y="779.87" font-size="4.94" text-anchor="middle" font-weight="700" fill="#000" textLength="2.76" lengthAdjust="spacingAndGlyphs">1</text>
<text x="733.93" y="779.87" font-size="4.94" text-anchor="middle" font-weight="700" fill="#000" textLength="2.76" lengthAdjust="spacingAndGlyphs">2</text>
<text x="736.93" y="779.87" font-size="4.94" text-anchor="middle" font-weight="700" fill="#000" textLength="2.76" lengthAdjust="spacingAndGlyphs">3</text>
<text x="739.94" y="779.87" font-size="4.94" text-anchor="middle" font-weight="700" fill="#000" textLength="2.76" lengthAdjust="spacingAndGlyphs">4</text>
<text x="735.43" y="791.12" font-size="5.2" text-anchor="middle" font-weight="700" fill="#000">Feb</text>
<line x1="741.44" y1="770.5" x2="741.44" y2="793.25" stroke="#d9d9d9" stroke-width="0.6"/>
<text x="742.94" y="779.87" font-size="4.94" text-anchor="middle" font-weight="700" fill="#000" textLength="2.76" lengthAdjust="spacingAndGlyphs">1</text>
<text x="745.94" y="779.87" font-size="4.94" text-anchor="middle" font-weight="700" fill="#000" textLength="2.76" lengthAdjust="spacingAndGlyphs">2</text>
<text x="748.95" y="779.87" font-size="4.94" text-anchor="middle" font-weight="700" fill="#000" textLength="2.76" lengthAdjust="spacingAndGlyphs">3</text>
<text x="751.95" y="779.87" font-size="4.94" text-anchor="middle" font-weight="700" fill="#000" textLength="2.76" lengthAdjust="spacingAndGlyphs">4</text>
<text x="747.45" y="791.12" font-size="5.2" text-anchor="middle" font-weight="700" fill="#000">Mar</text>
<line x1="753.46" y1="770.5" x2="753.46" y2="793.25" stroke="#d9d9d9" stroke-width="0.6"/>
<text x="754.96" y="779.87" font-size="4.94" text-anchor="middle" font-weight="700" fill="#000" textLength="2.76" lengthAdjust="spacingAndGlyphs">1</text>
<text x="757.96" y="779.87" font-size="4.94" text-anchor="middle" font-weight="700" fill="#000" textLength="2.76" lengthAdjust="spacingAndGlyphs">2</text>
<text x="760.97" y="779.87" font-size="4.94" text-anchor="middle" font-weight="700" fill="#000" textLength="2.76" lengthAdjust="spacingAndGlyphs">3</text>
<text x="763.97" y="779.87" font-size="4.94" text-anchor="middle" font-weight="700" fill="#000" textLength="2.76" lengthAdjust="spacingAndGlyphs">4</text>
<text x="766.98" y="779.87" font-size="4.94" text-anchor="middle" font-weight="700" fill="#000" textLength="2.76" lengthAdjust="spacingAndGlyphs">5</text>
<text x="760.97" y="791.12" font-size="5.2" text-anchor="middle" font-weight="700" fill="#000">Apr</text>
<line x1="768.48" y1="770.5" x2="768.48" y2="793.25" stroke="#d9d9d9" stroke-width="0.6"/>
<text x="769.98" y="779.87" font-size="4.94" text-anchor="middle" font-weight="700" fill="#000" textLength="2.76" lengthAdjust="spacingAndGlyphs">1</text>
<text x="772.99" y="779.87" font-size="4.94" text-anchor="middle" font-weight="700" fill="#000" textLength="2.76" lengthAdjust="spacingAndGlyphs">2</text>
<text x="775.99" y="779.87" font-size="4.94" text-anchor="middle" font-weight="700" fill="#000" textLength="2.76" lengthAdjust="spacingAndGlyphs">3</text>
<text x="779" y="779.87" font-size="4.94" text-anchor="middle" font-weight="700" fill="#000" textLength="2.76" lengthAdjust="spacingAndGlyphs">4</text>
<text x="774.49" y="791.12" font-size="5.2" text-anchor="middle" font-weight="700" fill="#000">May</text>
<line x1="780.5" y1="675" x2="780.5" y2="770.5" stroke="#dcdcdc" stroke-width="0.6"/>
<line x1="780.5" y1="770.5" x2="780.5" y2="793.25" stroke="#d9d9d9" stroke-width="0.6"/>
<line x1="624.25" y1="675" x2="780.5" y2="675" stroke="#dcdcdc" stroke-width="0.6"/>
<text class="wm" x="667" y="731.75" font-size="26" textLength="70" lengthAdjust="spacingAndGlyphs">StoneX</text><text class="wm" x="737.6" y="718.55" font-size="3.6" opacity="0.8">®</text>
<polyline points="625.75,740.49 628.76,735.03 631.76,729.57 634.77,736.39 637.77,739.8 640.78,734.35 643.78,730.94 646.79,732.98 649.79,736.39 652.8,719.34 655.8,726.16 658.81,735.03 661.81,730.94 664.81,730.94 667.82,728.21 670.82,729.57 673.83,732.98 676.83,739.8 679.84,741.17 682.84,744.58 685.85,748.67 688.85,756.86 691.86,756.17 694.86,750.04 697.87,744.58 700.87,745.26 703.88,744.58 706.88,746.62 709.89,750.04 712.89,747.31 715.9,747.99 718.9,750.04 721.91,746.62 724.91,741.85 727.92,744.58 730.92,739.8 733.93,741.85 736.93,744.58 739.94,741.17 742.94,739.8 745.94,741.85 748.95,745.94 751.95,732.98 754.96,737.76 757.96,732.98 760.97,737.76 763.97,736.39 766.98,737.76 769.98,736.39 772.99,737.76 775.99,739.8 779,739.12" fill="none" stroke="#4f7ea3" stroke-width="0.85" stroke-linejoin="round"/>
<polyline points="625.75,752.08 628.76,750.04 631.76,722.75 634.77,754.81 637.77,754.13 640.78,743.21 643.78,732.3 646.79,751.74 649.79,751.4 652.8,719.34 655.8,725.48 658.81,743.9 661.81,731.28 664.81,752.76 667.82,727.52 670.82,730.25 673.83,755.49 676.83,763.68 679.84,724.8 682.84,743.9 685.85,748.67 688.85,756.86 691.86,758.9 694.86,754.81 697.87,738.44 700.87,754.81 703.88,752.76 706.88,739.12 709.89,757.54 712.89,754.81 715.9,733.66 718.9,748.67 721.91,760.27 724.91,743.21 727.92,756.86 730.92,750.04 733.93,763 736.93,752.76 739.94,752.76 742.94,754.81 745.94,740.49 748.95,745.94 751.95,729.57 754.96,728.21 757.96,711.84 760.97,743.21 763.97,694.78 766.98,747.31 769.98,750.72 772.99,725.48 775.99,715.93 779,737.08" fill="none" stroke="#203c6e" stroke-width="1.25" stroke-linejoin="round"/>
<path d="M624.15 750.48l3.2 3.2m0 -3.2l-3.2 3.2m1.6 0v-3.2M627.16 748.44l3.2 3.2m0 -3.2l-3.2 3.2m1.6 0v-3.2M630.16 721.15l3.2 3.2m0 -3.2l-3.2 3.2m1.6 0v-3.2M633.17 753.21l3.2 3.2m0 -3.2l-3.2 3.2m1.6 0v-3.2M636.17 752.53l3.2 3.2m0 -3.2l-3.2 3.2m1.6 0v-3.2M639.18 741.61l3.2 3.2m0 -3.2l-3.2 3.2m1.6 0v-3.2M642.18 730.7l3.2 3.2m0 -3.2l-3.2 3.2m1.6 0v-3.2M645.19 750.14l3.2 3.2m0 -3.2l-3.2 3.2m1.6 0v-3.2M648.19 749.8l3.2 3.2m0 -3.2l-3.2 3.2m1.6 0v-3.2M651.2 717.74l3.2 3.2m0 -3.2l-3.2 3.2m1.6 0v-3.2M654.2 723.88l3.2 3.2m0 -3.2l-3.2 3.2m1.6 0v-3.2M657.21 742.3l3.2 3.2m0 -3.2l-3.2 3.2m1.6 0v-3.2M660.21 729.68l3.2 3.2m0 -3.2l-3.2 3.2m1.6 0v-3.2M663.21 751.16l3.2 3.2m0 -3.2l-3.2 3.2m1.6 0v-3.2M666.22 725.92l3.2 3.2m0 -3.2l-3.2 3.2m1.6 0v-3.2M669.22 728.65l3.2 3.2m0 -3.2l-3.2 3.2m1.6 0v-3.2M672.23 753.89l3.2 3.2m0 -3.2l-3.2 3.2m1.6 0v-3.2M675.23 762.08l3.2 3.2m0 -3.2l-3.2 3.2m1.6 0v-3.2M678.24 723.2l3.2 3.2m0 -3.2l-3.2 3.2m1.6 0v-3.2M681.24 742.3l3.2 3.2m0 -3.2l-3.2 3.2m1.6 0v-3.2M684.25 747.07l3.2 3.2m0 -3.2l-3.2 3.2m1.6 0v-3.2M687.25 755.26l3.2 3.2m0 -3.2l-3.2 3.2m1.6 0v-3.2M690.26 757.3l3.2 3.2m0 -3.2l-3.2 3.2m1.6 0v-3.2M693.26 753.21l3.2 3.2m0 -3.2l-3.2 3.2m1.6 0v-3.2M696.27 736.84l3.2 3.2m0 -3.2l-3.2 3.2m1.6 0v-3.2M699.27 753.21l3.2 3.2m0 -3.2l-3.2 3.2m1.6 0v-3.2M702.28 751.16l3.2 3.2m0 -3.2l-3.2 3.2m1.6 0v-3.2M705.28 737.52l3.2 3.2m0 -3.2l-3.2 3.2m1.6 0v-3.2M708.29 755.94l3.2 3.2m0 -3.2l-3.2 3.2m1.6 0v-3.2M711.29 753.21l3.2 3.2m0 -3.2l-3.2 3.2m1.6 0v-3.2M714.3 732.06l3.2 3.2m0 -3.2l-3.2 3.2m1.6 0v-3.2M717.3 747.07l3.2 3.2m0 -3.2l-3.2 3.2m1.6 0v-3.2M720.31 758.67l3.2 3.2m0 -3.2l-3.2 3.2m1.6 0v-3.2M723.31 741.61l3.2 3.2m0 -3.2l-3.2 3.2m1.6 0v-3.2M726.32 755.26l3.2 3.2m0 -3.2l-3.2 3.2m1.6 0v-3.2M729.32 748.44l3.2 3.2m0 -3.2l-3.2 3.2m1.6 0v-3.2M732.33 761.4l3.2 3.2m0 -3.2l-3.2 3.2m1.6 0v-3.2M735.33 751.16l3.2 3.2m0 -3.2l-3.2 3.2m1.6 0v-3.2M738.34 751.16l3.2 3.2m0 -3.2l-3.2 3.2m1.6 0v-3.2M741.34 753.21l3.2 3.2m0 -3.2l-3.2 3.2m1.6 0v-3.2M744.34 738.89l3.2 3.2m0 -3.2l-3.2 3.2m1.6 0v-3.2M747.35 744.34l3.2 3.2m0 -3.2l-3.2 3.2m1.6 0v-3.2M750.35 727.97l3.2 3.2m0 -3.2l-3.2 3.2m1.6 0v-3.2M753.36 726.61l3.2 3.2m0 -3.2l-3.2 3.2m1.6 0v-3.2M756.36 710.24l3.2 3.2m0 -3.2l-3.2 3.2m1.6 0v-3.2M759.37 741.61l3.2 3.2m0 -3.2l-3.2 3.2m1.6 0v-3.2M762.37 693.18l3.2 3.2m0 -3.2l-3.2 3.2m1.6 0v-3.2M765.38 745.71l3.2 3.2m0 -3.2l-3.2 3.2m1.6 0v-3.2M768.38 749.12l3.2 3.2m0 -3.2l-3.2 3.2m1.6 0v-3.2M771.39 723.88l3.2 3.2m0 -3.2l-3.2 3.2m1.6 0v-3.2M774.39 714.33l3.2 3.2m0 -3.2l-3.2 3.2m1.6 0v-3.2M777.4 735.48l3.2 3.2m0 -3.2l-3.2 3.2m1.6 0v-3.2" stroke="#203c6e" stroke-width="0.85" fill="none"/>
<polyline points="625.75,728.89 628.76,721.39 631.76,735.03 634.77,716.61 637.77,714.56 640.78,726.16 643.78,695.46 646.79,747.31 649.79,686.6 652.8,723.43 655.8,718.66 658.81,705.01 661.81,707.06 664.81,729.57 667.82,713.2 670.82,698.88" fill="none" stroke="#c8702e" stroke-width="1.3" stroke-linejoin="round"/>
<circle cx="625.75" cy="728.89" r="1.9" fill="#c8702e"/>
<circle cx="628.76" cy="721.39" r="1.9" fill="#c8702e"/>
<circle cx="631.76" cy="735.03" r="1.9" fill="#c8702e"/>
<circle cx="634.77" cy="716.61" r="1.9" fill="#c8702e"/>
<circle cx="637.77" cy="714.56" r="1.9" fill="#c8702e"/>
<circle cx="640.78" cy="726.16" r="1.9" fill="#c8702e"/>
<circle cx="643.78" cy="695.46" r="1.9" fill="#c8702e"/>
<circle cx="646.79" cy="747.31" r="1.9" fill="#c8702e"/>
<circle cx="649.79" cy="686.6" r="1.9" fill="#c8702e"/>
<circle cx="652.8" cy="723.43" r="1.9" fill="#c8702e"/>
<circle cx="655.8" cy="718.66" r="1.9" fill="#c8702e"/>
<circle cx="658.81" cy="705.01" r="1.9" fill="#c8702e"/>
<circle cx="661.81" cy="707.06" r="1.9" fill="#c8702e"/>
<circle cx="664.81" cy="729.57" r="1.9" fill="#c8702e"/>
<circle cx="667.82" cy="713.2" r="1.9" fill="#c8702e"/>
<circle cx="670.82" cy="698.88" r="1.9" fill="#c8702e"/>
<rect x="696.75" y="677.5" width="60.25" height="27.5" fill="#fff" stroke="#eeeeee" stroke-width="0.5"/>
<line x1="702.2" y1="682" x2="712.8" y2="682" stroke="#203c6e" stroke-width="1.3"/>
<path d="M706.2 680.7L708.8 683.3M706.2 683.3L708.8 680.7M707.5 680.7V683.3" stroke="#203c6e" stroke-width="0.85"/>
<rect x="706.3" y="680.8" width="2.4" height="2.4" fill="#203c6e"/>
<text x="714.5" y="683.9" font-size="5.4" text-anchor="start" font-weight="700" fill="#000">2024/2025</text>
<line x1="702.2" y1="691.25" x2="712.8" y2="691.25" stroke="#c8702e" stroke-width="1.3"/>
<circle cx="707.5" cy="691.25" r="1.9" fill="#c8702e"/>
<text x="714.5" y="693.15" font-size="5.4" text-anchor="start" font-weight="700" fill="#000">2025/2026</text>
<line x1="702.2" y1="700.5" x2="712.8" y2="700.5" stroke="#4f7ea3" stroke-width="0.8"/>
<text x="714.5" y="702.4" font-size="5.4" text-anchor="start" font-weight="700" fill="#000">5 Year Average</text>
<text x="520.5" y="810.85" font-size="6.18" text-anchor="middle" font-weight="700" fill="#000">U.S. HRW Wheat Weekly Exports By Destination</text>
<text x="520.5" y="818.85" font-size="6.18" text-anchor="middle" font-weight="700" fill="#000">&amp; Port</text>
<line x1="442.5" y1="904.25" x2="594.5" y2="904.25" stroke="#e6e8eb" stroke-width="0.6"/>
<text x="437.75" y="906.12" font-size="5.2" text-anchor="end" font-weight="700" fill="#000">0.0</text>
<line x1="442.5" y1="890.42" x2="594.5" y2="890.42" stroke="#e6e8eb" stroke-width="0.6"/>
<text x="437.75" y="892.29" font-size="5.2" text-anchor="end" font-weight="700" fill="#000">0.5</text>
<line x1="442.5" y1="876.58" x2="594.5" y2="876.58" stroke="#e6e8eb" stroke-width="0.6"/>
<text x="437.75" y="878.46" font-size="5.2" text-anchor="end" font-weight="700" fill="#000">1.0</text>
<line x1="442.5" y1="862.75" x2="594.5" y2="862.75" stroke="#e6e8eb" stroke-width="0.6"/>
<text x="437.75" y="864.62" font-size="5.2" text-anchor="end" font-weight="700" fill="#000">1.5</text>
<line x1="442.5" y1="848.92" x2="594.5" y2="848.92" stroke="#e6e8eb" stroke-width="0.6"/>
<text x="437.75" y="850.79" font-size="5.2" text-anchor="end" font-weight="700" fill="#000">2.0</text>
<line x1="442.5" y1="835.08" x2="594.5" y2="835.08" stroke="#e6e8eb" stroke-width="0.6"/>
<text x="437.75" y="836.96" font-size="5.2" text-anchor="end" font-weight="700" fill="#000">2.5</text>
<line x1="442.5" y1="821.25" x2="594.5" y2="821.25" stroke="#e6e8eb" stroke-width="0.6"/>
<text x="437.75" y="823.12" font-size="5.2" text-anchor="end" font-weight="700" fill="#000">3.0</text>
<text x="425.45" y="853" font-size="4.9" text-anchor="middle" font-weight="700" fill="#000" transform="rotate(-90 425.45 853)">Million Bushels</text>
<line x1="442.5" y1="904.25" x2="594.5" y2="904.25" stroke="#c6c6c6" stroke-width="0.7"/>
<text class="wm" x="481.5" y="869.25" font-size="26" textLength="70" lengthAdjust="spacingAndGlyphs">StoneX</text><text class="wm" x="552.1" y="856.05" font-size="3.6" opacity="0.8">®</text>
<rect x="446.58" y="835.91" width="4.5" height="68.34" fill="#2b5597"/>
<text transform="translate(450.33 911.95) rotate(-45) scale(0.85 1)" font-size="5.9" text-anchor="end" font-weight="700">Venezuela</text>
<rect x="459.25" y="848.36" width="4.5" height="55.89" fill="#70a145"/>
<text transform="translate(463 911.95) rotate(-45) scale(0.85 1)" font-size="5.9" text-anchor="end" font-weight="700">Peru</text>
<rect x="471.92" y="863.58" width="4.5" height="40.67" fill="#2b5597"/>
<text transform="translate(475.67 911.95) rotate(-45) scale(0.85 1)" font-size="5.9" text-anchor="end" font-weight="700">Colombia</text>
<rect x="484.58" y="870.5" width="4.5" height="33.75" fill="#70a145"/>
<text transform="translate(488.33 911.95) rotate(-45) scale(0.85 1)" font-size="5.9" text-anchor="end" font-weight="700">Vietnam</text>
<rect x="497.25" y="875.75" width="4.5" height="28.5" fill="#c0672a"/>
<text transform="translate(501 911.95) rotate(-45) scale(0.85 1)" font-size="5.9" text-anchor="end" font-weight="700">Mexico</text>
<rect x="509.92" y="890.42" width="4.5" height="13.83" fill="#70a145"/>
<text transform="translate(513.67 911.95) rotate(-45) scale(0.85 1)" font-size="5.9" text-anchor="end" font-weight="700">South Korea</text>
<rect x="522.58" y="890.42" width="4.5" height="13.83" fill="#2b5597"/>
<text transform="translate(526.33 911.95) rotate(-45) scale(0.85 1)" font-size="5.9" text-anchor="end" font-weight="700">Dominican Republic</text>
<rect x="535.25" y="890.69" width="4.5" height="13.56" fill="#70a145"/>
<text transform="translate(539 911.95) rotate(-45) scale(0.85 1)" font-size="5.9" text-anchor="end" font-weight="700">Thailand</text>
<rect x="547.92" y="893.74" width="4.5" height="10.51" fill="#70a145"/>
<text transform="translate(551.67 911.95) rotate(-45) scale(0.85 1)" font-size="5.9" text-anchor="end" font-weight="700">Taiwan</text>
<rect x="560.58" y="897.33" width="4.5" height="6.92" fill="#2b5597"/>
<text transform="translate(564.33 911.95) rotate(-45) scale(0.85 1)" font-size="5.9" text-anchor="end" font-weight="700">Honduras</text>
<rect x="573.25" y="898.99" width="4.5" height="5.26" fill="#70a145"/>
<text transform="translate(577 911.95) rotate(-45) scale(0.85 1)" font-size="5.9" text-anchor="end" font-weight="700">Panama</text>
<rect x="585.92" y="903.97" width="4.5" height="0.28" fill="#c0672a"/>
<text transform="translate(589.67 911.95) rotate(-45) scale(0.85 1)" font-size="5.9" text-anchor="end" font-weight="700">Canada</text>
<rect x="548.75" y="822" width="36.75" height="45.5" fill="#fff" stroke="#eeeeee" stroke-width="0.5"/>
<rect x="556" y="824.75" width="3" height="3" fill="#7a4a3c"/>
<text x="561" y="828.05" font-size="5" text-anchor="start" font-weight="700" fill="#000">Atlantic</text>
<rect x="556" y="833.5" width="3" height="3" fill="#2b5597"/>
<text x="561" y="836.8" font-size="5" text-anchor="start" font-weight="700" fill="#000">Gulf</text>
<rect x="556" y="842.75" width="3" height="3" fill="#c0672a"/>
<text x="561" y="846.05" font-size="5" text-anchor="start" font-weight="700" fill="#000">Interior</text>
<rect x="556" y="851.75" width="3" height="3" fill="#fbb81a"/>
<text x="561" y="855.05" font-size="5" text-anchor="start" font-weight="700" fill="#000">Lakes</text>
<rect x="556" y="860.5" width="3" height="3" fill="#70a145"/>
<text x="561" y="863.8" font-size="5" text-anchor="start" font-weight="700" fill="#000">Pacific</text>
<text x="706.25" y="810.85" font-size="6.17" text-anchor="middle" font-weight="700" fill="#000">HRW Wheat Market YTD Exports by Destination</text>
<text x="706.25" y="818.85" font-size="6.17" text-anchor="middle" font-weight="700" fill="#000">&amp; Port</text>
<line x1="627.5" y1="904.25" x2="780.5" y2="904.25" stroke="#e6e8eb" stroke-width="0.6"/>
<text x="622.75" y="906.48" font-size="6.2" text-anchor="end" font-weight="700" fill="#000">0</text>
<line x1="627.5" y1="890.33" x2="780.5" y2="890.33" stroke="#e6e8eb" stroke-width="0.6"/>
<text x="622.75" y="892.57" font-size="6.2" text-anchor="end" font-weight="700" fill="#000">5</text>
<line x1="627.5" y1="876.42" x2="780.5" y2="876.42" stroke="#e6e8eb" stroke-width="0.6"/>
<text x="622.75" y="878.65" font-size="6.2" text-anchor="end" font-weight="700" fill="#000">10</text>
<line x1="627.5" y1="862.5" x2="780.5" y2="862.5" stroke="#e6e8eb" stroke-width="0.6"/>
<text x="622.75" y="864.73" font-size="6.2" text-anchor="end" font-weight="700" fill="#000">15</text>
<line x1="627.5" y1="848.58" x2="780.5" y2="848.58" stroke="#e6e8eb" stroke-width="0.6"/>
<text x="622.75" y="850.82" font-size="6.2" text-anchor="end" font-weight="700" fill="#000">20</text>
<line x1="627.5" y1="834.67" x2="780.5" y2="834.67" stroke="#e6e8eb" stroke-width="0.6"/>
<text x="622.75" y="836.9" font-size="6.2" text-anchor="end" font-weight="700" fill="#000">25</text>
<line x1="627.5" y1="820.75" x2="780.5" y2="820.75" stroke="#e6e8eb" stroke-width="0.6"/>
<text x="622.75" y="822.98" font-size="6.2" text-anchor="end" font-weight="700" fill="#000">30</text>
<text x="610.45" y="857.95" font-size="5.25" text-anchor="middle" font-weight="700" fill="#000" transform="rotate(-90 610.45 857.95)">Million Bushels</text>
<line x1="627.5" y1="904.25" x2="780.5" y2="904.25" stroke="#c6c6c6" stroke-width="0.7"/>
<text class="wm" x="666" y="870" font-size="26" textLength="70" lengthAdjust="spacingAndGlyphs">StoneX</text><text class="wm" x="736.6" y="856.8" font-size="3.6" opacity="0.8">®</text>
<rect x="632.15" y="883.93" width="6" height="20.32" fill="#2b5597"/>
<rect x="632.15" y="835.22" width="6" height="48.71" fill="#c0672a"/>
<text transform="translate(636.65 911.95) rotate(-45) scale(0.85 1)" font-size="5.9" text-anchor="end" font-weight="700">Mexico</text>
<rect x="647.45" y="845.24" width="6" height="59.01" fill="#2b5597"/>
<text transform="translate(651.95 911.95) rotate(-45) scale(0.85 1)" font-size="5.9" text-anchor="end" font-weight="700">Nigeria</text>
<rect x="662.75" y="881.15" width="6" height="23.1" fill="#2b5597"/>
<text transform="translate(667.25 911.95) rotate(-45) scale(0.85 1)" font-size="5.9" text-anchor="end" font-weight="700">Venezuela</text>
<rect x="678.05" y="883.93" width="6" height="20.32" fill="#70a145"/>
<text transform="translate(682.55 911.95) rotate(-45) scale(0.85 1)" font-size="5.9" text-anchor="end" font-weight="700">Japan</text>
<rect x="693.35" y="885.32" width="6" height="18.93" fill="#2b5597"/>
<text transform="translate(697.85 911.95) rotate(-45) scale(0.85 1)" font-size="5.9" text-anchor="end" font-weight="700">South Africa</text>
<rect x="708.65" y="887.83" width="6" height="16.42" fill="#2b5597"/>
<text transform="translate(713.15 911.95) rotate(-45) scale(0.85 1)" font-size="5.9" text-anchor="end" font-weight="700">Colombia</text>
<rect x="723.95" y="889.22" width="6" height="15.03" fill="#70a145"/>
<text transform="translate(728.45 911.95) rotate(-45) scale(0.85 1)" font-size="5.9" text-anchor="end" font-weight="700">Indonesia</text>
<rect x="739.25" y="901.19" width="6" height="3.06" fill="#2b5597"/>
<rect x="739.25" y="890.33" width="6" height="10.86" fill="#70a145"/>
<text transform="translate(743.75 911.95) rotate(-45) scale(0.85 1)" font-size="5.9" text-anchor="end" font-weight="700">Peru</text>
<rect x="754.55" y="894.23" width="6" height="10.02" fill="#70a145"/>
<text transform="translate(759.05 911.95) rotate(-45) scale(0.85 1)" font-size="5.9" text-anchor="end" font-weight="700">Vietnam</text>
<rect x="769.85" y="895.62" width="6" height="8.63" fill="#70a145"/>
<text transform="translate(774.35 911.95) rotate(-45) scale(0.85 1)" font-size="5.9" text-anchor="end" font-weight="700">South Korea</text>
<rect x="735" y="823.75" width="37" height="43.75" fill="#fff" stroke="#eeeeee" stroke-width="0.5"/>
<rect x="742.25" y="827.25" width="3" height="3" fill="#7a4a3c"/>
<text x="747.25" y="830.55" font-size="5.8" text-anchor="start" font-weight="700" fill="#000">Atlantic</text>
<rect x="742.25" y="836" width="3" height="3" fill="#2b5597"/>
<text x="747.25" y="839.3" font-size="5.8" text-anchor="start" font-weight="700" fill="#000">Gulf</text>
<rect x="742.25" y="844.75" width="3" height="3" fill="#c0672a"/>
<text x="747.25" y="848.05" font-size="5.8" text-anchor="start" font-weight="700" fill="#000">Interior</text>
<rect x="742.25" y="853.5" width="3" height="3" fill="#fbb81a"/>
<text x="747.25" y="856.8" font-size="5.8" text-anchor="start" font-weight="700" fill="#000">Lakes</text>
<rect x="742.25" y="861.5" width="3" height="3" fill="#70a145"/>
<text x="747.25" y="864.8" font-size="5.8" text-anchor="start" font-weight="700" fill="#000">Pacific</text>
</svg>
</div>
</body></html>
